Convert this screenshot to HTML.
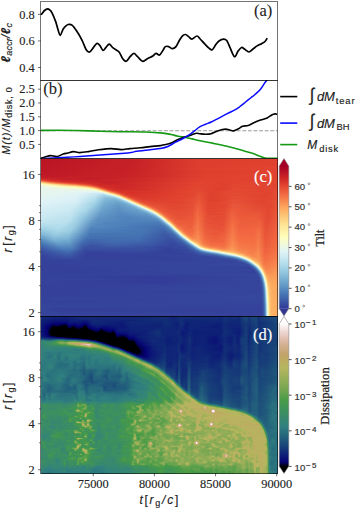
<!DOCTYPE html><html><head><meta charset="utf-8"><style>
*{margin:0;padding:0}
html,body{width:357px;height:510px;overflow:hidden;background:#fff}
#root{position:relative;width:357px;height:510px}
svg{position:absolute;left:0;top:0}
.tl{font-family:"Liberation Serif",serif;font-size:12.4px;fill:#222;stroke:#222;stroke-width:0.12px}
.pl{font-family:"Liberation Serif",serif;font-size:16.5px;fill:#222;stroke:#222;stroke-width:0.1px}
.ml{font-family:"Liberation Sans",sans-serif;font-style:italic;font-size:12.5px;fill:#222;letter-spacing:0.3px;stroke:#222;stroke-width:0.15px}
.sub{font-size:10px}
.lg{font-family:"Liberation Sans",sans-serif;font-style:italic;font-size:12.5px;fill:#222;stroke:#222;stroke-width:0.15px}
.lsub{font-size:10.5px}
.int{font-style:normal;font-size:15px}
.cb{font-family:"Liberation Sans",sans-serif;font-size:9.6px;fill:#333;stroke:#333;stroke-width:0.2px}
.sup{font-size:6.5px}
.deg{font-size:6px}
.cl{font-family:"Liberation Serif",serif;font-size:12px;fill:#222;stroke:#222;stroke-width:0.25px}
.hm{position:absolute;overflow:hidden}
.hm>div{position:absolute;left:0;width:100%}
</style></head><body><div id="root"><div class="hm" style="left:40.7px;top:158.5px;width:237px;height:158px"><div style="top:0px;height:1px;background:linear-gradient(90deg,#bb1526 0.5px,#c62027 91.5px,#dd3d2d 158.5px,#e0422f 236.5px)"></div><div style="top:1px;height:1px;background:linear-gradient(90deg,#bb1526 0.5px,#c62027 91.5px,#dd3d2d 157.5px,#e0422f 236.5px)"></div><div style="top:2px;height:1px;background:linear-gradient(90deg,#bb1526 0.5px,#c62027 91.5px,#dd3d2d 157.5px,#e0422f 236.5px)"></div><div style="top:3px;height:1px;background:linear-gradient(90deg,#bb1526 0.5px,#c62027 90.5px,#dd3d2d 158.5px,#e0422f 236.5px)"></div><div style="top:4px;height:1px;background:linear-gradient(90deg,#bb1526 0.5px,#c82227 95.5px,#dd3d2d 160.5px,#e0422f 236.5px)"></div><div style="top:5px;height:1px;background:linear-gradient(90deg,#bd1726 0.5px,#c62027 90.5px,#dd3d2d 157.5px,#e0422f 236.5px)"></div><div style="top:6px;height:1px;background:linear-gradient(90deg,#bd1726 0.5px,#c62027 89.5px,#dd3d2d 158.5px,#e0422f 236.5px)"></div><div style="top:7px;height:1px;background:linear-gradient(90deg,#bd1726 0.5px,#c62027 89.5px,#de402e 157.5px,#e14430 236.5px)"></div><div style="top:8px;height:1px;background:linear-gradient(90deg,#bd1726 0.5px,#c82227 93.5px,#dd3d2d 160.5px,#e14430 236.5px)"></div><div style="top:9px;height:1px;background:linear-gradient(90deg,#bd1726 0.5px,#c82227 93.5px,#de402e 158.5px,#e14430 236.5px)"></div><div style="top:10px;height:1px;background:linear-gradient(90deg,#bd1726 0.5px,#c82227 92.5px,#dd3d2d 159.5px,#e14430 236.5px)"></div><div style="top:11px;height:1px;background:linear-gradient(90deg,#bd1726 0.5px,#c82227 92.5px,#de402e 159.5px,#e14430 236.5px)"></div><div style="top:12px;height:1px;background:linear-gradient(90deg,#bd1726 0.5px,#ca2427 96.5px,#dd3d2d 160.5px,#de402e 218.5px,#e14430 236.5px)"></div><div style="top:13px;height:1px;background:linear-gradient(90deg,#be1827 0.5px,#c82227 90.5px,#dd3d2d 160.5px,#e0422f 218.5px,#e14430 236.5px)"></div><div style="top:14px;height:1px;background:linear-gradient(90deg,#be1827 0.5px,#c82227 90.5px,#de402e 160.5px,#e14430 236.5px)"></div><div style="top:15px;height:1px;background:linear-gradient(90deg,#be1827 0.5px,#ca2427 94.5px,#de402e 160.5px,#e14430 236.5px)"></div><div style="top:16px;height:1px;background:linear-gradient(90deg,#c01a27 0.5px,#c82227 88.5px,#de402e 163.5px,#e14430 236.5px)"></div><div style="top:17px;height:1px;background:linear-gradient(90deg,#c01a27 0.5px,#ca2427 92.5px,#de402e 163.5px,#e14430 235.5px,#e24731 236.5px)"></div><div style="top:18px;height:1px;background:linear-gradient(90deg,#c41e27 0.5px,#c62027 80.5px,#de402e 161.5px,#e0422f 186.5px,#e14430 234.5px,#e24731 236.5px)"></div><div style="top:19px;height:1px;background:linear-gradient(90deg,#ca2427 0.5px,#c21c27 51.5px,#db382b 137.5px,#de402e 159.5px,#e0422f 185.5px,#e14430 234.5px,#e24731 236.5px)"></div><div style="top:20px;height:1px;background:linear-gradient(90deg,#d83128 0.5px,#c41e27 20.5px,#cc2627 93.5px,#e0422f 158.5px,#e0422f 185.5px,#e0422f 218.5px,#e24731 236.5px)"></div><div style="top:21px;height:1px;background:linear-gradient(90deg,#e65036 0.5px,#d42d27 9.5px,#c41e27 41.5px,#d42d27 111.5px,#e0422f 159.5px,#e0422f 184.5px,#e0422f 219.5px,#e24731 236.5px)"></div><div style="top:22px;height:1px;background:linear-gradient(90deg,#f8864f 0.5px,#e34933 9.5px,#d02927 23.5px,#c62027 70.5px,#e0422f 159.5px,#e0422f 184.5px,#e0422f 219.5px,#e24731 236.5px)"></div><div style="top:23px;height:1px;background:linear-gradient(90deg,#fec87a 0.5px,#f7814c 8.5px,#e65036 17.5px,#d62f27 32.5px,#c62027 64.5px,#e14430 155.5px,#de402e 182.5px,#e24731 210.5px,#e0422f 231.5px,#e24731 236.5px)"></div><div style="top:24px;height:1px;background:linear-gradient(90deg,#fff0a8 0.5px,#feca7c 7.5px,#f99153 15.5px,#ed5f3c 25.5px,#d22b27 47.5px,#c82227 70.5px,#e14430 154.5px,#de402e 182.5px,#e24731 210.5px,#e0422f 230.5px,#e34933 236.5px)"></div><div style="top:25px;height:1px;background:linear-gradient(90deg,#fafdc9 0.5px,#fff1aa 7.5px,#fdbb6d 19.5px,#ea5739 40.5px,#d02927 54.5px,#ca2427 76.5px,#e14430 158.5px,#de402e 182.5px,#e24731 193.5px,#e14430 232.5px,#e34933 236.5px)"></div><div style="top:26px;height:1px;background:linear-gradient(90deg,#eff9dd 0.5px,#fffbb9 12.5px,#fdbb6d 33.5px,#eb5a3a 48.5px,#d02927 58.5px,#d02927 94.5px,#e14430 159.5px,#de402e 182.5px,#e24731 194.5px,#e14430 232.5px,#e34933 236.5px)"></div><div style="top:27px;height:1px;background:linear-gradient(90deg,#eaf7e6 0.5px,#fafdc9 16.5px,#fee597 35.5px,#fdaf62 45.5px,#e95538 54.5px,#d42d27 60.5px,#cc2627 80.5px,#e14430 153.5px,#e0422f 161.5px,#e0422f 183.5px,#e24731 207.5px,#e14430 232.5px,#e34933 236.5px)"></div><div style="top:28px;height:1px;background:linear-gradient(90deg,#e7f6eb 0.5px,#fdfec2 33.5px,#feeba1 43.5px,#fed081 48.5px,#fcaa5f 52.5px,#e75337 58.5px,#d62f27 63.5px,#ce2827 79.5px,#e14430 152.5px,#e14430 159.5px,#de402e 182.5px,#e24731 194.5px,#e14430 232.5px,#e34933 236.5px)"></div><div style="top:29px;height:1px;background:linear-gradient(90deg,#e6f5ed 0.5px,#f3fbd4 38.5px,#fff8b5 47.5px,#fed687 53.5px,#fa9656 57.5px,#e95538 61.5px,#d83128 66.5px,#ce2827 80.5px,#e14430 152.5px,#e24731 158.5px,#dd3d2d 179.5px,#e24731 193.5px,#e0422f 220.5px,#e34933 236.5px)"></div><div style="top:30px;height:1px;background:linear-gradient(90deg,#e6f5ed 0.5px,#e9f6e8 31.5px,#f1fad9 46.5px,#fff8b5 53.5px,#fee294 56.5px,#fa9b58 60.5px,#ea5739 64.5px,#da362a 68.5px,#d02927 81.5px,#e14430 152.5px,#e34933 158.5px,#dd3d2d 176.5px,#e34933 193.5px,#e14430 230.5px,#e44c34 236.5px)"></div><div style="top:31px;height:1px;background:linear-gradient(90deg,#e6f5ed 0.5px,#e9f6e8 48.5px,#f8fccb 55.5px,#fff1aa 58.5px,#fec87a 61.5px,#f88950 64.5px,#e54e35 68.5px,#d83128 74.5px,#d83128 105.5px,#e24731 153.5px,#e24731 159.5px,#de402e 177.5px,#e34933 193.5px,#e14430 231.5px,#e44c34 236.5px)"></div><div style="top:32px;height:1px;background:linear-gradient(90deg,#e6f5ed 0.5px,#e5f5ef 34.5px,#e5f5ef 54.5px,#f6fbd0 59.5px,#fff7b3 61.5px,#fecc7e 64.5px,#f98e52 67.5px,#e75337 71.5px,#d83128 78.5px,#da362a 113.5px,#e24731 152.5px,#e34933 158.5px,#de402e 174.5px,#e34933 188.5px,#e0422f 221.5px,#e34933 234.5px,#e44c34 236.5px)"></div><div style="top:33px;height:1px;background:linear-gradient(90deg,#e6f5ed 0.5px,#e4f4f1 35.5px,#dcf1f7 58.5px,#e7f6eb 61.5px,#fffcba 64.5px,#fed081 67.5px,#fa9656 70.5px,#ec5c3b 74.5px,#db382b 79.5px,#d62f27 90.5px,#e24731 152.5px,#e44c34 158.5px,#de402e 171.5px,#e24731 185.5px,#e24731 216.5px,#e0422f 228.5px,#e44c34 236.5px)"></div><div style="top:34px;height:1px;background:linear-gradient(90deg,#e6f5ed 0.5px,#e2f4f4 35.5px,#cbe9f2 56.5px,#cdeaf3 62.5px,#e1f3f6 64.5px,#feffc0 67.5px,#fdc778 71.5px,#f46d43 76.5px,#e0422f 80.5px,#d83128 87.5px,#de402e 138.5px,#e34933 153.5px,#e44c34 158.5px,#de402e 174.5px,#e44c34 189.5px,#e14430 229.5px,#e44c34 236.5px)"></div><div style="top:35px;height:1px;background:linear-gradient(90deg,#e5f5ef 0.5px,#e1f3f6 35.5px,#c9e8f2 54.5px,#b4deec 62.5px,#cdeaf3 66.5px,#e4f4f1 68.5px,#fffcba 71.5px,#fed485 74.5px,#fa9656 77.5px,#eb5a3a 80.5px,#dc3b2c 84.5px,#d93429 96.5px,#e14430 151.5px,#e65036 157.5px,#de402e 168.5px,#e24731 185.5px,#e44c34 193.5px,#e0422f 222.5px,#e54e35 236.5px)"></div><div style="top:36px;height:1px;background:linear-gradient(90deg,#e5f5ef 0.5px,#def2f7 36.5px,#c3e5f0 54.5px,#a3d3e6 63.5px,#b9e0ed 68.5px,#daf0f6 71.5px,#eff9dd 73.5px,#fff7b3 75.5px,#fdbf71 78.5px,#f57245 81.5px,#e34933 84.5px,#d93429 91.5px,#e24731 151.5px,#e65036 157.5px,#de402e 171.5px,#e24731 184.5px,#e34933 194.5px,#e24731 218.5px,#e0422f 228.5px,#e54e35 236.5px)"></div><div style="top:37px;height:1px;background:linear-gradient(90deg,#e4f4f1 0.5px,#def2f7 35.5px,#c1e4ef 53.5px,#97c9e0 64.5px,#acdae9 71.5px,#cdeaf3 74.5px,#def2f7 75.5px,#fafdc9 77.5px,#fee294 79.5px,#fdaf62 81.5px,#f16640 84.5px,#e0422f 88.5px,#da362a 98.5px,#e24731 151.5px,#e75337 157.5px,#de402e 168.5px,#e24731 184.5px,#e54e35 192.5px,#e0422f 222.5px,#e44c34 234.5px,#e54e35 236.5px)"></div><div style="top:38px;height:1px;background:linear-gradient(90deg,#e4f4f1 0.5px,#dcf1f7 35.5px,#b9e0ed 54.5px,#8ec2dc 63.5px,#92c5de 71.5px,#acdae9 75.5px,#e1f3f6 78.5px,#fffbb9 80.5px,#fdb769 83.5px,#f46d43 86.5px,#e14430 90.5px,#db382b 100.5px,#e24731 151.5px,#e75337 157.5px,#de402e 169.5px,#e24731 184.5px,#e54e35 193.5px,#e0422f 223.5px,#e54e35 236.5px)"></div><div style="top:39px;height:1px;background:linear-gradient(90deg,#e2f4f4 0.5px,#dcf1f7 34.5px,#b6dfec 53.5px,#85bbd9 64.5px,#85bbd9 73.5px,#a1d1e5 77.5px,#daf0f6 80.5px,#fdfec2 82.5px,#feda8a 84.5px,#fca55d 86.5px,#f57245 88.5px,#e24731 92.5px,#dc3b2c 102.5px,#e0422f 138.5px,#e44c34 152.5px,#e75337 158.5px,#de402e 169.5px,#e24731 184.5px,#e54e35 193.5px,#e14430 229.5px,#e54e35 236.5px)"></div><div style="top:40px;height:1px;background:linear-gradient(90deg,#e2f4f4 0.5px,#dcf1f7 34.5px,#aedbea 54.5px,#81b7d7 64.5px,#7ab2d4 74.5px,#90c3dd 78.5px,#bbe1ed 81.5px,#d1ecf4 82.5px,#e6f5ed 83.5px,#f7fcce 84.5px,#fee192 86.5px,#fdad60 88.5px,#f26841 91.5px,#e44c34 94.5px,#dd3d2d 101.5px,#e14430 140.5px,#e44c34 152.5px,#e95538 157.5px,#de402e 169.5px,#e14430 183.5px,#e65036 192.5px,#e14430 229.5px,#e65036 236.5px)"></div><div style="top:41px;height:1px;background:linear-gradient(90deg,#e1f3f6 0.5px,#daf0f6 34.5px,#aedbea 53.5px,#7db4d5 64.5px,#74add1 75.5px,#8cc0db 80.5px,#b4deec 83.5px,#e1f3f6 85.5px,#fff8b5 87.5px,#fdb366 90.5px,#f46d43 93.5px,#e34933 97.5px,#de402e 110.5px,#e14430 139.5px,#e54e35 152.5px,#e95538 158.5px,#de402e 168.5px,#e0422f 182.5px,#e75337 191.5px,#e54e35 199.5px,#e14430 221.5px,#e44c34 233.5px,#e65036 236.5px)"></div><div style="top:42px;height:1px;background:linear-gradient(90deg,#e0f3f8 0.5px,#d8eff6 34.5px,#aad8e9 53.5px,#78b0d3 64.5px,#6ea6ce 76.5px,#87bdd9 82.5px,#aedbea 85.5px,#dcf1f7 87.5px,#fffdbc 89.5px,#fdb96b 92.5px,#f57245 95.5px,#e44c34 99.5px,#e0422f 112.5px,#e14430 138.5px,#e54e35 152.5px,#ea5739 157.5px,#de402e 168.5px,#e34933 184.5px,#e65036 193.5px,#e14430 221.5px,#e44c34 233.5px,#e65036 236.5px)"></div><div style="top:43px;height:1px;background:linear-gradient(90deg,#e0f3f8 0.5px,#d6eef5 34.5px,#a1d1e5 54.5px,#74add1 64.5px,#6ba2cb 77.5px,#7db4d5 83.5px,#99cae1 86.5px,#d6eef5 89.5px,#eaf7e6 90.5px,#fcfec5 91.5px,#feda8a 93.5px,#fca55d 95.5px,#f26841 98.5px,#e44c34 102.5px,#de402e 135.5px,#e54e35 152.5px,#eb5a3a 157.5px,#e0422f 167.5px,#e34933 184.5px,#e75337 192.5px,#e14430 222.5px,#e44c34 232.5px,#e65036 236.5px)"></div><div style="top:44px;height:1px;background:linear-gradient(90deg,#def2f7 0.5px,#d4edf4 34.5px,#a1d1e5 53.5px,#74add1 63.5px,#679ec9 77.5px,#78b0d3 85.5px,#a6d5e7 89.5px,#cfebf3 91.5px,#e6f5ed 92.5px,#f8fccb 93.5px,#fee192 95.5px,#fdaf62 97.5px,#f67f4b 99.5px,#e75337 103.5px,#e24731 113.5px,#e24731 139.5px,#e44c34 151.5px,#eb5a3a 157.5px,#e0422f 168.5px,#e34933 184.5px,#e75337 192.5px,#e24731 220.5px,#e24731 230.5px,#e75337 236.5px)"></div><div style="top:45px;height:1px;background:linear-gradient(90deg,#dcf1f7 0.5px,#d1ecf4 33.5px,#a1d1e5 52.5px,#72abd0 63.5px,#659bc8 75.5px,#6ea6ce 85.5px,#87bdd9 89.5px,#b4deec 92.5px,#e2f4f4 94.5px,#fff7b3 96.5px,#fdb567 99.5px,#f57547 102.5px,#e75337 106.5px,#e24731 119.5px,#e24731 139.5px,#e65036 152.5px,#ec5c3b 157.5px,#e24731 165.5px,#e24731 183.5px,#e95538 192.5px,#e65036 199.5px,#e24731 221.5px,#e24731 229.5px,#e75337 236.5px)"></div><div style="top:46px;height:1px;background:linear-gradient(90deg,#dcf1f7 0.5px,#cfebf3 33.5px,#a1d1e5 51.5px,#72abd0 62.5px,#6297c6 76.5px,#70a9cf 88.5px,#9dcee3 93.5px,#def2f7 96.5px,#fffcba 98.5px,#fca55d 102.5px,#f46d43 105.5px,#e75337 109.5px,#e24731 129.5px,#e24731 138.5px,#e65036 152.5px,#ec5c3b 157.5px,#e0422f 169.5px,#e14430 182.5px,#ea5739 191.5px,#e65036 209.5px,#e24731 221.5px,#e24731 229.5px,#e75337 236.5px)"></div><div style="top:47px;height:1px;background:linear-gradient(90deg,#daf0f6 0.5px,#cdeaf3 33.5px,#9dcee3 51.5px,#6ea6ce 62.5px,#6095c4 78.5px,#70a9cf 90.5px,#8cc0db 94.5px,#bfe3ef 97.5px,#d8eff6 98.5px,#ebf7e4 99.5px,#fcfec5 100.5px,#fede8e 102.5px,#fdaf62 104.5px,#f57245 107.5px,#e95538 111.5px,#e24731 130.5px,#e54e35 151.5px,#ed5f3c 157.5px,#e24731 165.5px,#e14430 182.5px,#ea5739 192.5px,#e65036 210.5px,#e34933 220.5px,#e24731 228.5px,#e75337 236.5px)"></div><div style="top:48px;height:1px;background:linear-gradient(90deg,#d8eff6 0.5px,#cdeaf3 31.5px,#a6d5e7 48.5px,#6da4cc 62.5px,#5e93c3 78.5px,#6ea6ce 92.5px,#8abeda 96.5px,#b9e0ed 99.5px,#cfebf3 100.5px,#e6f5ed 101.5px,#f7fcce 102.5px,#fee496 104.5px,#fb9d59 107.5px,#f36b42 110.5px,#e75337 114.5px,#e24731 137.5px,#e54e35 151.5px,#ee613e 156.5px,#e24731 166.5px,#e24731 182.5px,#ea5739 192.5px,#e75337 199.5px,#e44c34 219.5px,#e24731 228.5px,#e95538 236.5px)"></div><div style="top:49px;height:1px;background:linear-gradient(90deg,#d6eef5 0.5px,#cdeaf3 29.5px,#a8d6e8 46.5px,#6da4cc 61.5px,#5c90c2 77.5px,#6ba2cb 93.5px,#87bdd9 98.5px,#b2ddeb 101.5px,#e1f3f6 103.5px,#fffbb9 105.5px,#fdbb6d 108.5px,#f67a49 111.5px,#ea5739 115.5px,#e34933 129.5px,#e34933 138.5px,#e75337 152.5px,#ee613e 157.5px,#e14430 167.5px,#e34933 183.5px,#eb5a3a 192.5px,#e95538 200.5px,#e44c34 220.5px,#e24731 228.5px,#e95538 236.5px)"></div><div style="top:50px;height:1px;background:linear-gradient(90deg,#d6eef5 0.5px,#cbe9f2 30.5px,#a8d6e8 45.5px,#69a0ca 62.5px,#5c90c2 76.5px,#69a0ca 95.5px,#83b9d8 100.5px,#acdae9 103.5px,#daf0f6 105.5px,#feffc0 107.5px,#fdbf71 110.5px,#f98e52 112.5px,#f46d43 114.5px,#e95538 118.5px,#e24731 136.5px,#e65036 151.5px,#ef633f 156.5px,#e14430 167.5px,#e34933 183.5px,#ec5c3b 191.5px,#e95538 199.5px,#e44c34 220.5px,#e24731 228.5px,#e95538 236.5px)"></div><div style="top:51px;height:1px;background:linear-gradient(90deg,#d4edf4 0.5px,#cbe9f2 28.5px,#a8d6e8 44.5px,#69a0ca 61.5px,#5a8ec1 77.5px,#679ec9 96.5px,#7fb6d6 102.5px,#a6d5e7 105.5px,#d4edf4 107.5px,#eaf7e6 108.5px,#fcfec5 109.5px,#feda8a 111.5px,#fba35c 113.5px,#f57748 115.5px,#ec5c3b 118.5px,#e44c34 127.5px,#e44c34 138.5px,#e65036 151.5px,#f16640 156.5px,#e34933 165.5px,#e24731 182.5px,#ec5c3b 191.5px,#e95538 199.5px,#e65036 219.5px,#e24731 227.5px,#e95538 236.5px)"></div><div style="top:52px;height:1px;background:linear-gradient(90deg,#d1ecf4 0.5px,#c9e8f2 28.5px,#a8d6e8 43.5px,#69a0ca 60.5px,#588cc0 76.5px,#659bc8 98.5px,#7ab2d4 104.5px,#a1d1e5 107.5px,#cfebf3 109.5px,#e9f6e8 110.5px,#fcfec5 111.5px,#fed687 113.5px,#fb9d59 115.5px,#f57245 117.5px,#e95538 121.5px,#e44c34 138.5px,#e75337 151.5px,#f16640 156.5px,#e14430 168.5px,#e34933 182.5px,#ed5f3c 191.5px,#e95538 199.5px,#e65036 219.5px,#e24731 227.5px,#ea5739 236.5px)"></div><div style="top:53px;height:1px;background:linear-gradient(90deg,#d1ecf4 0.5px,#c7e7f1 29.5px,#9fd0e4 44.5px,#659bc8 60.5px,#578abf 80.5px,#679ec9 102.5px,#76afd2 106.5px,#9fd0e4 109.5px,#cfebf3 111.5px,#eaf7e6 112.5px,#fffebe 113.5px,#fdb164 116.5px,#f67c4a 118.5px,#ec5c3b 121.5px,#e54e35 130.5px,#e54e35 139.5px,#e75337 151.5px,#f26841 156.5px,#e34933 166.5px,#e44c34 183.5px,#ed5f3c 191.5px,#ea5739 199.5px,#e75337 219.5px,#e24731 227.5px,#ea5739 236.5px)"></div><div style="top:54px;height:1px;background:linear-gradient(90deg,#cfebf3 0.5px,#c5e6f0 29.5px,#9bcce2 44.5px,#659bc8 59.5px,#5588be 80.5px,#6399c7 104.5px,#7fb6d6 109.5px,#b6dfec 112.5px,#d6eef5 113.5px,#f0f9db 114.5px,#fff7b3 115.5px,#fdc173 117.5px,#f8864f 119.5px,#ee613e 122.5px,#e65036 128.5px,#e75337 151.5px,#f26841 156.5px,#e24731 167.5px,#e34933 182.5px,#ee613e 191.5px,#ea5739 199.5px,#ea5739 215.5px,#e24731 227.5px,#ea5739 236.5px)"></div><div style="top:55px;height:1px;background:linear-gradient(90deg,#cfebf3 0.5px,#c3e5f0 29.5px,#9bcce2 43.5px,#6399c7 59.5px,#5588be 79.5px,#6297c6 106.5px,#7db4d5 111.5px,#bfe3ef 114.5px,#e1f3f6 115.5px,#fafdc9 116.5px,#fed081 118.5px,#fdb164 119.5px,#f67c4a 121.5px,#ec5c3b 124.5px,#e44c34 136.5px,#e95538 151.5px,#f36b42 156.5px,#e24731 167.5px,#e34933 182.5px,#ee613e 191.5px,#ea5739 201.5px,#ea5739 218.5px,#e24731 226.5px,#ea5739 236.5px)"></div><div style="top:56px;height:1px;background:linear-gradient(90deg,#cdeaf3 0.5px,#c1e4ef 29.5px,#9bcce2 42.5px,#6297c6 58.5px,#5385bd 82.5px,#5e93c3 107.5px,#72abd0 112.5px,#92c5de 114.5px,#cdeaf3 116.5px,#ecf8e2 117.5px,#fff8b5 118.5px,#fdbf71 120.5px,#f7844e 122.5px,#ed5f3c 125.5px,#e54e35 136.5px,#e95538 151.5px,#f36b42 156.5px,#e44c34 166.5px,#e44c34 182.5px,#ef633f 191.5px,#ea5739 198.5px,#eb5a3a 215.5px,#e95538 219.5px,#e34933 227.5px,#eb5a3a 236.5px)"></div><div style="top:57px;height:1px;background:linear-gradient(90deg,#cdeaf3 0.5px,#bde2ee 30.5px,#97c9e0 42.5px,#6095c4 58.5px,#5183bb 82.5px,#5a8ec1 109.5px,#74add1 114.5px,#9bcce2 116.5px,#e0f3f8 118.5px,#fafdc9 119.5px,#feeba1 120.5px,#fdad60 122.5px,#f88c51 123.5px,#f26841 125.5px,#e75337 131.5px,#e75337 139.5px,#ea5739 151.5px,#f46d43 156.5px,#e54e35 165.5px,#e34933 181.5px,#ef633f 191.5px,#eb5a3a 199.5px,#eb5a3a 215.5px,#e75337 220.5px,#e34933 227.5px,#eb5a3a 236.5px)"></div><div style="top:58px;height:1px;background:linear-gradient(90deg,#cbe9f2 0.5px,#bde2ee 29.5px,#97c9e0 41.5px,#5e93c3 57.5px,#5183bb 86.5px,#588cc0 110.5px,#6da4cc 115.5px,#8ec2dc 117.5px,#cdeaf3 119.5px,#eff9dd 120.5px,#fff5af 121.5px,#fdb366 123.5px,#f67a49 125.5px,#ec5c3b 128.5px,#e65036 137.5px,#ea5739 151.5px,#f46d43 157.5px,#e54e35 165.5px,#e44c34 182.5px,#f16640 191.5px,#eb5a3a 199.5px,#ec5c3b 215.5px,#ea5739 219.5px,#e34933 226.5px,#eb5a3a 236.5px)"></div><div style="top:59px;height:1px;background:linear-gradient(90deg,#c9e8f2 0.5px,#bbe1ed 29.5px,#92c5de 41.5px,#5c90c2 57.5px,#5183bb 86.5px,#578abf 112.5px,#659bc8 116.5px,#81b7d7 118.5px,#bfe3ef 120.5px,#e6f5ed 121.5px,#fffbb9 122.5px,#fee090 123.5px,#fdb96b 124.5px,#f67f4b 126.5px,#ed5f3c 129.5px,#e75337 137.5px,#ea5739 151.5px,#f47044 156.5px,#e65036 165.5px,#e34933 177.5px,#e65036 183.5px,#f16640 191.5px,#ec5c3b 199.5px,#ec5c3b 215.5px,#e95538 220.5px,#e34933 226.5px,#ec5c3b 236.5px)"></div><div style="top:60px;height:1px;background:linear-gradient(90deg,#c7e7f1 0.5px,#bbe1ed 28.5px,#97c9e0 39.5px,#5c90c2 56.5px,#4f81ba 86.5px,#5588be 114.5px,#69a0ca 118.5px,#90c3dd 120.5px,#e0f3f8 122.5px,#fdfec2 123.5px,#fdbf71 125.5px,#f7844e 127.5px,#f26841 129.5px,#e75337 136.5px,#eb5a3a 151.5px,#f47044 157.5px,#e75337 164.5px,#e34933 174.5px,#e65036 183.5px,#f26841 191.5px,#ec5c3b 198.5px,#ed5f3c 215.5px,#eb5a3a 219.5px,#e34933 226.5px,#ec5c3b 236.5px)"></div><div style="top:61px;height:1px;background:linear-gradient(90deg,#c5e6f0 0.5px,#b9e0ed 28.5px,#90c3dd 40.5px,#5a8ec1 55.5px,#4f81ba 89.5px,#5385bd 116.5px,#6399c7 119.5px,#8abeda 121.5px,#d8eff6 123.5px,#f8fccb 124.5px,#feea9f 125.5px,#fca55d 127.5px,#f57748 129.5px,#eb5a3a 133.5px,#eb5a3a 151.5px,#f57245 156.5px,#e65036 165.5px,#e54e35 182.5px,#f26841 191.5px,#ec5c3b 199.5px,#ec5c3b 214.5px,#ed5f3c 218.5px,#e44c34 225.5px,#ec5c3b 236.5px)"></div><div style="top:62px;height:1px;background:linear-gradient(90deg,#c1e4ef 0.5px,#bbe1ed 25.5px,#9dcee3 36.5px,#5a8ec1 54.5px,#4f81ba 86.5px,#4f81ba 117.5px,#6095c4 120.5px,#83b9d8 122.5px,#cdeaf3 124.5px,#f2fad6 125.5px,#feefa6 126.5px,#fdaf62 128.5px,#f67c4a 130.5px,#ed5f3c 133.5px,#eb5a3a 141.5px,#ea5739 150.5px,#f57245 156.5px,#e75337 165.5px,#e44c34 177.5px,#e75337 183.5px,#f36b42 191.5px,#ec5c3b 199.5px,#ed5f3c 214.5px,#ee613e 218.5px,#e44c34 225.5px,#ec5c3b 236.5px)"></div><div style="top:63px;height:1px;background:linear-gradient(90deg,#bfe3ef 0.5px,#b9e0ed 25.5px,#97c9e0 37.5px,#6095c4 51.5px,#5385bd 63.5px,#4a7ab7 117.5px,#5c90c2 121.5px,#7db4d5 123.5px,#c5e6f0 125.5px,#ebf7e4 126.5px,#fff6b1 127.5px,#fdb769 129.5px,#f67f4b 131.5px,#ed5f3c 134.5px,#ec5c3b 151.5px,#f57547 156.5px,#e75337 165.5px,#e44c34 181.5px,#f36b42 191.5px,#ed5f3c 199.5px,#ed5f3c 214.5px,#ee613e 218.5px,#e44c34 225.5px,#ed5f3c 236.5px)"></div><div style="top:64px;height:1px;background:linear-gradient(90deg,#bbe1ed 0.5px,#b9e0ed 23.5px,#9bcce2 35.5px,#5c90c2 51.5px,#5183bb 65.5px,#4a7ab7 119.5px,#588cc0 122.5px,#76afd2 124.5px,#b9e0ed 126.5px,#e4f4f1 127.5px,#fffdbc 128.5px,#fdbf71 130.5px,#f7814c 132.5px,#f16640 134.5px,#ec5c3b 139.5px,#eb5a3a 150.5px,#f57547 156.5px,#e54e35 167.5px,#e65036 182.5px,#f46d43 191.5px,#ed5f3c 199.5px,#ee613e 214.5px,#ef633f 218.5px,#e44c34 225.5px,#ed5f3c 236.5px)"></div><div style="top:65px;height:1px;background:linear-gradient(90deg,#b6dfec 0.5px,#b4deec 24.5px,#99cae1 35.5px,#6095c4 49.5px,#5385bd 57.5px,#4676b5 119.5px,#578abf 123.5px,#70a9cf 125.5px,#aedbea 127.5px,#daf0f6 128.5px,#fbfdc7 129.5px,#fee79b 130.5px,#fdc374 131.5px,#fba05b 132.5px,#f57245 134.5px,#ed5f3c 137.5px,#ed5f3c 151.5px,#f57748 156.5px,#e95538 164.5px,#e54e35 181.5px,#f47044 191.5px,#ed5f3c 198.5px,#ee613e 214.5px,#ef633f 218.5px,#e54e35 224.5px,#ed5f3c 236.5px)"></div><div style="top:66px;height:1px;background:linear-gradient(90deg,#b2ddeb 0.5px,#b4deec 22.5px,#99cae1 34.5px,#578abf 51.5px,#4d7fb9 84.5px,#4471b2 120.5px,#5385bd 124.5px,#6ba2cb 126.5px,#81b7d7 127.5px,#d1ecf4 129.5px,#f6fbd0 130.5px,#fee99d 131.5px,#fdc374 132.5px,#fba05b 133.5px,#f57245 135.5px,#ef633f 138.5px,#ec5c3b 150.5px,#f57748 156.5px,#e95538 165.5px,#e54e35 181.5px,#f47044 191.5px,#ed5f3c 197.5px,#ed5f3c 213.5px,#f16640 218.5px,#e54e35 224.5px,#ed5f3c 236.5px)"></div><div style="top:67px;height:1px;background:linear-gradient(90deg,#aedbea 0.5px,#b4deec 19.5px,#9dcee3 32.5px,#578abf 50.5px,#4b7db8 84.5px,#4471b2 112.5px,#4471b2 122.5px,#588cc0 126.5px,#7ab2d4 128.5px,#9dcee3 129.5px,#cdeaf3 130.5px,#f5fbd2 131.5px,#feea9f 132.5px,#fdc576 133.5px,#fba05b 134.5px,#f7844e 135.5px,#f36b42 137.5px,#ec5c3b 149.5px,#f67a49 156.5px,#e95538 165.5px,#e65036 181.5px,#f57245 191.5px,#ee613e 198.5px,#ef633f 214.5px,#f16640 218.5px,#e54e35 225.5px,#ee613e 236.5px)"></div><div style="top:68px;height:1px;background:linear-gradient(90deg,#a8d6e8 0.5px,#b2ddeb 18.5px,#9dcee3 31.5px,#5385bd 50.5px,#4574b3 107.5px,#426cb0 122.5px,#5588be 127.5px,#78b0d3 129.5px,#cbe9f2 131.5px,#f5fbd2 132.5px,#feea9f 133.5px,#fdc576 134.5px,#fba35c 135.5px,#f8864f 136.5px,#f47044 138.5px,#ec5c3b 148.5px,#f57547 154.5px,#f57547 158.5px,#eb5a3a 163.5px,#e65036 173.5px,#ea5739 183.5px,#f57245 191.5px,#ee613e 198.5px,#ef633f 214.5px,#f26841 218.5px,#e65036 224.5px,#ee613e 236.5px)"></div><div style="top:69px;height:1px;background:linear-gradient(90deg,#a3d3e6 0.5px,#b0dcea 17.5px,#9bcce2 31.5px,#5385bd 49.5px,#4b7db8 86.5px,#426cb0 113.5px,#426cb0 124.5px,#5385bd 128.5px,#76afd2 130.5px,#cbe9f2 132.5px,#f3fbd4 133.5px,#feeba1 134.5px,#fdc778 135.5px,#fca55d 136.5px,#f67c4a 138.5px,#ef633f 143.5px,#ef633f 151.5px,#f67c4a 156.5px,#ea5739 165.5px,#e65036 180.5px,#f57547 191.5px,#ef633f 198.5px,#ef633f 213.5px,#f46d43 217.5px,#e65036 225.5px,#ee613e 236.5px)"></div><div style="top:70px;height:1px;background:linear-gradient(90deg,#9dcee3 0.5px,#acdae9 16.5px,#9bcce2 30.5px,#4d7fb9 50.5px,#4676b5 103.5px,#4065ac 122.5px,#4a7ab7 128.5px,#6095c4 130.5px,#76afd2 131.5px,#99cae1 132.5px,#c9e8f2 133.5px,#f2fad6 134.5px,#feeda4 135.5px,#feca7c 136.5px,#fcaa5f 137.5px,#f67f4b 139.5px,#ef633f 144.5px,#f16640 151.5px,#f67c4a 156.5px,#eb5a3a 164.5px,#e75337 181.5px,#f57547 191.5px,#ef633f 198.5px,#f16640 214.5px,#f36b42 218.5px,#e65036 224.5px,#ef633f 236.5px)"></div><div style="top:71px;height:1px;background:linear-gradient(90deg,#99cae1 0.5px,#aad8e9 17.5px,#97c9e0 30.5px,#4d7fb9 49.5px,#4676b5 102.5px,#3f62ab 123.5px,#4878b6 129.5px,#5e93c3 131.5px,#72abd0 132.5px,#c5e6f0 134.5px,#eff9dd 135.5px,#fff1aa 136.5px,#fdb164 138.5px,#f7844e 140.5px,#f36b42 143.5px,#ef633f 150.5px,#f67f4b 156.5px,#eb5a3a 165.5px,#e75337 177.5px,#eb5a3a 183.5px,#f57748 191.5px,#ef633f 198.5px,#ef633f 213.5px,#f47044 217.5px,#e75337 224.5px,#ef633f 236.5px)"></div><div style="top:72px;height:1px;background:linear-gradient(90deg,#92c5de 0.5px,#a6d5e7 17.5px,#97c9e0 29.5px,#4d7fb9 48.5px,#4a7ab7 70.5px,#4574b3 103.5px,#3e60aa 124.5px,#4676b5 130.5px,#5c90c2 132.5px,#70a9cf 133.5px,#bfe3ef 135.5px,#ebf7e4 136.5px,#fff5af 137.5px,#fdb567 139.5px,#f8864f 141.5px,#f36b42 144.5px,#f26841 151.5px,#f7814c 156.5px,#ec5c3b 164.5px,#e95538 181.5px,#f57748 191.5px,#f16640 198.5px,#f16640 213.5px,#f46d43 218.5px,#e75337 224.5px,#ef633f 236.5px)"></div><div style="top:73px;height:1px;background:linear-gradient(90deg,#8cc0db 0.5px,#a1d1e5 15.5px,#92c5de 29.5px,#4b7db8 48.5px,#4a7ab7 59.5px,#4574b3 102.5px,#3e5ea8 123.5px,#436fb1 130.5px,#4d7fb9 132.5px,#6da4cc 134.5px,#8cc0db 135.5px,#b9e0ed 136.5px,#e7f6eb 137.5px,#fff8b5 138.5px,#fdb96b 140.5px,#f88950 142.5px,#f46d43 145.5px,#f36b42 151.5px,#f7814c 156.5px,#ec5c3b 165.5px,#e95538 177.5px,#ec5c3b 183.5px,#f67a49 191.5px,#f16640 197.5px,#f16640 213.5px,#f57245 217.5px,#e75337 224.5px,#ef633f 236.5px)"></div><div style="top:74px;height:1px;background:linear-gradient(90deg,#85bbd9 0.5px,#9dcee3 14.5px,#92c5de 27.5px,#659bc8 39.5px,#4676b5 49.5px,#4574b3 100.5px,#3d5ba7 125.5px,#4471b2 132.5px,#578abf 134.5px,#69a0ca 135.5px,#87bdd9 136.5px,#e4f4f1 138.5px,#fffcba 139.5px,#fdbd6f 141.5px,#f88c51 143.5px,#f47044 146.5px,#f46d43 151.5px,#f7844e 156.5px,#ed5f3c 164.5px,#e95538 174.5px,#ee613e 184.5px,#f67a49 191.5px,#f26841 198.5px,#f16640 213.5px,#f57245 217.5px,#e75337 224.5px,#f16640 236.5px)"></div><div style="top:75px;height:1px;background:linear-gradient(90deg,#7fb6d6 0.5px,#99cae1 14.5px,#8ec2dc 27.5px,#6297c6 39.5px,#4574b3 49.5px,#4574b3 98.5px,#3c59a6 125.5px,#4167ad 132.5px,#4878b6 134.5px,#659bc8 136.5px,#83b9d8 137.5px,#e0f3f8 139.5px,#feffc0 140.5px,#fdc374 142.5px,#fca55d 143.5px,#f57748 146.5px,#f47044 151.5px,#f8864f 156.5px,#ee613e 164.5px,#ea5739 172.5px,#ed5f3c 183.5px,#f67c4a 191.5px,#f26841 197.5px,#f26841 213.5px,#f57547 217.5px,#e95538 224.5px,#f16640 236.5px)"></div><div style="top:76px;height:1px;background:linear-gradient(90deg,#76afd2 0.5px,#94c7df 13.5px,#8cc0db 26.5px,#6297c6 38.5px,#4574b3 48.5px,#4574b3 96.5px,#3b56a5 125.5px,#4065ac 133.5px,#5183bb 136.5px,#7fb6d6 138.5px,#daf0f6 140.5px,#fafdc9 141.5px,#feca7c 143.5px,#fdaf62 144.5px,#f8864f 146.5px,#f57245 149.5px,#f67c4a 153.5px,#f8864f 157.5px,#ef633f 163.5px,#eb5a3a 173.5px,#ec5c3b 182.5px,#f67c4a 191.5px,#f26841 198.5px,#f26841 213.5px,#f57547 217.5px,#e95538 224.5px,#f16640 236.5px)"></div><div style="top:77px;height:1px;background:linear-gradient(90deg,#70a9cf 0.5px,#90c3dd 14.5px,#85bbd9 27.5px,#5588be 40.5px,#436fb1 50.5px,#4574b3 84.5px,#426cb0 102.5px,#3b56a5 126.5px,#3f62ab 134.5px,#4f81ba 137.5px,#78b0d3 139.5px,#cfebf3 141.5px,#f2fad6 142.5px,#fff1aa 143.5px,#fdb769 145.5px,#f88c51 147.5px,#f57748 150.5px,#f88950 156.5px,#ef633f 164.5px,#eb5a3a 174.5px,#ee613e 183.5px,#f67f4b 191.5px,#f36b42 197.5px,#f36b42 213.5px,#f57245 218.5px,#e95538 224.5px,#f26841 236.5px)"></div><div style="top:78px;height:1px;background:linear-gradient(90deg,#69a0ca 0.5px,#8abeda 13.5px,#81b7d7 27.5px,#4574b3 45.5px,#436fb1 52.5px,#436fb1 98.5px,#3a54a4 127.5px,#3f62ab 135.5px,#4d7fb9 138.5px,#72abd0 140.5px,#c1e4ef 142.5px,#eaf7e6 143.5px,#fffab7 144.5px,#fdc173 146.5px,#f99355 148.5px,#f67c4a 151.5px,#f88c51 156.5px,#f16640 164.5px,#ec5c3b 172.5px,#ef633f 183.5px,#f67f4b 191.5px,#f36b42 199.5px,#f36b42 213.5px,#f57748 217.5px,#ea5739 224.5px,#f26841 236.5px)"></div><div style="top:79px;height:1px;background:linear-gradient(90deg,#6399c7 0.5px,#83b9d8 12.5px,#7fb6d6 26.5px,#6297c6 35.5px,#436fb1 45.5px,#436fb1 55.5px,#436fb1 96.5px,#3a51a2 129.5px,#4065ac 137.5px,#578abf 140.5px,#8abeda 142.5px,#def2f7 144.5px,#fbfdc7 145.5px,#fecc7e 147.5px,#fdb164 148.5px,#f88c51 150.5px,#f8864f 153.5px,#f88c51 157.5px,#f26841 163.5px,#ec5c3b 173.5px,#ef633f 183.5px,#f7814c 191.5px,#f46d43 197.5px,#f36b42 213.5px,#f57748 217.5px,#ea5739 224.5px,#f26841 236.5px)"></div><div style="top:80px;height:1px;background:linear-gradient(90deg,#5e93c3 0.5px,#7db4d5 13.5px,#78b0d3 26.5px,#436fb1 44.5px,#4167ad 50.5px,#436fb1 76.5px,#426cb0 96.5px,#394fa1 130.5px,#3f62ab 138.5px,#5183bb 141.5px,#7db4d5 143.5px,#cfebf3 145.5px,#f2fad6 146.5px,#fff1aa 147.5px,#fdb96b 149.5px,#fa9656 151.5px,#f98e52 157.5px,#f36b42 163.5px,#ed5f3c 173.5px,#f16640 183.5px,#f7844e 191.5px,#f46d43 198.5px,#f46d43 213.5px,#f67a49 217.5px,#ea5739 224.5px,#f26841 236.5px)"></div><div style="top:81px;height:1px;background:linear-gradient(90deg,#578abf 0.5px,#78b0d3 14.5px,#70a9cf 28.5px,#426cb0 43.5px,#4065ac 50.5px,#426cb0 76.5px,#416aaf 97.5px,#384ca0 130.5px,#3e60aa 139.5px,#4d7fb9 142.5px,#72abd0 144.5px,#bfe3ef 146.5px,#eaf7e6 147.5px,#fffab7 148.5px,#fdc576 150.5px,#fba35c 152.5px,#f88c51 158.5px,#f46d43 163.5px,#ee613e 171.5px,#ef633f 182.5px,#f7844e 191.5px,#f47044 197.5px,#f46d43 213.5px,#f67a49 217.5px,#ea5739 224.5px,#f36b42 236.5px)"></div><div style="top:82px;height:1px;background:linear-gradient(90deg,#5183bb 0.5px,#72abd0 15.5px,#6da4cc 28.5px,#426cb0 42.5px,#3e60aa 49.5px,#416aaf 66.5px,#4167ad 97.5px,#374a9f 130.5px,#3e5ea8 140.5px,#4878b6 143.5px,#69a0ca 145.5px,#87bdd9 146.5px,#e0f3f8 148.5px,#fbfdc7 149.5px,#fed485 151.5px,#fdb164 153.5px,#f47044 163.5px,#ef633f 170.5px,#ef633f 182.5px,#f8864f 191.5px,#f47044 198.5px,#f47044 213.5px,#f67c4a 217.5px,#eb5a3a 224.5px,#f36b42 236.5px)"></div><div style="top:83px;height:1px;background:linear-gradient(90deg,#4b7db8 0.5px,#6ba2cb 14.5px,#69a0ca 27.5px,#4167ad 42.5px,#3e5ea8 50.5px,#4167ad 67.5px,#4065ac 97.5px,#374a9f 131.5px,#3d5ba7 141.5px,#4574b3 144.5px,#6297c6 146.5px,#a1d1e5 148.5px,#cdeaf3 149.5px,#eff9dd 150.5px,#fff7b3 151.5px,#fece7f 153.5px,#fcaa5f 156.5px,#f57547 162.5px,#f16640 170.5px,#f16640 182.5px,#f88950 191.5px,#f57245 198.5px,#f47044 213.5px,#f67c4a 217.5px,#eb5a3a 224.5px,#f36b42 236.5px)"></div><div style="top:84px;height:1px;background:linear-gradient(90deg,#4676b5 0.5px,#679ec9 17.5px,#6399c7 28.5px,#4167ad 41.5px,#3d5ba7 50.5px,#4065ac 70.5px,#3e5ea8 103.5px,#36479e 132.5px,#3c59a6 142.5px,#4b7db8 146.5px,#70a9cf 148.5px,#e1f3f6 151.5px,#fafdc9 152.5px,#fede8e 154.5px,#fdad60 157.5px,#f67a49 162.5px,#f26841 171.5px,#f26841 182.5px,#f88950 191.5px,#f57547 197.5px,#f47044 213.5px,#f67c4a 217.5px,#eb5a3a 224.5px,#f46d43 236.5px)"></div><div style="top:85px;height:1px;background:linear-gradient(90deg,#436fb1 0.5px,#6297c6 17.5px,#5e93c3 29.5px,#4065ac 40.5px,#3b56a5 49.5px,#3f62ab 70.5px,#3d5ba7 103.5px,#36479e 130.5px,#3b56a5 143.5px,#4676b5 147.5px,#659bc8 149.5px,#a3d3e6 151.5px,#cbe9f2 152.5px,#edf8df 153.5px,#fffbb9 154.5px,#fdbf71 157.5px,#f88950 161.5px,#f46d43 168.5px,#f36b42 182.5px,#f88c51 191.5px,#f57547 198.5px,#f57245 213.5px,#f67f4b 217.5px,#ec5c3b 224.5px,#f46d43 236.5px)"></div><div style="top:86px;height:1px;background:linear-gradient(90deg,#416aaf 0.5px,#5c90c2 17.5px,#588cc0 30.5px,#3e60aa 40.5px,#3a54a4 50.5px,#3e60aa 71.5px,#3a54a4 108.5px,#36459c 131.5px,#3a54a4 144.5px,#4471b2 148.5px,#70a9cf 151.5px,#b9e0ed 153.5px,#e2f4f4 154.5px,#fafdc9 155.5px,#fede8e 157.5px,#fba35c 160.5px,#f8864f 163.5px,#f47044 170.5px,#f46d43 182.5px,#f98e52 191.5px,#f57748 198.5px,#f57245 213.5px,#f67f4b 217.5px,#ec5c3b 224.5px,#f46d43 236.5px)"></div><div style="top:87px;height:1px;background:linear-gradient(90deg,#4065ac 0.5px,#588cc0 20.5px,#5588be 30.5px,#3e5ea8 40.5px,#394fa1 49.5px,#3d5ba7 68.5px,#3a51a2 109.5px,#36459c 128.5px,#394fa1 144.5px,#416aaf 149.5px,#5385bd 151.5px,#81b7d7 153.5px,#cfebf3 155.5px,#eff9dd 156.5px,#fffbb9 157.5px,#fdbf71 160.5px,#fa9857 163.5px,#f67a49 169.5px,#f47044 182.5px,#f99153 191.5px,#f67a49 198.5px,#f57547 213.5px,#f7814c 217.5px,#ec5c3b 224.5px,#f47044 236.5px)"></div><div style="top:88px;height:1px;background:linear-gradient(90deg,#3e5ea8 0.5px,#5385bd 20.5px,#5183bb 30.5px,#3a51a2 43.5px,#3a51a2 53.5px,#3b56a5 88.5px,#36459c 119.5px,#36479e 142.5px,#3e5ea8 149.5px,#4d7fb9 152.5px,#72abd0 154.5px,#e0f3f8 157.5px,#f5fbd2 158.5px,#fee699 160.5px,#fdb96b 163.5px,#f98e52 168.5px,#f57547 182.5px,#f99355 191.5px,#f67c4a 198.5px,#f57547 213.5px,#f7814c 217.5px,#ed5f3c 224.5px,#f47044 236.5px)"></div><div style="top:89px;height:1px;background:linear-gradient(90deg,#3c59a6 0.5px,#4d7fb9 20.5px,#4a7ab7 31.5px,#394fa1 43.5px,#394fa1 54.5px,#394fa1 106.5px,#34409a 127.5px,#384ca0 146.5px,#416aaf 152.5px,#5588be 154.5px,#7fb6d6 156.5px,#e1f3f6 159.5px,#fffcba 161.5px,#fece7f 165.5px,#fdad60 169.5px,#f7844e 178.5px,#f67f4b 183.5px,#fa9857 191.5px,#f67f4b 198.5px,#f57748 213.5px,#f7844e 217.5px,#ee613e 223.5px,#f46d43 233.5px,#f57245 236.5px)"></div><div style="top:90px;height:1px;background:linear-gradient(90deg,#3b56a5 0.5px,#4878b6 21.5px,#4878b6 30.5px,#384ca0 42.5px,#384ca0 55.5px,#384ca0 105.5px,#34409a 130.5px,#374a9f 146.5px,#4065ac 153.5px,#588cc0 156.5px,#b4deec 160.5px,#e4f4f1 162.5px,#fffab7 165.5px,#fec87a 171.5px,#fa9656 179.5px,#f88c51 183.5px,#fa9b58 191.5px,#f7814c 198.5px,#f57748 212.5px,#f7844e 217.5px,#ee613e 224.5px,#f57245 236.5px)"></div><div style="top:91px;height:1px;background:linear-gradient(90deg,#3a51a2 0.5px,#4676b5 25.5px,#426cb0 32.5px,#36479e 43.5px,#384ca0 100.5px,#34409a 127.5px,#36479e 147.5px,#3e60aa 154.5px,#4b7db8 157.5px,#87bdd9 161.5px,#cfebf3 165.5px,#def2f7 166.5px,#fffebe 170.5px,#fdc374 178.5px,#fca55d 182.5px,#fba05b 192.5px,#f8864f 197.5px,#f67a49 213.5px,#f8864f 217.5px,#ef633f 223.5px,#f46d43 232.5px,#f57245 236.5px)"></div><div style="top:92px;height:1px;background:linear-gradient(90deg,#394fa1 0.5px,#436fb1 27.5px,#3d5ba7 35.5px,#35429b 46.5px,#374a9f 86.5px,#34409a 135.5px,#384ca0 151.5px,#4065ac 157.5px,#6297c6 162.5px,#b9e0ed 169.5px,#dcf1f7 172.5px,#fdfec2 176.5px,#feca7c 182.5px,#fdb567 188.5px,#fca55d 193.5px,#f88c51 198.5px,#f67a49 212.5px,#f8864f 217.5px,#ee613e 224.5px,#f57547 236.5px)"></div><div style="top:93px;height:1px;background:linear-gradient(90deg,#374a9f 0.5px,#416aaf 27.5px,#35429b 44.5px,#36479e 101.5px,#34409a 129.5px,#36479e 150.5px,#3e60aa 159.5px,#5588be 165.5px,#99cae1 173.5px,#def2f7 178.5px,#fdfec2 181.5px,#fedc8c 186.5px,#fdaf62 194.5px,#f88c51 201.5px,#f67c4a 212.5px,#f88950 217.5px,#f16640 223.5px,#f47044 232.5px,#f57547 236.5px)"></div><div style="top:94px;height:1px;background:linear-gradient(90deg,#36479e 0.5px,#3f62ab 26.5px,#394fa1 36.5px,#34409a 49.5px,#36459c 103.5px,#34409a 135.5px,#374a9f 154.5px,#4471b2 167.5px,#6da4cc 175.5px,#b0dcea 180.5px,#e1f3f6 183.5px,#fffcba 187.5px,#fed485 193.5px,#fca85e 198.5px,#f7814c 207.5px,#f7844e 214.5px,#f88950 217.5px,#ef633f 224.5px,#f57748 236.5px)"></div><div style="top:95px;height:1px;background:linear-gradient(90deg,#36479e 0.5px,#3e5ea8 28.5px,#34409a 44.5px,#35429b 151.5px,#4065ac 171.5px,#5385bd 177.5px,#85bbd9 182.5px,#cdeaf3 187.5px,#e5f5ef 189.5px,#fcfec5 192.5px,#fdc778 198.5px,#fa9b58 203.5px,#f7814c 210.5px,#f88c51 217.5px,#f16640 223.5px,#f67a49 236.5px)"></div><div style="top:96px;height:1px;background:linear-gradient(90deg,#36459c 0.5px,#3c59a6 28.5px,#34409a 44.5px,#36459c 156.5px,#3e5ea8 175.5px,#4d7fb9 181.5px,#83b9d8 187.5px,#d8eff6 193.5px,#e5f5ef 194.5px,#fbfdc7 196.5px,#fec87a 201.5px,#fb9d59 205.5px,#f7844e 211.5px,#f98e52 217.5px,#f26841 223.5px,#f67a49 236.5px)"></div><div style="top:97px;height:1px;background:linear-gradient(90deg,#35429b 0.5px,#3a54a4 28.5px,#34409a 43.5px,#35429b 139.5px,#36479e 169.5px,#3e60aa 181.5px,#588cc0 188.5px,#7db4d5 192.5px,#d6eef5 197.5px,#e7f6eb 198.5px,#fffcba 200.5px,#fdc374 204.5px,#fa9857 208.5px,#f8864f 213.5px,#f99153 217.5px,#f36b42 223.5px,#f57547 232.5px,#f67c4a 236.5px)"></div><div style="top:98px;height:1px;background:linear-gradient(90deg,#35429b 0.5px,#394fa1 28.5px,#34409a 44.5px,#35429b 137.5px,#36479e 176.5px,#426cb0 189.5px,#578abf 193.5px,#8abeda 197.5px,#cfebf3 200.5px,#e6f5ed 201.5px,#fff8b5 203.5px,#fdb96b 207.5px,#f99153 211.5px,#f99153 215.5px,#f88c51 218.5px,#f36b42 223.5px,#f67c4a 236.5px)"></div><div style="top:99px;height:1px;background:linear-gradient(90deg,#35429b 0.5px,#384ca0 27.5px,#34409a 44.5px,#35429b 136.5px,#36479e 181.5px,#3e60aa 192.5px,#4d7fb9 196.5px,#72abd0 199.5px,#d6eef5 203.5px,#fdfec2 205.5px,#feca7c 208.5px,#fb9d59 211.5px,#f99355 214.5px,#f98e52 218.5px,#f46d43 223.5px,#f67f4b 236.5px)"></div><div style="top:100px;height:1px;background:linear-gradient(90deg,#35429b 0.5px,#36459c 31.5px,#35429b 136.5px,#36459c 186.5px,#3c59a6 195.5px,#4a7ab7 199.5px,#74add1 202.5px,#c9e8f2 205.5px,#e7f6eb 206.5px,#fcfec5 207.5px,#fdc576 210.5px,#fca55d 212.5px,#f99153 218.5px,#f46d43 223.5px,#f7814c 236.5px)"></div><div style="top:101px;height:1px;background:linear-gradient(90deg,#35429b 0.5px,#35429b 31.5px,#35429b 136.5px,#36479e 194.5px,#4065ac 200.5px,#588cc0 203.5px,#81b7d7 205.5px,#c7e7f1 207.5px,#eaf7e6 208.5px,#fffdbc 209.5px,#fed081 211.5px,#fdaf62 213.5px,#f7814c 220.5px,#f46d43 224.5px,#f7814c 236.5px)"></div><div style="top:102px;height:1px;background:linear-gradient(90deg,#35429b 0.5px,#36459c 195.5px,#3c59a6 201.5px,#4676b5 204.5px,#679ec9 206.5px,#aad8e9 208.5px,#d4edf4 209.5px,#f3fbd4 210.5px,#fede8e 212.5px,#fdb769 214.5px,#f57245 223.5px,#f7844e 236.5px)"></div><div style="top:103px;height:1px;background:linear-gradient(90deg,#35429b 0.5px,#36459c 198.5px,#3d5ba7 204.5px,#4574b3 206.5px,#6da4cc 208.5px,#bde2ee 210.5px,#e7f6eb 211.5px,#fffdbc 212.5px,#fed081 214.5px,#fcaa5f 217.5px,#f57748 222.5px,#f57748 227.5px,#f8864f 236.5px)"></div><div style="top:104px;height:1px;background:linear-gradient(90deg,#35429b 0.5px,#36479e 202.5px,#3d5ba7 206.5px,#4a7ab7 208.5px,#7fb6d6 210.5px,#daf0f6 212.5px,#f7fcce 213.5px,#feefa6 214.5px,#fdb769 217.5px,#f7814c 221.5px,#f57547 224.5px,#f88950 236.5px)"></div><div style="top:105px;height:1px;background:linear-gradient(90deg,#35429b 0.5px,#36479e 205.5px,#3e5ea8 208.5px,#436fb1 209.5px,#70a9cf 211.5px,#c9e8f2 213.5px,#eff9dd 214.5px,#fff6b1 215.5px,#fdb567 218.5px,#f8864f 221.5px,#f57748 224.5px,#f88950 236.5px)"></div><div style="top:106px;height:1px;background:linear-gradient(90deg,#34409a 0.5px,#36479e 207.5px,#4167ad 210.5px,#4b7db8 211.5px,#659bc8 212.5px,#bde2ee 214.5px,#e7f6eb 215.5px,#fffbb9 216.5px,#fec87a 218.5px,#fa9b58 220.5px,#f67a49 223.5px,#f88c51 236.5px)"></div><div style="top:107px;height:1px;background:linear-gradient(90deg,#34409a 0.5px,#36459c 208.5px,#3f62ab 211.5px,#4676b5 212.5px,#81b7d7 214.5px,#b2ddeb 215.5px,#e5f5ef 216.5px,#fffcba 217.5px,#fdc374 219.5px,#fca85e 220.5px,#f8864f 222.5px,#f67c4a 226.5px,#f98e52 236.5px)"></div><div style="top:108px;height:1px;background:linear-gradient(90deg,#34409a 0.5px,#34409a 26.5px,#36459c 148.5px,#35429b 209.5px,#3e5ea8 212.5px,#4471b2 213.5px,#5a8ec1 214.5px,#7db4d5 215.5px,#b0dcea 216.5px,#e5f5ef 217.5px,#fff8b5 218.5px,#fdbb6d 220.5px,#f98e52 222.5px,#f67f4b 225.5px,#f99153 236.5px)"></div><div style="top:109px;height:1px;background:linear-gradient(90deg,#34409a 0.5px,#34409a 26.5px,#36459c 147.5px,#35429b 210.5px,#3d5ba7 213.5px,#436fb1 214.5px,#588cc0 215.5px,#7db4d5 216.5px,#b2ddeb 217.5px,#e9f6e8 218.5px,#fff2ac 219.5px,#fed081 220.5px,#fdb164 221.5px,#f88950 223.5px,#f7814c 226.5px,#f99153 236.5px)"></div><div style="top:110px;height:1px;background:linear-gradient(90deg,#34409a 0.5px,#34409a 26.5px,#36459c 146.5px,#36459c 212.5px,#3d5ba7 214.5px,#436fb1 215.5px,#5a8ec1 216.5px,#81b7d7 217.5px,#bde2ee 218.5px,#f2fad6 219.5px,#feea9f 220.5px,#fdc576 221.5px,#fca55d 222.5px,#f8864f 224.5px,#f99355 236.5px)"></div><div style="top:111px;height:1px;background:linear-gradient(90deg,#34409a 0.5px,#34409a 26.5px,#36459c 146.5px,#36459c 213.5px,#3d5ba7 215.5px,#4471b2 216.5px,#6095c4 217.5px,#8ec2dc 218.5px,#cdeaf3 219.5px,#feffc0 220.5px,#fedc8c 221.5px,#fdb769 222.5px,#f98e52 224.5px,#f88950 227.5px,#fa9656 236.5px)"></div><div style="top:112px;height:1px;background:linear-gradient(90deg,#34409a 0.5px,#34409a 26.5px,#36459c 147.5px,#35429b 213.5px,#3e5ea8 216.5px,#4878b6 217.5px,#69a0ca 218.5px,#a3d3e6 219.5px,#e5f5ef 220.5px,#fff1aa 221.5px,#feca7c 222.5px,#fcaa5f 223.5px,#fa9656 224.5px,#f88c51 227.5px,#fa9857 236.5px)"></div><div style="top:113px;height:1px;background:linear-gradient(90deg,#34409a 0.5px,#36459c 148.5px,#35429b 214.5px,#3a51a2 216.5px,#4065ac 217.5px,#5385bd 218.5px,#7db4d5 219.5px,#bfe3ef 220.5px,#f7fcce 221.5px,#fee192 222.5px,#fdb96b 223.5px,#fba05b 224.5px,#f98e52 226.5px,#fa9857 236.5px)"></div><div style="top:114px;height:1px;background:linear-gradient(90deg,#34409a 0.5px,#36459c 215.5px,#3c59a6 217.5px,#436fb1 218.5px,#6297c6 219.5px,#99cae1 220.5px,#e1f3f6 221.5px,#fff3ad 222.5px,#feca7c 223.5px,#fdad60 224.5px,#f99355 226.5px,#fa9b58 236.5px)"></div><div style="top:115px;height:1px;background:linear-gradient(90deg,#35429b 0.5px,#35429b 143.5px,#36479e 216.5px,#3e60aa 218.5px,#4f81ba 219.5px,#78b0d3 220.5px,#bfe3ef 221.5px,#fafdc9 222.5px,#fede8e 223.5px,#fdb96b 224.5px,#fba35c 225.5px,#fa9656 228.5px,#fa9b58 236.5px)"></div><div style="top:116px;height:1px;background:linear-gradient(90deg,#35429b 0.5px,#35429b 144.5px,#36459c 216.5px,#3b56a5 218.5px,#4471b2 219.5px,#6399c7 220.5px,#9fd0e4 221.5px,#e7f6eb 222.5px,#feeda4 223.5px,#fdc576 224.5px,#fcaa5f 225.5px,#fa9857 227.5px,#fb9d59 236.5px)"></div><div style="top:117px;height:1px;background:linear-gradient(90deg,#35429b 0.5px,#333d99 118.5px,#34409a 168.5px,#36479e 217.5px,#3f62ab 219.5px,#5385bd 220.5px,#85bbd9 221.5px,#cfebf3 222.5px,#fffbb9 223.5px,#fed485 224.5px,#fdb567 225.5px,#fba35c 226.5px,#fa9b58 232.5px,#fba05b 236.5px)"></div><div style="top:118px;height:1px;background:linear-gradient(90deg,#35429b 0.5px,#333d99 117.5px,#36459c 217.5px,#3d5ba7 219.5px,#4878b6 220.5px,#70a9cf 221.5px,#b4deec 222.5px,#f5fbd2 223.5px,#fee294 224.5px,#fdbf71 225.5px,#fcaa5f 226.5px,#fb9d59 229.5px,#fba05b 236.5px)"></div><div style="top:119px;height:1px;background:linear-gradient(90deg,#35429b 0.5px,#333d99 116.5px,#36459c 217.5px,#3a54a4 219.5px,#426cb0 220.5px,#6095c4 221.5px,#9dcee3 222.5px,#e7f6eb 223.5px,#feeda4 224.5px,#fec87a 225.5px,#fdb164 226.5px,#fba05b 228.5px,#fba05b 236.5px)"></div><div style="top:120px;height:1px;background:linear-gradient(90deg,#35429b 0.5px,#36459c 39.5px,#333d99 116.5px,#36479e 218.5px,#4065ac 220.5px,#5588be 221.5px,#8abeda 222.5px,#d6eef5 223.5px,#fff8b5 224.5px,#fed283 225.5px,#fdb769 226.5px,#fba35c 228.5px,#fba35c 236.5px)"></div><div style="top:121px;height:1px;background:linear-gradient(90deg,#35429b 0.5px,#333d99 116.5px,#34409a 158.5px,#36459c 218.5px,#3e5ea8 220.5px,#4b7db8 221.5px,#78b0d3 222.5px,#c1e4ef 223.5px,#fcfec5 224.5px,#fede8e 225.5px,#fdbd6f 226.5px,#fca55d 228.5px,#fba35c 236.5px)"></div><div style="top:122px;height:1px;background:linear-gradient(90deg,#35429b 0.5px,#333d99 117.5px,#35429b 155.5px,#36459c 218.5px,#3c59a6 220.5px,#4574b3 221.5px,#6ba2cb 222.5px,#aedbea 223.5px,#f1fad9 224.5px,#fee699 225.5px,#fdc374 226.5px,#fca85e 228.5px,#fca55d 236.5px)"></div><div style="top:123px;height:1px;background:linear-gradient(90deg,#35429b 0.5px,#333d99 117.5px,#35429b 155.5px,#36459c 218.5px,#3a54a4 220.5px,#426cb0 221.5px,#6297c6 222.5px,#9fd0e4 223.5px,#e9f6e8 224.5px,#feeda4 225.5px,#feca7c 226.5px,#fdb567 227.5px,#fca55d 230.5px,#fca55d 236.5px)"></div><div style="top:124px;height:1px;background:linear-gradient(90deg,#35429b 0.5px,#333d99 118.5px,#35429b 155.5px,#36459c 218.5px,#3a51a2 220.5px,#4167ad 221.5px,#588cc0 222.5px,#90c3dd 223.5px,#def2f7 224.5px,#fff5af 225.5px,#fed283 226.5px,#fdb96b 227.5px,#fca55d 230.5px,#fca55d 236.5px)"></div><div style="top:125px;height:1px;background:linear-gradient(90deg,#34409a 0.5px,#35429b 135.5px,#36459c 218.5px,#394fa1 220.5px,#3f62ab 221.5px,#5385bd 222.5px,#85bbd9 223.5px,#d1ecf4 224.5px,#fffcba 225.5px,#fed889 226.5px,#fdbd6f 227.5px,#fca85e 230.5px,#fca85e 236.5px)"></div><div style="top:126px;height:1px;background:linear-gradient(90deg,#34409a 0.5px,#35429b 134.5px,#36459c 218.5px,#384ca0 220.5px,#3e5ea8 221.5px,#4d7fb9 222.5px,#7ab2d4 223.5px,#c3e5f0 224.5px,#fcfec5 225.5px,#fee090 226.5px,#fdc173 227.5px,#fdad60 229.5px,#fca85e 235.5px,#fca85e 236.5px)"></div><div style="top:127px;height:1px;background:linear-gradient(90deg,#34409a 0.5px,#35429b 108.5px,#35429b 133.5px,#36459c 219.5px,#3d5ba7 221.5px,#4878b6 222.5px,#72abd0 223.5px,#b9e0ed 224.5px,#f6fbd0 225.5px,#fee496 226.5px,#fdc576 227.5px,#fdad60 229.5px,#fca85e 236.5px)"></div><div style="top:128px;height:1px;background:linear-gradient(90deg,#34409a 0.5px,#35429b 89.5px,#36459c 138.5px,#36459c 219.5px,#3c59a6 221.5px,#4574b3 222.5px,#6ba2cb 223.5px,#aedbea 224.5px,#f0f9db 225.5px,#fee99d 226.5px,#fec87a 227.5px,#fdaf62 229.5px,#fca85e 236.5px)"></div><div style="top:129px;height:1px;background:linear-gradient(90deg,#34409a 0.5px,#35429b 88.5px,#36459c 137.5px,#36459c 219.5px,#3b56a5 221.5px,#4471b2 222.5px,#659bc8 223.5px,#a6d5e7 224.5px,#ecf8e2 225.5px,#feeba1 226.5px,#fecc7e 227.5px,#fdaf62 229.5px,#fca85e 236.5px)"></div><div style="top:130px;height:1px;background:linear-gradient(90deg,#34409a 0.5px,#35429b 88.5px,#36459c 137.5px,#36459c 219.5px,#3b56a5 221.5px,#426cb0 222.5px,#6297c6 223.5px,#9fd0e4 224.5px,#e7f6eb 225.5px,#feefa6 226.5px,#fece7f 227.5px,#fdb164 229.5px,#fcaa5f 233.5px,#fcaa5f 236.5px)"></div><div style="top:131px;height:1px;background:linear-gradient(90deg,#34409a 0.5px,#35429b 88.5px,#36459c 137.5px,#36459c 219.5px,#3a54a4 221.5px,#416aaf 222.5px,#5e93c3 223.5px,#99cae1 224.5px,#e4f4f1 225.5px,#fff1aa 226.5px,#fed283 227.5px,#fdbb6d 228.5px,#fcaa5f 232.5px,#fcaa5f 236.5px)"></div><div style="top:132px;height:1px;background:linear-gradient(90deg,#34409a 0.5px,#35429b 107.5px,#35429b 153.5px,#36459c 219.5px,#3a54a4 221.5px,#4167ad 222.5px,#5a8ec1 223.5px,#94c7df 224.5px,#e0f3f8 225.5px,#fff5af 226.5px,#fed485 227.5px,#fdbd6f 228.5px,#fcaa5f 231.5px,#fcaa5f 236.5px)"></div><div style="top:133px;height:1px;background:linear-gradient(90deg,#34409a 0.5px,#36459c 219.5px,#3a51a2 221.5px,#4167ad 222.5px,#588cc0 223.5px,#90c3dd 224.5px,#dcf1f7 225.5px,#fff6b1 226.5px,#fed687 227.5px,#fdb366 229.5px,#fcaa5f 234.5px,#fcaa5f 236.5px)"></div><div style="top:134px;height:1px;background:linear-gradient(90deg,#34409a 0.5px,#36459c 219.5px,#3a51a2 221.5px,#4065ac 222.5px,#578abf 223.5px,#8cc0db 224.5px,#d8eff6 225.5px,#fff8b5 226.5px,#fed889 227.5px,#fdbf71 228.5px,#fcaa5f 231.5px,#fcaa5f 236.5px)"></div><div style="top:135px;height:1px;background:linear-gradient(90deg,#34409a 0.5px,#36459c 219.5px,#3a51a2 221.5px,#4065ac 222.5px,#5588be 223.5px,#87bdd9 224.5px,#d4edf4 225.5px,#fffbb9 226.5px,#feda8a 227.5px,#fdc173 228.5px,#fcaa5f 231.5px,#fcaa5f 236.5px)"></div><div style="top:136px;height:1px;background:linear-gradient(90deg,#34409a 0.5px,#36479e 220.5px,#394fa1 221.5px,#3f62ab 222.5px,#5385bd 223.5px,#85bbd9 224.5px,#cfebf3 225.5px,#fffcba 226.5px,#fedc8c 227.5px,#fdb567 229.5px,#fdad60 234.5px,#fcaa5f 236.5px)"></div><div style="top:137px;height:1px;background:linear-gradient(90deg,#34409a 0.5px,#36479e 220.5px,#394fa1 221.5px,#3f62ab 222.5px,#5183bb 223.5px,#81b7d7 224.5px,#cdeaf3 225.5px,#fffebe 226.5px,#fede8e 227.5px,#fdc374 228.5px,#fdaf62 230.5px,#fcaa5f 236.5px)"></div><div style="top:138px;height:1px;background:linear-gradient(90deg,#34409a 0.5px,#36459c 15.5px,#36459c 219.5px,#394fa1 221.5px,#3e60aa 222.5px,#4f81ba 223.5px,#7fb6d6 224.5px,#c9e8f2 225.5px,#feffc0 226.5px,#fee090 227.5px,#fdc576 228.5px,#fdad60 231.5px,#fdad60 236.5px)"></div><div style="top:139px;height:1px;background:linear-gradient(90deg,#34409a 0.5px,#36459c 15.5px,#35429b 77.5px,#36479e 220.5px,#3e60aa 222.5px,#4d7fb9 223.5px,#7db4d5 224.5px,#c5e6f0 225.5px,#fcfec5 226.5px,#fee192 227.5px,#fdc576 228.5px,#fdad60 231.5px,#fdad60 236.5px)"></div><div style="top:140px;height:1px;background:linear-gradient(90deg,#34409a 0.5px,#36459c 15.5px,#35429b 76.5px,#35429b 97.5px,#36479e 220.5px,#3e5ea8 222.5px,#4d7fb9 223.5px,#78b0d3 224.5px,#c1e4ef 225.5px,#fafdc9 226.5px,#fee294 227.5px,#fdc778 228.5px,#fdb164 230.5px,#fdad60 236.5px)"></div><div style="top:141px;height:1px;background:linear-gradient(90deg,#35429b 0.5px,#35429b 19.5px,#35429b 76.5px,#36479e 220.5px,#384ca0 221.5px,#3e5ea8 222.5px,#4b7db8 223.5px,#76afd2 224.5px,#bfe3ef 225.5px,#f8fccb 226.5px,#fee496 227.5px,#fec87a 228.5px,#fdb164 230.5px,#fdad60 236.5px)"></div><div style="top:142px;height:1px;background:linear-gradient(90deg,#35429b 0.5px,#35429b 21.5px,#36459c 220.5px,#3d5ba7 222.5px,#4a7ab7 223.5px,#74add1 224.5px,#bbe1ed 225.5px,#f6fbd0 226.5px,#fee699 227.5px,#fec87a 228.5px,#fdb164 230.5px,#fdad60 236.5px)"></div><div style="top:143px;height:1px;background:linear-gradient(90deg,#35429b 0.5px,#36459c 220.5px,#3d5ba7 222.5px,#4878b6 223.5px,#70a9cf 224.5px,#b6dfec 225.5px,#f5fbd2 226.5px,#fee79b 227.5px,#feca7c 228.5px,#fdb164 230.5px,#fdad60 236.5px)"></div><div style="top:144px;height:1px;background:linear-gradient(90deg,#35429b 0.5px,#36459c 220.5px,#3c59a6 222.5px,#4676b5 223.5px,#6ea6ce 224.5px,#b4deec 225.5px,#f2fad6 226.5px,#fee99d 227.5px,#feca7c 228.5px,#fdb164 230.5px,#fdad60 236.5px)"></div><div style="top:145px;height:1px;background:linear-gradient(90deg,#35429b 0.5px,#36459c 220.5px,#3c59a6 222.5px,#4574b3 223.5px,#6da4cc 224.5px,#b0dcea 225.5px,#f1fad9 226.5px,#feea9f 227.5px,#fecc7e 228.5px,#fdb366 230.5px,#fdad60 236.5px)"></div><div style="top:146px;height:1px;background:linear-gradient(90deg,#36459c 0.5px,#35429b 220.5px,#3b56a5 222.5px,#4574b3 223.5px,#6ba2cb 224.5px,#aedbea 225.5px,#f0f9db 226.5px,#feeba1 227.5px,#fecc7e 228.5px,#fdb366 230.5px,#fdad60 236.5px)"></div><div style="top:147px;height:1px;background:linear-gradient(90deg,#36459c 0.5px,#35429b 220.5px,#3b56a5 222.5px,#4471b2 223.5px,#69a0ca 224.5px,#acdae9 225.5px,#edf8df 226.5px,#feeba1 227.5px,#fece7f 228.5px,#fdb366 230.5px,#fdad60 236.5px)"></div><div style="top:148px;height:1px;background:linear-gradient(90deg,#36459c 0.5px,#35429b 17.5px,#35429b 220.5px,#3b56a5 222.5px,#4471b2 223.5px,#679ec9 224.5px,#aad8e9 225.5px,#ecf8e2 226.5px,#feeca2 227.5px,#fece7f 228.5px,#fdb366 230.5px,#fdad60 236.5px)"></div><div style="top:149px;height:1px;background:linear-gradient(90deg,#36459c 0.5px,#34409a 15.5px,#35429b 220.5px,#3a54a4 222.5px,#436fb1 223.5px,#659bc8 224.5px,#a8d6e8 225.5px,#ebf7e4 226.5px,#feeda4 227.5px,#fed081 228.5px,#fdb366 230.5px,#fdad60 236.5px)"></div><div style="top:150px;height:1px;background:linear-gradient(90deg,#36459c 0.5px,#34409a 15.5px,#34409a 169.5px,#35429b 220.5px,#3a54a4 222.5px,#436fb1 223.5px,#659bc8 224.5px,#a6d5e7 225.5px,#ebf7e4 226.5px,#feeda4 227.5px,#fed081 228.5px,#fdb366 230.5px,#fdad60 236.5px)"></div><div style="top:151px;height:1px;background:linear-gradient(90deg,#36459c 0.5px,#34409a 15.5px,#34409a 169.5px,#35429b 220.5px,#3a54a4 222.5px,#436fb1 223.5px,#6399c7 224.5px,#a3d3e6 225.5px,#eaf7e6 226.5px,#feefa6 227.5px,#fed081 228.5px,#fdb366 230.5px,#fdad60 236.5px)"></div><div style="top:152px;height:1px;background:linear-gradient(90deg,#36459c 0.5px,#34409a 15.5px,#35429b 220.5px,#3a54a4 222.5px,#426cb0 223.5px,#6399c7 224.5px,#a3d3e6 225.5px,#e9f6e8 226.5px,#feefa6 227.5px,#fed283 228.5px,#fdb366 230.5px,#fdad60 236.5px)"></div><div style="top:153px;height:1px;background:linear-gradient(90deg,#36459c 0.5px,#35429b 17.5px,#35429b 220.5px,#3a54a4 222.5px,#426cb0 223.5px,#6297c6 224.5px,#a1d1e5 225.5px,#e9f6e8 226.5px,#fff0a8 227.5px,#fed283 228.5px,#fdb567 230.5px,#fdad60 236.5px)"></div><div style="top:154px;height:1px;background:linear-gradient(90deg,#36459c 0.5px,#35429b 220.5px,#3a54a4 222.5px,#426cb0 223.5px,#6297c6 224.5px,#a1d1e5 225.5px,#e7f6eb 226.5px,#fff0a8 227.5px,#fed283 228.5px,#fdb567 230.5px,#fdad60 236.5px)"></div><div style="top:155px;height:1px;background:linear-gradient(90deg,#36459c 0.5px,#35429b 220.5px,#3a54a4 222.5px,#426cb0 223.5px,#6297c6 224.5px,#9fd0e4 225.5px,#e7f6eb 226.5px,#fff1aa 227.5px,#fed283 228.5px,#fdb567 230.5px,#fdad60 236.5px)"></div><div style="top:156px;height:1px;background:linear-gradient(90deg,#36459c 0.5px,#35429b 186.5px,#35429b 220.5px,#3a54a4 222.5px,#426cb0 223.5px,#6095c4 224.5px,#9fd0e4 225.5px,#e6f5ed 226.5px,#fff1aa 227.5px,#fed485 228.5px,#fdb567 230.5px,#fdad60 236.5px)"></div><div style="top:157px;height:1px;background:linear-gradient(90deg,#36459c 0.5px,#35429b 185.5px,#35429b 220.5px,#3a54a4 222.5px,#426cb0 223.5px,#6095c4 224.5px,#9dcee3 225.5px,#e6f5ed 226.5px,#fff1aa 227.5px,#fed485 228.5px,#fdb567 230.5px,#fdad60 236.5px)"></div></div><div class="hm" style="left:40.7px;top:316.0px;width:237px;height:158px"><div style="top:0px;height:1px;background:linear-gradient(90deg,#102777 0.5px,#112977 9.5px,#0e2076 13.5px,#102777 17.5px,#0d1e76 21.5px,#112977 35.5px,#112977 42.5px,#112c77 50.5px,#112977 54.5px,#102777 74.5px,#0f2577 90.5px,#102777 98.5px,#112977 111.5px,#133078 124.5px,#0f2277 131.5px,#133078 140.5px,#122e77 146.5px,#112977 169.5px,#122e77 174.5px,#0f2577 180.5px,#143478 183.5px,#112c77 190.5px,#133278 193.5px,#102777 198.5px,#163b79 200.5px,#1a477a 205.5px,#153778 208.5px,#194579 211.5px,#194579 215.5px,#143478 218.5px,#173f79 221.5px,#184179 225.5px,#1b4b7a 230.5px,#1c4d7a 236.5px)"></div><div style="top:1px;height:1px;background:linear-gradient(90deg,#102777 0.5px,#0f2277 10.5px,#0d1e76 13.5px,#0f2577 17.5px,#0d1e76 22.5px,#102777 37.5px,#112977 50.5px,#102777 75.5px,#0f2577 97.5px,#112c77 110.5px,#122e77 116.5px,#133078 124.5px,#0f2277 131.5px,#133078 140.5px,#112c77 146.5px,#122e77 149.5px,#112977 169.5px,#122e77 174.5px,#0f2577 180.5px,#143478 183.5px,#112c77 190.5px,#122e77 194.5px,#102777 198.5px,#163b79 200.5px,#1a477a 205.5px,#153778 208.5px,#194579 211.5px,#194579 215.5px,#133278 217.5px,#173f79 221.5px,#184179 225.5px,#1b4b7a 230.5px,#1b497a 234.5px,#1c4d7a 236.5px)"></div><div style="top:2px;height:1px;background:linear-gradient(90deg,#102777 0.5px,#0e2076 10.5px,#0d1c76 13.5px,#0f2277 17.5px,#0d1c76 23.5px,#102777 35.5px,#112977 46.5px,#102777 98.5px,#112977 111.5px,#133078 124.5px,#0f2277 131.5px,#122e77 141.5px,#112c77 146.5px,#112c77 170.5px,#112977 181.5px,#143478 183.5px,#112977 190.5px,#133278 193.5px,#102777 198.5px,#163b79 201.5px,#1a477a 205.5px,#153778 208.5px,#194579 210.5px,#194579 215.5px,#133278 217.5px,#173d79 221.5px,#173d79 224.5px,#1b497a 230.5px,#1c4d7a 236.5px)"></div><div style="top:3px;height:1px;background:linear-gradient(90deg,#0f2577 0.5px,#0d1c76 10.5px,#0d1c76 14.5px,#0d1c76 18.5px,#0d1c76 25.5px,#0f2277 38.5px,#102777 46.5px,#0f2577 77.5px,#112977 98.5px,#122e77 120.5px,#112c77 125.5px,#0f2577 134.5px,#133078 140.5px,#0f2577 145.5px,#112c77 149.5px,#112c77 170.5px,#0f2577 180.5px,#133278 183.5px,#112c77 191.5px,#112977 195.5px,#102777 198.5px,#163b79 201.5px,#194579 205.5px,#143478 208.5px,#194379 211.5px,#194579 215.5px,#133278 217.5px,#173d79 221.5px,#184179 226.5px,#194579 231.5px,#1b4b7a 236.5px)"></div><div style="top:4px;height:1px;background:linear-gradient(90deg,#0f2277 0.5px,#0b1575 11.5px,#0b1776 18.5px,#0b1776 25.5px,#0e2076 30.5px,#0d1c76 45.5px,#112977 52.5px,#0e2076 82.5px,#112977 106.5px,#112c77 120.5px,#133078 124.5px,#0f2577 131.5px,#112c77 137.5px,#112977 142.5px,#102777 146.5px,#102777 174.5px,#112977 181.5px,#133278 183.5px,#112977 191.5px,#102777 196.5px,#102777 198.5px,#153978 201.5px,#194379 205.5px,#143478 208.5px,#184179 211.5px,#194579 215.5px,#133278 217.5px,#163b79 221.5px,#163b79 224.5px,#194579 231.5px,#1b4b7a 236.5px)"></div><div style="top:5px;height:1px;background:linear-gradient(90deg,#0e2076 0.5px,#091075 13.5px,#0a1275 18.5px,#091075 25.5px,#0d1e76 29.5px,#0d1c76 34.5px,#0b1575 45.5px,#112977 52.5px,#0d1e76 78.5px,#102777 91.5px,#112c77 121.5px,#112977 126.5px,#0f2577 136.5px,#133078 140.5px,#0e2076 145.5px,#102777 149.5px,#0f2577 174.5px,#0f2577 180.5px,#133078 183.5px,#102777 191.5px,#102777 198.5px,#153978 201.5px,#184179 205.5px,#133278 208.5px,#173f79 211.5px,#194579 215.5px,#133278 217.5px,#153778 222.5px,#194379 231.5px,#1b497a 236.5px)"></div><div style="top:6px;height:1px;background:linear-gradient(90deg,#0d1e76 0.5px,#070975 13.5px,#080b75 18.5px,#070975 25.5px,#0c1976 29.5px,#0a1275 33.5px,#0c1976 37.5px,#070975 44.5px,#102777 51.5px,#0d1e76 77.5px,#0c1976 81.5px,#112977 88.5px,#102777 120.5px,#122e77 124.5px,#102777 132.5px,#0f2277 136.5px,#133078 140.5px,#0d1e76 145.5px,#0f2577 149.5px,#0f2577 173.5px,#0f2277 179.5px,#122e77 183.5px,#0f2577 191.5px,#102777 198.5px,#153778 201.5px,#173f79 205.5px,#133078 207.5px,#173d79 211.5px,#194379 215.5px,#133078 217.5px,#143478 222.5px,#184179 231.5px,#1b497a 236.5px)"></div><div style="top:7px;height:1px;background:linear-gradient(90deg,#0d1c76 0.5px,#060574 14.5px,#05006e 22.5px,#040064 24.5px,#050274 25.5px,#0b1575 28.5px,#080b75 33.5px,#0b1575 37.5px,#050274 44.5px,#0f2577 51.5px,#0d1c76 77.5px,#0b1776 81.5px,#102777 86.5px,#0f2577 106.5px,#102777 121.5px,#122e77 124.5px,#102777 132.5px,#0e2076 136.5px,#133078 140.5px,#0d1c76 145.5px,#102777 152.5px,#0f2277 159.5px,#0f2577 171.5px,#0d1e76 178.5px,#112c77 183.5px,#0f2577 191.5px,#102777 198.5px,#143478 201.5px,#153978 206.5px,#133078 208.5px,#163b79 211.5px,#194379 215.5px,#133078 217.5px,#143478 222.5px,#1a477a 236.5px)"></div><div style="top:8px;height:1px;background:linear-gradient(90deg,#0d1c76 0.5px,#05006e 10.5px,#030059 12.5px,#040064 14.5px,#05006e 16.5px,#040064 18.5px,#03004e 19.5px,#03004e 22.5px,#020043 24.5px,#050274 26.5px,#090e75 28.5px,#060574 33.5px,#090e75 37.5px,#050274 42.5px,#030059 43.5px,#040064 45.5px,#070774 46.5px,#0f2577 52.5px,#0d1c76 69.5px,#0c1976 78.5px,#0d1c76 82.5px,#102777 92.5px,#0f2277 120.5px,#122e77 124.5px,#0e2076 136.5px,#133078 140.5px,#0c1976 145.5px,#0f2577 148.5px,#0f2577 162.5px,#0d1e76 174.5px,#0e2076 179.5px,#112c77 183.5px,#0f2277 191.5px,#0f2577 198.5px,#143478 201.5px,#173d79 205.5px,#122e77 207.5px,#163b79 211.5px,#173f79 214.5px,#194379 215.5px,#122e77 218.5px,#143478 221.5px,#1a477a 236.5px)"></div><div style="top:9px;height:1px;background:linear-gradient(90deg,#0c1976 0.5px,#050274 8.5px,#010039 12.5px,#020043 14.5px,#03004e 16.5px,#020043 18.5px,#01002b 20.5px,#01002b 22.5px,#000000 23.5px,#000000 24.5px,#010039 25.5px,#050274 27.5px,#05006e 30.5px,#030059 31.5px,#040064 33.5px,#050274 34.5px,#060574 38.5px,#05006e 41.5px,#020043 43.5px,#010039 44.5px,#03004e 45.5px,#050274 46.5px,#0e2076 53.5px,#0d1c76 58.5px,#0c1976 63.5px,#0d1c76 77.5px,#0b1776 81.5px,#102777 89.5px,#0f2277 106.5px,#0f2577 121.5px,#112c77 124.5px,#0e2076 136.5px,#122e77 140.5px,#0c1976 145.5px,#0f2577 151.5px,#0f2577 163.5px,#0d1c76 175.5px,#0f2277 180.5px,#112c77 183.5px,#0f2577 187.5px,#0f2577 198.5px,#143478 202.5px,#153778 206.5px,#122e77 208.5px,#153978 211.5px,#184179 215.5px,#122e77 218.5px,#143478 221.5px,#1a477a 236.5px)"></div><div style="top:10px;height:1px;background:linear-gradient(90deg,#0c1976 0.5px,#050274 7.5px,#020043 10.5px,#01002b 11.5px,#000000 12.5px,#000000 13.5px,#01002b 14.5px,#01002b 15.5px,#010039 16.5px,#01002b 17.5px,#000000 18.5px,#000000 25.5px,#010039 26.5px,#05006e 28.5px,#03004e 30.5px,#010039 31.5px,#020043 33.5px,#05006e 35.5px,#05006e 38.5px,#03004e 41.5px,#010039 42.5px,#000000 43.5px,#000000 44.5px,#030059 46.5px,#060574 47.5px,#0d1c76 56.5px,#091075 61.5px,#0d1c76 77.5px,#0b1776 81.5px,#0f2577 91.5px,#0f2277 106.5px,#0f2577 121.5px,#112c77 124.5px,#0e2076 136.5px,#112c77 140.5px,#0c1976 145.5px,#0f2577 148.5px,#0d1e76 174.5px,#0e2076 179.5px,#112c77 183.5px,#0f2577 187.5px,#0f2277 198.5px,#133278 201.5px,#153778 206.5px,#122e77 208.5px,#153978 211.5px,#184179 215.5px,#122e77 218.5px,#143478 221.5px,#1a477a 236.5px)"></div><div style="top:11px;height:1px;background:linear-gradient(90deg,#0b1776 0.5px,#050274 6.5px,#020043 9.5px,#01002b 10.5px,#000000 11.5px,#000000 26.5px,#010039 27.5px,#020043 29.5px,#01002b 30.5px,#000000 31.5px,#000000 33.5px,#010039 34.5px,#030059 36.5px,#03004e 38.5px,#010039 41.5px,#000000 42.5px,#000000 45.5px,#010039 46.5px,#040064 47.5px,#050274 48.5px,#0b1575 56.5px,#070774 61.5px,#091075 71.5px,#0d1c76 77.5px,#0c1976 82.5px,#0f2277 90.5px,#0f2277 102.5px,#0f2577 121.5px,#102777 126.5px,#0f2277 136.5px,#112977 139.5px,#0c1976 145.5px,#0f2577 148.5px,#0d1c76 175.5px,#0f2577 181.5px,#112c77 183.5px,#0f2277 191.5px,#0f2277 198.5px,#133278 202.5px,#173d79 205.5px,#112c77 208.5px,#163b79 210.5px,#153978 213.5px,#184179 215.5px,#122e77 218.5px,#143478 221.5px,#1a477a 236.5px)"></div><div style="top:12px;height:1px;background:linear-gradient(90deg,#0b1776 0.5px,#05006e 6.5px,#020043 8.5px,#010039 9.5px,#000000 10.5px,#000000 27.5px,#01002b 28.5px,#000000 29.5px,#000000 34.5px,#01002b 35.5px,#010039 36.5px,#010039 37.5px,#01002b 38.5px,#01002b 39.5px,#000000 40.5px,#000000 46.5px,#020043 47.5px,#050274 50.5px,#080b75 57.5px,#040064 60.5px,#060574 63.5px,#080b75 70.5px,#091075 73.5px,#0c1976 78.5px,#0f2277 90.5px,#102777 114.5px,#0f2577 121.5px,#102777 126.5px,#0f2277 136.5px,#102777 139.5px,#0c1976 145.5px,#0f2577 148.5px,#0d1e76 179.5px,#112c77 183.5px,#0f2277 191.5px,#0e2076 196.5px,#0e2076 198.5px,#133078 201.5px,#173d79 205.5px,#112c77 208.5px,#153978 211.5px,#194379 215.5px,#122e77 218.5px,#143478 221.5px,#1a477a 236.5px)"></div><div style="top:13px;height:1px;background:linear-gradient(90deg,#0b1776 0.5px,#05006e 6.5px,#010039 8.5px,#01002b 9.5px,#000000 10.5px,#000000 47.5px,#010039 48.5px,#03004e 50.5px,#05006e 52.5px,#060574 57.5px,#040064 58.5px,#020043 59.5px,#010039 60.5px,#05006e 64.5px,#070774 70.5px,#050274 72.5px,#0d1c76 76.5px,#0d1e76 86.5px,#0e2076 102.5px,#112977 118.5px,#0f2577 121.5px,#102777 124.5px,#0f2277 130.5px,#112977 138.5px,#0d1c76 145.5px,#0f2277 149.5px,#0e2076 180.5px,#112c77 183.5px,#0d1e76 198.5px,#133278 202.5px,#173d79 205.5px,#112977 207.5px,#153978 211.5px,#194379 215.5px,#122e77 218.5px,#143478 221.5px,#1a477a 236.5px)"></div><div style="top:14px;height:1px;background:linear-gradient(90deg,#0b1575 0.5px,#060574 5.5px,#010039 8.5px,#000000 9.5px,#000000 49.5px,#01002b 50.5px,#030059 54.5px,#040064 56.5px,#020043 58.5px,#000000 59.5px,#000000 60.5px,#01002b 61.5px,#050274 67.5px,#05006e 70.5px,#030059 71.5px,#030059 72.5px,#050274 73.5px,#0c1976 76.5px,#0c1976 85.5px,#0e2076 89.5px,#0f2277 96.5px,#0f2277 107.5px,#133078 117.5px,#0f2577 121.5px,#102777 129.5px,#0f2277 134.5px,#112977 138.5px,#0d1c76 141.5px,#0e2076 146.5px,#0f2277 149.5px,#0e2076 180.5px,#122e77 183.5px,#0f2577 191.5px,#0d1e76 198.5px,#133278 202.5px,#173d79 205.5px,#112977 207.5px,#153978 211.5px,#194379 215.5px,#133078 217.5px,#133278 222.5px,#1a477a 236.5px)"></div><div style="top:15px;height:1px;background:linear-gradient(90deg,#0b1575 0.5px,#050274 5.5px,#040064 6.5px,#01002b 8.5px,#000000 9.5px,#000000 52.5px,#01002b 53.5px,#010039 54.5px,#020043 56.5px,#010039 57.5px,#000000 58.5px,#000000 62.5px,#01002b 63.5px,#01002b 64.5px,#020043 66.5px,#040064 68.5px,#040064 69.5px,#020043 71.5px,#010039 72.5px,#070774 74.5px,#0b1776 76.5px,#0b1776 85.5px,#0d1e76 90.5px,#0e2076 95.5px,#0e2076 105.5px,#133278 117.5px,#102777 121.5px,#0f2277 130.5px,#102777 136.5px,#112977 138.5px,#0c1976 141.5px,#0e2076 146.5px,#102777 148.5px,#0d1e76 153.5px,#0e2076 159.5px,#0e2076 180.5px,#122e77 183.5px,#0f2577 191.5px,#0d1e76 196.5px,#0d1c76 198.5px,#173d79 204.5px,#153778 206.5px,#102777 208.5px,#153978 211.5px,#194379 215.5px,#133078 218.5px,#133278 222.5px,#1a477a 236.5px)"></div><div style="top:16px;height:1px;background:linear-gradient(90deg,#0b1575 0.5px,#050274 5.5px,#040064 6.5px,#01002b 8.5px,#000000 9.5px,#000000 55.5px,#01002b 56.5px,#000000 57.5px,#000000 65.5px,#01002b 66.5px,#020043 68.5px,#020043 69.5px,#01002b 70.5px,#000000 71.5px,#000000 72.5px,#05006e 74.5px,#0a1275 76.5px,#0a1275 85.5px,#0d1c76 90.5px,#0d1e76 94.5px,#0d1e76 102.5px,#133278 115.5px,#102777 121.5px,#102777 129.5px,#0f2277 134.5px,#122e77 137.5px,#0c1976 141.5px,#0e2076 146.5px,#102777 148.5px,#0d1e76 153.5px,#0e2076 159.5px,#0e2076 180.5px,#122e77 183.5px,#0f2577 191.5px,#0d1c76 196.5px,#0d1c76 198.5px,#173d79 204.5px,#153778 206.5px,#102777 208.5px,#153978 211.5px,#194379 215.5px,#133078 218.5px,#1a477a 236.5px)"></div><div style="top:17px;height:1px;background:linear-gradient(90deg,#0b1776 0.5px,#050274 5.5px,#040064 6.5px,#01002b 8.5px,#000000 9.5px,#000000 73.5px,#030059 74.5px,#070774 75.5px,#080b75 78.5px,#090e75 85.5px,#0d1c76 89.5px,#0c1976 93.5px,#0e2076 101.5px,#0f2277 106.5px,#133278 117.5px,#102777 121.5px,#0f2277 130.5px,#102777 136.5px,#112977 138.5px,#0c1976 141.5px,#0e2076 146.5px,#102777 148.5px,#0d1e76 153.5px,#0e2076 160.5px,#0e2076 180.5px,#122e77 183.5px,#0f2577 191.5px,#0d1c76 196.5px,#0d1c76 198.5px,#173d79 204.5px,#153778 206.5px,#102777 208.5px,#153978 211.5px,#173f79 214.5px,#194579 215.5px,#133078 218.5px,#1a477a 236.5px)"></div><div style="top:18px;height:1px;background:linear-gradient(90deg,#0b1776 0.5px,#060574 5.5px,#010039 8.5px,#000000 9.5px,#000000 73.5px,#05006e 75.5px,#060574 78.5px,#070774 85.5px,#0b1776 89.5px,#0c1976 94.5px,#0d1e76 102.5px,#133278 117.5px,#102777 121.5px,#0f2577 126.5px,#0f2277 130.5px,#112977 138.5px,#0c1976 141.5px,#0e2076 146.5px,#112977 148.5px,#0d1e76 153.5px,#0e2076 160.5px,#0d1e76 179.5px,#112c77 183.5px,#0f2577 191.5px,#0f2277 194.5px,#0d1e76 198.5px,#143478 202.5px,#173f79 205.5px,#102777 208.5px,#153978 211.5px,#194579 215.5px,#133078 218.5px,#1a477a 236.5px)"></div><div style="top:19px;height:1px;background:linear-gradient(90deg,#0d1c76 0.5px,#060574 6.5px,#01002b 10.5px,#000000 11.5px,#000000 74.5px,#03004e 75.5px,#05006e 76.5px,#040064 78.5px,#03004e 79.5px,#030059 83.5px,#070774 86.5px,#0a1275 89.5px,#0a1275 93.5px,#0e2076 100.5px,#0f2277 106.5px,#122e77 118.5px,#102777 121.5px,#0f2277 126.5px,#0f2577 136.5px,#112977 138.5px,#0d1c76 141.5px,#0f2277 146.5px,#112977 148.5px,#0d1e76 153.5px,#0f2277 160.5px,#0c1976 177.5px,#112c77 183.5px,#0f2577 191.5px,#112977 193.5px,#0d1e76 198.5px,#133278 201.5px,#173f79 205.5px,#102777 208.5px,#153978 211.5px,#194579 215.5px,#133278 218.5px,#173d79 228.5px,#194579 236.5px)"></div><div style="top:20px;height:1px;background:linear-gradient(90deg,#0e2076 0.5px,#05006e 9.5px,#03004e 11.5px,#01002b 14.5px,#000000 15.5px,#000000 74.5px,#010039 75.5px,#03004e 76.5px,#020043 78.5px,#010039 80.5px,#010039 83.5px,#030059 85.5px,#050274 86.5px,#090e75 89.5px,#091075 93.5px,#0d1e76 98.5px,#102777 109.5px,#122e77 118.5px,#0f2277 126.5px,#0f2577 136.5px,#112977 138.5px,#0d1c76 142.5px,#0f2277 146.5px,#112c77 148.5px,#0d1e76 153.5px,#0f2277 161.5px,#0b1776 174.5px,#0f2577 181.5px,#112c77 183.5px,#0e2076 190.5px,#112977 193.5px,#0d1c76 197.5px,#143478 201.5px,#173f79 205.5px,#112977 207.5px,#153978 211.5px,#1a477a 215.5px,#133278 218.5px,#194379 236.5px)"></div><div style="top:21px;height:1px;background:linear-gradient(90deg,#112977 0.5px,#05006e 18.5px,#010039 23.5px,#010039 24.5px,#01002b 25.5px,#01002b 26.5px,#000000 27.5px,#000000 75.5px,#01002b 76.5px,#01002b 77.5px,#000000 78.5px,#000000 83.5px,#01002b 84.5px,#010039 85.5px,#050274 87.5px,#080b75 93.5px,#0d1c76 97.5px,#102777 109.5px,#112977 119.5px,#0e2076 126.5px,#0f2277 136.5px,#112977 138.5px,#0d1e76 142.5px,#0f2577 146.5px,#122e77 148.5px,#0d1e76 152.5px,#0f2277 162.5px,#0b1575 174.5px,#0f2577 181.5px,#112977 183.5px,#0e2076 190.5px,#112977 193.5px,#0d1c76 197.5px,#153778 200.5px,#173f79 205.5px,#112977 207.5px,#163b79 211.5px,#194379 214.5px,#1b497a 215.5px,#143478 218.5px,#173f79 227.5px,#194379 236.5px)"></div><div style="top:22px;height:1px;background:linear-gradient(90deg,#163b79 0.5px,#122e77 11.5px,#0f2277 21.5px,#070774 31.5px,#05006e 34.5px,#01002b 40.5px,#000000 41.5px,#000000 85.5px,#010039 86.5px,#05006e 88.5px,#05006e 90.5px,#040064 91.5px,#080b75 94.5px,#0c1976 99.5px,#112977 112.5px,#0f2577 123.5px,#0d1e76 126.5px,#112977 138.5px,#0d1e76 144.5px,#122e77 148.5px,#0d1e76 152.5px,#0e2076 164.5px,#0a1275 173.5px,#0f2577 181.5px,#0f2277 185.5px,#0e2076 190.5px,#112c77 193.5px,#0d1e76 197.5px,#153978 200.5px,#173f79 205.5px,#112977 207.5px,#163b79 211.5px,#194379 214.5px,#1b497a 215.5px,#143478 218.5px,#173f79 227.5px,#184179 236.5px)"></div><div style="top:23px;height:1px;background:linear-gradient(90deg,#215a7b 0.5px,#1b497a 8.5px,#25677d 18.5px,#23607c 21.5px,#1b497a 25.5px,#143478 34.5px,#050274 45.5px,#010039 49.5px,#000000 50.5px,#000000 86.5px,#010039 87.5px,#030059 88.5px,#030059 90.5px,#03004e 91.5px,#05006e 93.5px,#0b1575 98.5px,#112977 111.5px,#0f2577 123.5px,#0d1c76 125.5px,#0f2577 133.5px,#0e2076 136.5px,#112977 138.5px,#0d1e76 144.5px,#133078 148.5px,#0d1e76 152.5px,#0f2277 162.5px,#0a1275 174.5px,#0f2277 181.5px,#112977 183.5px,#0d1c76 189.5px,#112c77 193.5px,#0d1e76 197.5px,#163b79 200.5px,#173f79 205.5px,#112977 207.5px,#163b79 211.5px,#1b497a 215.5px,#143478 218.5px,#194379 233.5px,#184179 236.5px)"></div><div style="top:24px;height:1px;background:linear-gradient(90deg,#2f7e7f 0.5px,#276b7d 9.5px,#308080 13.5px,#3b8d63 18.5px,#3a8c66 21.5px,#32827b 24.5px,#31817d 33.5px,#163b79 45.5px,#05006e 53.5px,#010039 55.5px,#000000 56.5px,#000000 87.5px,#010039 88.5px,#010039 92.5px,#03004e 93.5px,#050274 94.5px,#0a1275 98.5px,#112977 111.5px,#0f2577 123.5px,#0d1c76 125.5px,#0f2577 133.5px,#0e2076 136.5px,#112c77 138.5px,#0e2076 142.5px,#102777 146.5px,#133078 148.5px,#0d1e76 152.5px,#0f2277 162.5px,#0a1275 171.5px,#0d1c76 179.5px,#112977 183.5px,#0d1c76 189.5px,#112c77 193.5px,#0d1e76 197.5px,#163b79 200.5px,#173f79 205.5px,#112977 207.5px,#163b79 211.5px,#194579 214.5px,#1b4b7a 215.5px,#153778 218.5px,#184179 227.5px,#184179 236.5px)"></div><div style="top:25px;height:1px;background:linear-gradient(90deg,#358672 0.5px,#368771 10.5px,#3f925a 14.5px,#4a9b46 16.5px,#6da44f 20.5px,#599f4a 22.5px,#479a47 23.5px,#459a49 25.5px,#62a14c 28.5px,#67a34e 32.5px,#44994b 37.5px,#348576 45.5px,#2b757e 47.5px,#050274 57.5px,#03004e 58.5px,#000000 59.5px,#000000 92.5px,#010039 93.5px,#060574 95.5px,#112977 111.5px,#0f2577 123.5px,#0d1e76 126.5px,#0f2277 134.5px,#0e2076 136.5px,#112c77 138.5px,#0e2076 142.5px,#102777 146.5px,#133078 148.5px,#0d1e76 152.5px,#0f2277 162.5px,#0a1275 174.5px,#0f2277 181.5px,#112977 183.5px,#0d1c76 189.5px,#112c77 193.5px,#0d1e76 197.5px,#163b79 200.5px,#173f79 205.5px,#112977 207.5px,#163b79 211.5px,#194579 214.5px,#1b4b7a 215.5px,#153778 218.5px,#184179 227.5px,#184179 236.5px)"></div><div style="top:26px;height:1px;background:linear-gradient(90deg,#358672 0.5px,#3a8d65 9.5px,#44994b 14.5px,#7ca753 18.5px,#8aab56 21.5px,#72a551 24.5px,#a8b35b 28.5px,#b4b65d 34.5px,#99af58 43.5px,#72a551 46.5px,#4a9b46 48.5px,#32827b 52.5px,#050274 60.5px,#000000 63.5px,#000000 93.5px,#020043 94.5px,#040064 95.5px,#060574 96.5px,#102777 111.5px,#102777 123.5px,#0d1c76 125.5px,#0f2577 133.5px,#0f2277 136.5px,#112c77 138.5px,#0d1e76 141.5px,#102777 146.5px,#133078 148.5px,#0d1e76 152.5px,#0f2277 162.5px,#0a1275 173.5px,#0f2277 181.5px,#112977 183.5px,#0d1c76 189.5px,#112c77 193.5px,#0d1e76 197.5px,#163b79 200.5px,#173f79 205.5px,#112977 208.5px,#163b79 211.5px,#194579 214.5px,#1b4b7a 215.5px,#153778 218.5px,#184179 227.5px,#194379 234.5px,#194379 236.5px)"></div><div style="top:27px;height:1px;background:linear-gradient(90deg,#348576 0.5px,#3a8c66 8.5px,#459a49 15.5px,#7fa853 20.5px,#7aa752 22.5px,#6da44f 24.5px,#b2b65d 28.5px,#c2a46a 36.5px,#cfac87 43.5px,#c0a565 47.5px,#b7b75e 49.5px,#479a47 53.5px,#31827c 56.5px,#091075 62.5px,#060574 63.5px,#030059 64.5px,#000000 66.5px,#000000 93.5px,#03004e 95.5px,#05006e 96.5px,#0f2577 111.5px,#102777 123.5px,#0d1e76 126.5px,#0f2277 134.5px,#0f2277 136.5px,#112c77 138.5px,#0d1e76 141.5px,#0f2577 146.5px,#122e77 148.5px,#0e2076 153.5px,#0f2277 162.5px,#0b1575 174.5px,#0f2277 181.5px,#112c77 183.5px,#0e2076 190.5px,#112c77 193.5px,#0e2076 197.5px,#163b79 200.5px,#173f79 205.5px,#112c77 207.5px,#163b79 211.5px,#1b497a 215.5px,#143478 218.5px,#194579 233.5px,#194379 236.5px)"></div><div style="top:28px;height:1px;background:linear-gradient(90deg,#338378 0.5px,#419552 16.5px,#539d48 19.5px,#5ba04b 21.5px,#4c9c47 23.5px,#5ba04b 25.5px,#86aa55 27.5px,#b9b260 35.5px,#c0a465 38.5px,#e1bfb0 44.5px,#e9cdc5 47.5px,#e6c7bc 48.5px,#caa87b 50.5px,#bdaa63 51.5px,#b8b55f 52.5px,#7aa752 55.5px,#579f4a 56.5px,#429651 57.5px,#348576 59.5px,#23607c 61.5px,#0a1275 65.5px,#060574 66.5px,#010039 68.5px,#000000 69.5px,#000000 94.5px,#010039 95.5px,#030059 96.5px,#050274 99.5px,#0f2577 110.5px,#112977 123.5px,#0d1e76 125.5px,#0f2577 136.5px,#112c77 138.5px,#0d1c76 140.5px,#0f2577 146.5px,#122e77 148.5px,#0e2076 151.5px,#0f2277 161.5px,#0b1776 178.5px,#112c77 183.5px,#0f2277 190.5px,#112c77 193.5px,#0f2577 198.5px,#163b79 200.5px,#153978 206.5px,#112c77 207.5px,#163b79 211.5px,#1b497a 215.5px,#143478 218.5px,#173d79 225.5px,#194579 234.5px,#194579 236.5px)"></div><div style="top:29px;height:1px;background:linear-gradient(90deg,#32827b 0.5px,#388a6b 9.5px,#3b8d63 16.5px,#409456 20.5px,#3e915b 24.5px,#4a9b46 27.5px,#64a24d 31.5px,#72a551 33.5px,#b7b75e 40.5px,#c4a46f 44.5px,#dab7a0 47.5px,#ddb9a5 48.5px,#cdaa82 50.5px,#c2a46a 51.5px,#b0b55d 55.5px,#7da853 58.5px,#44984c 60.5px,#2e7b7f 63.5px,#0a1275 68.5px,#060574 69.5px,#020043 71.5px,#000000 72.5px,#000000 94.5px,#01002b 95.5px,#020043 96.5px,#030059 98.5px,#05006e 99.5px,#0e2076 111.5px,#0f2577 119.5px,#112977 123.5px,#0e2076 126.5px,#0f2577 136.5px,#112c77 138.5px,#0c1976 140.5px,#0f2577 146.5px,#112c77 148.5px,#0e2076 152.5px,#0f2277 160.5px,#0c1976 180.5px,#112c77 183.5px,#0f2277 190.5px,#122e77 193.5px,#0f2277 197.5px,#163b79 201.5px,#153978 206.5px,#112c77 207.5px,#163b79 211.5px,#1b497a 215.5px,#143478 218.5px,#173d79 225.5px,#194579 234.5px,#194579 236.5px)"></div><div style="top:30px;height:1px;background:linear-gradient(90deg,#31817d 0.5px,#37886e 6.5px,#368770 16.5px,#398b68 19.5px,#37886e 24.5px,#429650 34.5px,#539d48 37.5px,#a0b15a 45.5px,#bab160 47.5px,#9db059 59.5px,#7da853 61.5px,#479a47 63.5px,#2d7a7f 66.5px,#0f2277 70.5px,#05006e 73.5px,#010039 75.5px,#000000 76.5px,#000000 95.5px,#01002b 96.5px,#020043 97.5px,#030059 99.5px,#05006e 100.5px,#0d1e76 111.5px,#102777 118.5px,#0f2577 121.5px,#112c77 123.5px,#0f2277 126.5px,#102777 136.5px,#133078 137.5px,#0b1776 140.5px,#112c77 148.5px,#0e2076 151.5px,#0f2577 158.5px,#0c1976 180.5px,#122e77 183.5px,#0f2577 190.5px,#122e77 193.5px,#102777 198.5px,#153978 201.5px,#184179 205.5px,#122e77 207.5px,#173d79 211.5px,#194379 214.5px,#1b497a 215.5px,#143478 218.5px,#173d79 225.5px,#1a477a 236.5px)"></div><div style="top:31px;height:1px;background:linear-gradient(90deg,#31817d 0.5px,#358672 8.5px,#338378 16.5px,#348575 21.5px,#328379 24.5px,#38896c 34.5px,#479a47 44.5px,#69a34e 46.5px,#7fa853 47.5px,#87aa55 48.5px,#7ca753 52.5px,#93ad57 58.5px,#99af58 62.5px,#84a954 64.5px,#479a47 66.5px,#2d7a7f 69.5px,#143478 72.5px,#070774 76.5px,#010039 78.5px,#000000 79.5px,#000000 96.5px,#01002b 97.5px,#020043 98.5px,#050274 103.5px,#0d1e76 111.5px,#102777 118.5px,#0f2577 121.5px,#112c77 123.5px,#0f2577 127.5px,#102777 136.5px,#133078 137.5px,#0b1776 140.5px,#112c77 148.5px,#0f2277 151.5px,#0f2577 158.5px,#0b1776 180.5px,#122e77 183.5px,#0f2577 190.5px,#122e77 193.5px,#102777 198.5px,#153978 201.5px,#184179 205.5px,#122e77 207.5px,#173d79 211.5px,#194379 214.5px,#1b497a 215.5px,#143478 218.5px,#173d79 225.5px,#1a477a 233.5px,#1b497a 236.5px)"></div><div style="top:32px;height:1px;background:linear-gradient(90deg,#31817d 0.5px,#348575 9.5px,#328379 17.5px,#31827c 25.5px,#328379 30.5px,#32827b 35.5px,#3a8d65 44.5px,#459a49 48.5px,#479a47 54.5px,#a3b25a 64.5px,#84a954 67.5px,#6da44f 68.5px,#479a47 69.5px,#338378 71.5px,#143478 76.5px,#060574 79.5px,#030059 80.5px,#000000 82.5px,#000000 96.5px,#01002b 97.5px,#060574 104.5px,#0d1c76 111.5px,#102777 118.5px,#0f2577 121.5px,#122e77 123.5px,#0f2277 126.5px,#102777 136.5px,#133078 137.5px,#0b1776 140.5px,#112c77 148.5px,#0f2277 151.5px,#0f2577 158.5px,#0d1e76 170.5px,#0b1776 180.5px,#122e77 183.5px,#112977 191.5px,#102777 196.5px,#102777 198.5px,#163b79 201.5px,#184179 205.5px,#122e77 207.5px,#173d79 211.5px,#194379 214.5px,#1b497a 215.5px,#143478 218.5px,#173d79 225.5px,#1b497a 234.5px,#1b497a 236.5px)"></div><div style="top:33px;height:1px;background:linear-gradient(90deg,#31817d 0.5px,#328379 10.5px,#30817e 25.5px,#338378 28.5px,#2e7b7f 34.5px,#348576 43.5px,#3d905f 48.5px,#3e915b 55.5px,#4a9b46 59.5px,#91ad57 64.5px,#a0b15a 67.5px,#91ad57 69.5px,#509d48 71.5px,#3e915c 73.5px,#2f7d7f 76.5px,#0d1c76 80.5px,#070975 81.5px,#040064 82.5px,#010039 83.5px,#000000 84.5px,#000000 97.5px,#01002b 98.5px,#030059 101.5px,#040064 103.5px,#050274 104.5px,#0d1c76 111.5px,#102777 118.5px,#0f2577 121.5px,#122e77 123.5px,#0f2277 126.5px,#102777 136.5px,#122e77 138.5px,#0b1776 140.5px,#112c77 148.5px,#0f2277 151.5px,#112977 157.5px,#0d1c76 168.5px,#0c1976 180.5px,#133078 183.5px,#0f2577 190.5px,#112c77 194.5px,#102777 198.5px,#163b79 201.5px,#184179 205.5px,#122e77 207.5px,#173d79 212.5px,#1b497a 215.5px,#143478 218.5px,#173d79 225.5px,#1b497a 234.5px,#1b497a 236.5px)"></div><div style="top:34px;height:1px;background:linear-gradient(90deg,#31827c 0.5px,#31817d 26.5px,#2e7b7f 35.5px,#338477 44.5px,#398b68 51.5px,#388a6a 55.5px,#419552 61.5px,#479a47 62.5px,#96ae58 68.5px,#8fac56 70.5px,#7da853 72.5px,#76a652 75.5px,#579f4a 76.5px,#409456 77.5px,#2b737e 79.5px,#0d1e76 82.5px,#05006e 84.5px,#020043 85.5px,#000000 86.5px,#000000 98.5px,#010039 99.5px,#050274 104.5px,#0c1976 111.5px,#102777 118.5px,#0f2577 121.5px,#122e77 123.5px,#0f2277 126.5px,#102777 136.5px,#133278 137.5px,#0c1976 140.5px,#0f2577 146.5px,#112c77 148.5px,#0f2277 151.5px,#102777 158.5px,#0d1e76 169.5px,#0c1976 180.5px,#133078 183.5px,#0f2577 190.5px,#122e77 193.5px,#102777 198.5px,#163b79 201.5px,#194379 205.5px,#122e77 208.5px,#173f79 210.5px,#194579 214.5px,#194379 216.5px,#143478 218.5px,#194579 229.5px,#1b497a 236.5px)"></div><div style="top:35px;height:1px;background:linear-gradient(90deg,#32827b 0.5px,#2f7e7f 19.5px,#30817e 43.5px,#37896d 51.5px,#37896d 56.5px,#398c67 61.5px,#4c9c47 66.5px,#7da853 69.5px,#8fac56 73.5px,#a5b25b 75.5px,#93ad57 77.5px,#76a652 78.5px,#479a47 79.5px,#2f7d7f 81.5px,#0f2277 84.5px,#060574 86.5px,#010039 88.5px,#000000 89.5px,#000000 98.5px,#01002b 99.5px,#020043 100.5px,#050274 104.5px,#0c1976 111.5px,#0f2577 119.5px,#122e77 123.5px,#0f2577 126.5px,#0f2577 136.5px,#133278 137.5px,#0d1e76 141.5px,#112c77 148.5px,#0f2277 151.5px,#102777 158.5px,#0e2076 170.5px,#0d1c76 180.5px,#122e77 183.5px,#0f2277 190.5px,#112977 194.5px,#102777 198.5px,#153978 201.5px,#194379 205.5px,#133078 207.5px,#173f79 211.5px,#1b497a 215.5px,#153778 218.5px,#163b79 221.5px,#173f79 226.5px,#1b497a 236.5px)"></div><div style="top:36px;height:1px;background:linear-gradient(90deg,#328379 0.5px,#2c777f 6.5px,#2f7e7f 10.5px,#2d787f 18.5px,#308080 25.5px,#2f7d7f 39.5px,#358673 52.5px,#358672 56.5px,#38896c 63.5px,#409357 67.5px,#539d48 69.5px,#7aa752 73.5px,#a3b25a 76.5px,#a8b35b 78.5px,#9db059 79.5px,#84a954 80.5px,#559e49 81.5px,#3c8f60 82.5px,#30817e 83.5px,#112977 86.5px,#070975 88.5px,#040064 89.5px,#01002b 91.5px,#000000 92.5px,#000000 98.5px,#010039 99.5px,#050274 104.5px,#0c1976 111.5px,#0f2577 119.5px,#102777 121.5px,#133078 123.5px,#0f2277 125.5px,#102777 133.5px,#0f2577 136.5px,#133078 138.5px,#0e2076 141.5px,#112c77 148.5px,#0f2277 151.5px,#102777 158.5px,#0d1e76 180.5px,#122e77 183.5px,#0e2076 190.5px,#112977 194.5px,#102777 198.5px,#173f79 203.5px,#194579 205.5px,#133078 207.5px,#173f79 212.5px,#1b497a 215.5px,#153778 218.5px,#163b79 221.5px,#173f79 226.5px,#1b497a 236.5px)"></div><div style="top:37px;height:1px;background:linear-gradient(90deg,#328379 0.5px,#2d787f 7.5px,#2f7d7f 14.5px,#2b757e 18.5px,#2f7e7f 21.5px,#30817e 38.5px,#2f7d7f 43.5px,#338378 49.5px,#348576 56.5px,#37886e 66.5px,#45994a 71.5px,#459a49 72.5px,#9db059 78.5px,#aab35c 80.5px,#a0b15a 81.5px,#87aa55 82.5px,#5ba04b 83.5px,#3f925a 84.5px,#338378 85.5px,#133078 88.5px,#080b75 90.5px,#050274 91.5px,#03004e 92.5px,#01002b 94.5px,#000000 95.5px,#000000 97.5px,#01002b 98.5px,#050274 104.5px,#0c1976 111.5px,#112977 121.5px,#133078 123.5px,#0f2577 126.5px,#102777 133.5px,#0f2277 136.5px,#133278 138.5px,#0f2577 141.5px,#102777 146.5px,#112c77 148.5px,#0e2076 150.5px,#102777 158.5px,#0e2076 167.5px,#0d1e76 179.5px,#122e77 183.5px,#0d1e76 190.5px,#112977 193.5px,#0f2577 198.5px,#153978 201.5px,#1a477a 205.5px,#133078 207.5px,#173f79 212.5px,#1b497a 215.5px,#153778 218.5px,#173d79 221.5px,#153978 224.5px,#1b4b7a 236.5px)"></div><div style="top:38px;height:1px;background:linear-gradient(90deg,#32827b 0.5px,#2d787f 7.5px,#2f7d7f 11.5px,#2f7e7f 14.5px,#2b737e 18.5px,#308080 21.5px,#31817d 33.5px,#31817d 38.5px,#2d7a7f 42.5px,#30817e 46.5px,#328379 62.5px,#358672 67.5px,#409357 71.5px,#479a47 75.5px,#a2b15a 81.5px,#9eb059 83.5px,#8cab56 84.5px,#67a34e 85.5px,#419554 86.5px,#358672 87.5px,#29707e 88.5px,#0e2076 91.5px,#060574 93.5px,#040064 94.5px,#020043 95.5px,#010039 97.5px,#020043 99.5px,#030059 101.5px,#040064 103.5px,#050274 104.5px,#0c1976 111.5px,#0e2076 116.5px,#112977 121.5px,#133278 123.5px,#0f2577 125.5px,#102777 133.5px,#0f2277 136.5px,#143478 138.5px,#102777 141.5px,#112c77 148.5px,#0e2076 150.5px,#112977 158.5px,#0f2577 166.5px,#0d1c76 178.5px,#122e77 183.5px,#0d1c76 189.5px,#102777 194.5px,#0f2577 198.5px,#1a477a 205.5px,#133078 208.5px,#184179 211.5px,#1b4b7a 215.5px,#153978 217.5px,#173d79 221.5px,#153978 224.5px,#1b4b7a 236.5px)"></div><div style="top:39px;height:1px;background:linear-gradient(90deg,#31827c 0.5px,#2b737e 10.5px,#328379 13.5px,#29707e 17.5px,#30817e 21.5px,#30817e 26.5px,#338378 31.5px,#31817d 38.5px,#2d787f 41.5px,#2f7e7f 46.5px,#2d787f 48.5px,#30817e 51.5px,#31827c 61.5px,#338477 67.5px,#3d905d 70.5px,#409456 76.5px,#459a49 78.5px,#9baf59 83.5px,#a2b15a 85.5px,#93ad57 86.5px,#74a551 87.5px,#44994b 88.5px,#2c777f 90.5px,#0f2577 93.5px,#070774 95.5px,#030059 98.5px,#040064 102.5px,#070774 105.5px,#0c1976 111.5px,#0e2076 116.5px,#133278 123.5px,#0f2577 125.5px,#102777 133.5px,#0f2277 136.5px,#133278 137.5px,#112977 146.5px,#112c77 148.5px,#0f2577 151.5px,#102777 166.5px,#0c1976 177.5px,#122e77 183.5px,#0d1c76 190.5px,#102777 194.5px,#0f2577 198.5px,#1b497a 205.5px,#133278 207.5px,#133078 208.5px,#184179 211.5px,#1b4b7a 215.5px,#153978 217.5px,#173f79 221.5px,#163b79 224.5px,#1b4b7a 236.5px)"></div><div style="top:40px;height:1px;background:linear-gradient(90deg,#32827b 0.5px,#2b757e 7.5px,#2b737e 10.5px,#32827b 13.5px,#29707e 18.5px,#31827c 20.5px,#2d787f 25.5px,#328379 29.5px,#30817e 38.5px,#2c777f 41.5px,#2f7d7f 46.5px,#2c777f 48.5px,#31817d 51.5px,#31827c 67.5px,#3c8e61 71.5px,#3d905d 77.5px,#44984c 80.5px,#62a14c 82.5px,#99af58 85.5px,#a7b25b 87.5px,#9baf59 88.5px,#7da853 89.5px,#4a9b46 90.5px,#2f7d7f 92.5px,#112977 95.5px,#090e75 97.5px,#050274 103.5px,#0c1976 111.5px,#112c77 121.5px,#133278 123.5px,#0f2577 125.5px,#102777 129.5px,#102777 133.5px,#0e2076 136.5px,#133278 137.5px,#133078 139.5px,#112977 146.5px,#112c77 148.5px,#0f2577 151.5px,#112c77 165.5px,#0d1c76 173.5px,#0d1e76 178.5px,#122e77 183.5px,#0d1c76 190.5px,#102777 194.5px,#0f2577 198.5px,#1b497a 205.5px,#133278 207.5px,#184179 212.5px,#1b4b7a 215.5px,#153978 217.5px,#173f79 221.5px,#173d79 226.5px,#1b4b7a 236.5px)"></div><div style="top:41px;height:1px;background:linear-gradient(90deg,#328379 0.5px,#2b757e 7.5px,#2b737e 10.5px,#31827c 13.5px,#286d7d 18.5px,#31827c 20.5px,#2b737e 25.5px,#31827c 28.5px,#2f7e7f 38.5px,#2a727e 40.5px,#2d7a7f 46.5px,#2b757e 48.5px,#328379 50.5px,#2f7e7f 67.5px,#3a8c66 71.5px,#3e915c 80.5px,#459a49 83.5px,#98af58 87.5px,#a3b25a 89.5px,#98af58 90.5px,#7da853 91.5px,#509d48 92.5px,#32827b 94.5px,#133078 97.5px,#090e75 101.5px,#070975 104.5px,#0d1c76 111.5px,#0f2277 116.5px,#112c77 121.5px,#143478 123.5px,#0f2577 126.5px,#102777 133.5px,#0f2277 136.5px,#153778 138.5px,#112977 143.5px,#122e77 148.5px,#0f2277 150.5px,#112c77 165.5px,#0d1e76 172.5px,#0d1e76 178.5px,#133078 183.5px,#0d1c76 189.5px,#112977 194.5px,#102777 198.5px,#1b497a 205.5px,#133278 207.5px,#184179 212.5px,#1b4b7a 215.5px,#163b79 218.5px,#173f79 221.5px,#173d79 225.5px,#1b4b7a 236.5px)"></div><div style="top:42px;height:1px;background:linear-gradient(90deg,#328379 0.5px,#2c777f 7.5px,#2e7b7f 11.5px,#31817d 13.5px,#276b7d 18.5px,#31817d 20.5px,#29707e 25.5px,#30817e 28.5px,#2e7b7f 38.5px,#29707e 40.5px,#2d787f 46.5px,#2b757e 48.5px,#32827b 51.5px,#308080 56.5px,#2f7e7f 68.5px,#38896c 71.5px,#3e915c 83.5px,#43974f 85.5px,#579f4a 86.5px,#82a954 88.5px,#99af58 90.5px,#94ae57 92.5px,#86aa55 93.5px,#429651 95.5px,#368771 96.5px,#296f7e 97.5px,#173d79 99.5px,#0b1575 102.5px,#0c1976 109.5px,#122e77 121.5px,#143478 123.5px,#0f2577 126.5px,#102777 133.5px,#0f2277 136.5px,#143478 137.5px,#112977 143.5px,#133078 148.5px,#0f2577 150.5px,#122e77 165.5px,#0f2277 169.5px,#0e2076 178.5px,#133278 183.5px,#0d1e76 189.5px,#112c77 194.5px,#112977 198.5px,#1b4b7a 205.5px,#143478 207.5px,#133278 208.5px,#194379 211.5px,#1c4d7a 215.5px,#163b79 217.5px,#173f79 221.5px,#173d79 225.5px,#1c4d7a 236.5px)"></div><div style="top:43px;height:1px;background:linear-gradient(90deg,#31817d 0.5px,#2d7a7f 7.5px,#2e7b7f 14.5px,#286d7d 18.5px,#308080 20.5px,#2a727e 25.5px,#308080 28.5px,#2f7d7f 35.5px,#2e7b7f 38.5px,#29707e 42.5px,#2d7a7f 46.5px,#2b757e 48.5px,#31827c 51.5px,#2d7a7f 55.5px,#30817e 59.5px,#2f7d7f 68.5px,#368771 71.5px,#3d905d 85.5px,#4c9c47 87.5px,#94ae57 92.5px,#a5b25b 94.5px,#9db059 95.5px,#7da853 96.5px,#45994a 97.5px,#38896c 98.5px,#2b757e 99.5px,#133078 102.5px,#0d1e76 104.5px,#0c1976 108.5px,#0e2076 111.5px,#112977 117.5px,#153778 123.5px,#0f2577 126.5px,#102777 131.5px,#112977 133.5px,#0f2277 136.5px,#143478 137.5px,#153978 138.5px,#112977 141.5px,#122e77 146.5px,#133278 148.5px,#0f2577 150.5px,#122e77 165.5px,#0f2277 169.5px,#0f2277 178.5px,#133278 183.5px,#0e2076 189.5px,#133078 193.5px,#112c77 198.5px,#1b4b7a 205.5px,#143478 207.5px,#194379 211.5px,#1c4d7a 215.5px,#163b79 218.5px,#173f79 221.5px,#163b79 224.5px,#1c4d7a 236.5px)"></div><div style="top:44px;height:1px;background:linear-gradient(90deg,#2f7e7f 0.5px,#2d7a7f 14.5px,#2a727e 18.5px,#2d787f 21.5px,#2c777f 26.5px,#2e7b7f 31.5px,#2d787f 34.5px,#2f7d7f 38.5px,#29707e 43.5px,#2f7e7f 45.5px,#2b757e 48.5px,#30817e 51.5px,#2d787f 55.5px,#30817e 59.5px,#2f7e7f 68.5px,#348576 71.5px,#37896d 79.5px,#3f925a 86.5px,#4a9b46 89.5px,#b4b65d 95.5px,#b7b75e 96.5px,#a2b15a 97.5px,#7aa752 98.5px,#44984c 99.5px,#2f7d7f 101.5px,#1b497a 103.5px,#0f2277 107.5px,#102777 115.5px,#153978 123.5px,#102777 125.5px,#102777 131.5px,#0f2577 136.5px,#153778 137.5px,#133078 139.5px,#112977 145.5px,#143478 148.5px,#112977 151.5px,#122e77 165.5px,#0f2277 169.5px,#0f2577 178.5px,#143478 183.5px,#0f2277 189.5px,#143478 193.5px,#122e77 198.5px,#1b4b7a 204.5px,#194379 206.5px,#143478 208.5px,#194379 211.5px,#1b497a 214.5px,#1d4f7a 215.5px,#163b79 218.5px,#173f79 221.5px,#173d79 224.5px,#1c4d7a 235.5px,#1c4d7a 236.5px)"></div><div style="top:45px;height:1px;background:linear-gradient(90deg,#2e7b7f 0.5px,#2e7b7f 13.5px,#2b737e 18.5px,#2d7a7f 31.5px,#29707e 33.5px,#308080 37.5px,#276b7d 42.5px,#308080 45.5px,#2c777f 48.5px,#308080 51.5px,#2c777f 55.5px,#30817e 59.5px,#2f7d7f 67.5px,#32827b 71.5px,#32827b 74.5px,#388a6a 82.5px,#4a9b46 91.5px,#82a954 94.5px,#abb45c 96.5px,#b0b55d 97.5px,#91ad57 99.5px,#4e9c47 101.5px,#348576 103.5px,#215a7b 105.5px,#143478 107.5px,#0f2577 113.5px,#163b79 123.5px,#0f2577 126.5px,#102777 131.5px,#112977 133.5px,#102777 136.5px,#153778 137.5px,#153978 138.5px,#102777 141.5px,#133078 146.5px,#153978 148.5px,#112977 151.5px,#122e77 165.5px,#0f2577 169.5px,#102777 178.5px,#153778 183.5px,#0f2577 189.5px,#153778 193.5px,#133078 198.5px,#184179 201.5px,#1c4d7a 205.5px,#153778 207.5px,#143478 208.5px,#194379 211.5px,#1d4f7a 215.5px,#163b79 218.5px,#173f79 221.5px,#173d79 224.5px,#1d4f7a 236.5px)"></div><div style="top:46px;height:1px;background:linear-gradient(90deg,#2d7a7f 0.5px,#2f7e7f 11.5px,#29707e 18.5px,#2d7a7f 29.5px,#296f7e 33.5px,#2e7b7f 37.5px,#276b7d 43.5px,#308080 45.5px,#2b757e 48.5px,#308080 51.5px,#2b757e 54.5px,#308080 60.5px,#2e7b7f 64.5px,#31817d 71.5px,#30817e 74.5px,#38896c 83.5px,#409455 86.5px,#419552 91.5px,#4c9c47 93.5px,#91ad57 97.5px,#9eb059 100.5px,#8cab56 102.5px,#43984d 104.5px,#2d7a7f 106.5px,#1b497a 108.5px,#112977 113.5px,#143478 119.5px,#173d79 123.5px,#0f2577 126.5px,#102777 131.5px,#112c77 133.5px,#102777 136.5px,#153978 137.5px,#163b79 138.5px,#102777 140.5px,#133278 146.5px,#163b79 148.5px,#112977 151.5px,#112c77 166.5px,#0f2577 169.5px,#112977 178.5px,#153978 183.5px,#102777 189.5px,#163b79 193.5px,#133278 198.5px,#194379 201.5px,#1c4d7a 205.5px,#153778 207.5px,#194379 211.5px,#1d517b 215.5px,#163b79 218.5px,#173d79 224.5px,#1c4d7a 233.5px,#1d4f7a 236.5px)"></div><div style="top:47px;height:1px;background:linear-gradient(90deg,#2d787f 0.5px,#2d7a7f 4.5px,#31827c 10.5px,#276b7d 18.5px,#286d7d 22.5px,#2b737e 28.5px,#2f7d7f 30.5px,#286d7d 33.5px,#29707e 40.5px,#276a7d 43.5px,#2f7e7f 45.5px,#2b757e 48.5px,#308080 51.5px,#2b757e 54.5px,#2e7b7f 61.5px,#2f7d7f 69.5px,#338378 81.5px,#419552 88.5px,#3f925a 91.5px,#4a9b46 95.5px,#abb45c 102.5px,#abb45c 103.5px,#9db059 104.5px,#7da853 105.5px,#4a9b46 106.5px,#308080 108.5px,#153978 112.5px,#133278 116.5px,#153978 121.5px,#173f79 123.5px,#0f2577 126.5px,#0e2076 130.5px,#122e77 132.5px,#102777 136.5px,#163b79 137.5px,#163b79 138.5px,#102777 140.5px,#133278 146.5px,#173d79 148.5px,#112c77 151.5px,#133078 165.5px,#0f2577 169.5px,#112c77 178.5px,#163b79 183.5px,#112977 189.5px,#173d79 193.5px,#143478 198.5px,#194579 201.5px,#1d4f7a 205.5px,#153978 207.5px,#173f79 209.5px,#1d517b 215.5px,#173d79 218.5px,#194379 226.5px,#1d517b 236.5px)"></div><div style="top:48px;height:1px;background:linear-gradient(90deg,#2d787f 0.5px,#2b737e 3.5px,#328379 7.5px,#29707e 16.5px,#286d7d 19.5px,#276b7d 27.5px,#2f7d7f 30.5px,#286d7d 33.5px,#29707e 40.5px,#26687d 43.5px,#2f7d7f 45.5px,#2d787f 49.5px,#2f7e7f 51.5px,#2b757e 54.5px,#2d7a7f 61.5px,#2d787f 69.5px,#2e7b7f 74.5px,#348576 83.5px,#3e915c 89.5px,#479a47 98.5px,#a7b25b 103.5px,#afb55c 105.5px,#a2b15a 106.5px,#86aa55 107.5px,#579f4a 108.5px,#3e915c 109.5px,#348575 110.5px,#1f557b 112.5px,#163b79 114.5px,#163b79 121.5px,#173f79 123.5px,#0f2577 126.5px,#0f2277 130.5px,#133078 132.5px,#112977 136.5px,#163b79 137.5px,#133078 139.5px,#102777 141.5px,#133278 146.5px,#173f79 147.5px,#112c77 151.5px,#133278 165.5px,#102777 169.5px,#112c77 178.5px,#173d79 183.5px,#112c77 189.5px,#173f79 193.5px,#143478 198.5px,#1a477a 201.5px,#1d4f7a 205.5px,#153978 207.5px,#153778 208.5px,#194579 211.5px,#1c4d7a 214.5px,#1c4d7a 216.5px,#173d79 218.5px,#184179 225.5px,#1d4f7a 233.5px,#1d517b 236.5px)"></div><div style="top:49px;height:1px;background:linear-gradient(90deg,#2c777f 0.5px,#2f7d7f 4.5px,#32827b 10.5px,#276b7d 17.5px,#296f7e 27.5px,#2f7d7f 30.5px,#276b7d 33.5px,#2a727e 39.5px,#25677d 43.5px,#2f7d7f 45.5px,#2d787f 49.5px,#2e7b7f 51.5px,#2b737e 54.5px,#2d787f 61.5px,#2b737e 68.5px,#2d7a7f 71.5px,#2a727e 73.5px,#2e7b7f 76.5px,#328379 83.5px,#398c67 87.5px,#3a8c66 90.5px,#409456 93.5px,#409455 98.5px,#45994a 100.5px,#78a652 102.5px,#b4b65d 106.5px,#a8b35b 108.5px,#8eac56 109.5px,#64a24d 110.5px,#3f925a 111.5px,#328379 112.5px,#1d517b 114.5px,#173f79 116.5px,#173d79 121.5px,#184179 123.5px,#102777 126.5px,#0f2277 130.5px,#133078 132.5px,#112977 136.5px,#163b79 137.5px,#173d79 138.5px,#102777 140.5px,#112c77 145.5px,#173f79 147.5px,#143478 149.5px,#112c77 152.5px,#133278 165.5px,#102777 169.5px,#122e77 178.5px,#173d79 183.5px,#112c77 189.5px,#173f79 193.5px,#143478 198.5px,#1a477a 200.5px,#1d4f7a 205.5px,#153978 207.5px,#194579 211.5px,#1e537b 215.5px,#173d79 218.5px,#173f79 224.5px,#1d4f7a 233.5px,#1d517b 236.5px)"></div><div style="top:50px;height:1px;background:linear-gradient(90deg,#2b757e 0.5px,#32827b 9.5px,#286d7d 17.5px,#286d7d 24.5px,#2e7b7f 30.5px,#276b7d 33.5px,#2c777f 36.5px,#26687d 41.5px,#24647c 43.5px,#2e7b7f 45.5px,#2c777f 49.5px,#2b757e 55.5px,#2b757e 61.5px,#2b757e 71.5px,#286d7d 73.5px,#2f7e7f 75.5px,#2b757e 78.5px,#348575 84.5px,#3b8d63 92.5px,#3f9258 96.5px,#43974f 101.5px,#509d48 102.5px,#91ad57 105.5px,#b8b55f 108.5px,#b8b55f 109.5px,#abb45c 110.5px,#8aab56 111.5px,#579f4a 112.5px,#3b8d63 113.5px,#2f7e7f 114.5px,#1d517b 116.5px,#173d79 120.5px,#1a477a 122.5px,#102777 126.5px,#112c77 131.5px,#133078 133.5px,#112977 135.5px,#112977 136.5px,#173d79 137.5px,#173d79 138.5px,#102777 140.5px,#112c77 145.5px,#184179 147.5px,#184179 148.5px,#122e77 150.5px,#133078 166.5px,#112977 169.5px,#122e77 178.5px,#173f79 183.5px,#122e77 189.5px,#173f79 193.5px,#153778 198.5px,#1a477a 201.5px,#1d4f7a 205.5px,#153978 208.5px,#1a477a 211.5px,#1e537b 215.5px,#173f79 218.5px,#194579 226.5px,#1d4f7a 232.5px,#1d517b 236.5px)"></div><div style="top:51px;height:1px;background:linear-gradient(90deg,#2b757e 0.5px,#31827c 9.5px,#29707e 15.5px,#29707e 24.5px,#2c777f 31.5px,#276b7d 33.5px,#2d787f 36.5px,#25677d 41.5px,#225e7c 42.5px,#2d787f 45.5px,#2b737e 54.5px,#2a727e 61.5px,#2a727e 71.5px,#276b7d 73.5px,#2f7d7f 75.5px,#2a727e 78.5px,#338378 83.5px,#398b68 93.5px,#409456 98.5px,#409357 101.5px,#4c9c47 103.5px,#78a652 105.5px,#8eac56 107.5px,#b2b65d 109.5px,#abb45c 111.5px,#7ca753 113.5px,#44994b 114.5px,#38896c 115.5px,#2c777f 116.5px,#1b497a 119.5px,#194379 121.5px,#1a477a 123.5px,#122e77 125.5px,#102777 130.5px,#143478 132.5px,#112977 136.5px,#173d79 137.5px,#173f79 138.5px,#112977 140.5px,#112c77 145.5px,#194379 147.5px,#122e77 151.5px,#143478 165.5px,#112c77 169.5px,#112c77 178.5px,#173f79 183.5px,#133278 190.5px,#173d79 193.5px,#153778 198.5px,#1a477a 201.5px,#1c4d7a 205.5px,#163b79 207.5px,#1b497a 211.5px,#1e537b 215.5px,#173f79 218.5px,#194379 221.5px,#184179 224.5px,#1d517b 233.5px,#1d517b 236.5px)"></div><div style="top:52px;height:1px;background:linear-gradient(90deg,#2d787f 0.5px,#2f7e7f 10.5px,#29707e 13.5px,#2b737e 24.5px,#2b737e 31.5px,#276a7d 33.5px,#2c777f 36.5px,#25657d 41.5px,#215c7c 42.5px,#2b737e 45.5px,#29707e 54.5px,#296f7e 61.5px,#29707e 69.5px,#276a7d 73.5px,#2d7a7f 75.5px,#296f7e 78.5px,#32827b 83.5px,#358672 86.5px,#37896d 93.5px,#419554 100.5px,#44994b 103.5px,#64a24d 106.5px,#7ca753 108.5px,#9baf59 110.5px,#a2b15a 113.5px,#93ad57 114.5px,#6ba44f 115.5px,#409456 116.5px,#348576 117.5px,#215a7b 119.5px,#1b4b7a 120.5px,#1b497a 123.5px,#133278 125.5px,#133078 131.5px,#133278 133.5px,#102777 136.5px,#173d79 137.5px,#173f79 138.5px,#102777 141.5px,#112977 145.5px,#194379 147.5px,#194379 148.5px,#122e77 150.5px,#133278 158.5px,#153778 165.5px,#122e77 169.5px,#112c77 178.5px,#173f79 183.5px,#143478 190.5px,#173d79 193.5px,#153778 198.5px,#1a477a 201.5px,#1c4d7a 205.5px,#163b79 207.5px,#1b4b7a 211.5px,#1e537b 215.5px,#173f79 218.5px,#194579 221.5px,#194379 224.5px,#1d517b 232.5px,#1d517b 236.5px)"></div><div style="top:53px;height:1px;background:linear-gradient(90deg,#2f7d7f 0.5px,#2d7a7f 10.5px,#2b757e 14.5px,#2b737e 30.5px,#26687d 33.5px,#2a727e 36.5px,#215c7c 43.5px,#296f7e 45.5px,#25657d 49.5px,#2a727e 60.5px,#23627c 66.5px,#296f7e 71.5px,#276a7d 73.5px,#2c777f 75.5px,#276a7d 78.5px,#308080 82.5px,#358673 89.5px,#3a8c66 98.5px,#4c9c47 102.5px,#4c9c47 106.5px,#6ba44f 109.5px,#a3b25a 114.5px,#a0b15a 115.5px,#86aa55 116.5px,#539d48 117.5px,#2e7b7f 119.5px,#23607c 120.5px,#1d4f7a 123.5px,#143478 125.5px,#133278 131.5px,#143478 133.5px,#102777 136.5px,#173d79 137.5px,#173f79 138.5px,#102777 141.5px,#112977 145.5px,#194579 147.5px,#194579 148.5px,#122e77 151.5px,#143478 158.5px,#153778 165.5px,#112c77 178.5px,#173f79 183.5px,#153978 191.5px,#153778 198.5px,#1a477a 201.5px,#194579 206.5px,#163b79 208.5px,#1c4d7a 211.5px,#1b4b7a 216.5px,#184179 218.5px,#1a477a 221.5px,#194579 224.5px,#1e537b 234.5px,#1e537b 236.5px)"></div><div style="top:54px;height:1px;background:linear-gradient(90deg,#2f7e7f 0.5px,#2a727e 13.5px,#2d787f 16.5px,#2b737e 26.5px,#25677d 33.5px,#296f7e 36.5px,#215a7b 43.5px,#276a7d 45.5px,#225e7c 49.5px,#29707e 59.5px,#215a7b 66.5px,#296f7e 70.5px,#276a7d 73.5px,#2b737e 75.5px,#25677d 78.5px,#30817e 81.5px,#328379 87.5px,#37896d 90.5px,#38896c 95.5px,#3b8e62 100.5px,#459a49 102.5px,#559e49 103.5px,#4e9c47 105.5px,#4a9b46 108.5px,#6fa450 112.5px,#9eb059 115.5px,#a2b15a 116.5px,#94ae57 117.5px,#6fa450 118.5px,#409456 119.5px,#338378 120.5px,#23627c 122.5px,#153778 125.5px,#143478 131.5px,#153778 133.5px,#102777 136.5px,#173f79 137.5px,#184179 138.5px,#112977 140.5px,#112977 145.5px,#194579 147.5px,#1a477a 148.5px,#133078 150.5px,#122e77 156.5px,#173d79 161.5px,#112c77 178.5px,#173f79 183.5px,#153778 198.5px,#1a477a 201.5px,#194579 206.5px,#173d79 208.5px,#1c4d7a 211.5px,#1b4b7a 216.5px,#184179 218.5px,#1b497a 221.5px,#194579 224.5px,#1e537b 233.5px,#1e537b 236.5px)"></div><div style="top:55px;height:1px;background:linear-gradient(90deg,#2f7d7f 0.5px,#2a727e 13.5px,#2d7a7f 16.5px,#2b757e 26.5px,#26687d 33.5px,#29707e 36.5px,#215a7b 43.5px,#26687d 45.5px,#215a7b 49.5px,#29707e 58.5px,#215c7c 66.5px,#276a7d 71.5px,#286d7d 74.5px,#25677d 78.5px,#2f7e7f 82.5px,#2e7b7f 86.5px,#38896c 92.5px,#38896c 98.5px,#479a47 104.5px,#5ba04b 106.5px,#479a47 109.5px,#5ba04b 112.5px,#98af58 116.5px,#9baf59 118.5px,#7fa853 119.5px,#45994a 120.5px,#38896c 121.5px,#2e7b7f 122.5px,#1b497a 124.5px,#153978 126.5px,#153778 131.5px,#153978 133.5px,#112977 135.5px,#102777 136.5px,#173f79 137.5px,#184179 138.5px,#112977 140.5px,#102777 145.5px,#1a477a 147.5px,#1b497a 148.5px,#133278 150.5px,#143478 157.5px,#173f79 161.5px,#112c77 178.5px,#184179 183.5px,#163b79 192.5px,#153778 198.5px,#1a477a 201.5px,#194579 206.5px,#173d79 208.5px,#1d4f7a 210.5px,#1d517b 215.5px,#184179 218.5px,#1c4d7a 220.5px,#1a477a 224.5px,#1f557b 233.5px,#1e537b 236.5px)"></div><div style="top:56px;height:1px;background:linear-gradient(90deg,#2e7b7f 0.5px,#2d7a7f 4.5px,#2d787f 8.5px,#2b737e 13.5px,#2e7b7f 20.5px,#296f7e 31.5px,#296f7e 34.5px,#26687d 40.5px,#20597b 42.5px,#24647c 46.5px,#215a7b 50.5px,#2b757e 57.5px,#215c7c 65.5px,#25657d 69.5px,#276a7d 76.5px,#25657d 78.5px,#2d7a7f 81.5px,#2c777f 86.5px,#338477 91.5px,#38896c 94.5px,#37886e 98.5px,#429650 105.5px,#4c9c47 106.5px,#60a14c 107.5px,#64a24d 108.5px,#4c9c47 111.5px,#6fa450 115.5px,#9baf59 118.5px,#9db059 119.5px,#8aab56 120.5px,#5ba04b 121.5px,#3d905f 122.5px,#31817d 123.5px,#215c7c 124.5px,#1a477a 125.5px,#153978 131.5px,#163b79 133.5px,#112977 135.5px,#112977 136.5px,#184179 137.5px,#194379 138.5px,#112c77 140.5px,#112977 145.5px,#1b497a 147.5px,#1b497a 148.5px,#133278 150.5px,#143478 157.5px,#184179 161.5px,#112c77 178.5px,#153778 181.5px,#184179 183.5px,#163b79 192.5px,#153778 198.5px,#1a477a 201.5px,#1a477a 206.5px,#173d79 207.5px,#1d4f7a 211.5px,#1e537b 215.5px,#184179 217.5px,#1b4b7a 221.5px,#1a477a 224.5px,#1f557b 233.5px,#1e537b 236.5px)"></div><div style="top:57px;height:1px;background:linear-gradient(90deg,#2d787f 0.5px,#308080 3.5px,#29707e 6.5px,#2c777f 10.5px,#2d787f 14.5px,#2d7a7f 21.5px,#276b7d 33.5px,#29707e 37.5px,#276b7d 40.5px,#20597b 42.5px,#23627c 46.5px,#1f577b 50.5px,#26687d 53.5px,#2a727e 58.5px,#215c7c 65.5px,#25677d 68.5px,#25677d 76.5px,#23627c 78.5px,#2d7a7f 81.5px,#286d7d 85.5px,#2f7d7f 88.5px,#32827b 92.5px,#398c67 96.5px,#3a8c66 100.5px,#429650 107.5px,#509d48 108.5px,#6ba44f 109.5px,#6fa450 110.5px,#509d48 112.5px,#599f4a 115.5px,#9db059 119.5px,#a5b25b 120.5px,#99af58 121.5px,#74a551 122.5px,#409456 123.5px,#308080 124.5px,#215c7c 125.5px,#1b497a 126.5px,#153778 130.5px,#184179 132.5px,#112977 136.5px,#184179 137.5px,#194579 138.5px,#112c77 140.5px,#112977 145.5px,#1b497a 147.5px,#1b4b7a 148.5px,#133278 150.5px,#133078 156.5px,#184179 161.5px,#122e77 178.5px,#194379 183.5px,#173d79 186.5px,#153778 198.5px,#1a477a 201.5px,#1a477a 206.5px,#173f79 208.5px,#1d517b 211.5px,#1e537b 215.5px,#184179 217.5px,#1b4b7a 221.5px,#1a477a 224.5px,#1f557b 234.5px,#1e537b 236.5px)"></div><div style="top:58px;height:1px;background:linear-gradient(90deg,#2c777f 0.5px,#2f7e7f 3.5px,#296f7e 6.5px,#2b737e 11.5px,#2f7e7f 20.5px,#29707e 29.5px,#29707e 34.5px,#276a7d 40.5px,#215a7b 42.5px,#23627c 46.5px,#1d517b 50.5px,#26687d 53.5px,#286d7d 56.5px,#276a7d 59.5px,#20597b 65.5px,#25677d 68.5px,#24647c 76.5px,#225e7c 78.5px,#2d7a7f 82.5px,#2e7b7f 83.5px,#276b7d 85.5px,#2d7a7f 88.5px,#2e7b7f 91.5px,#388a6b 96.5px,#3d905f 99.5px,#3e915b 107.5px,#44984c 109.5px,#74a551 111.5px,#6ba44f 112.5px,#479a47 114.5px,#459a49 115.5px,#a3b25a 120.5px,#afb55c 121.5px,#a3b25a 122.5px,#7da853 123.5px,#409455 124.5px,#31817d 125.5px,#23607c 126.5px,#173f79 129.5px,#173d79 133.5px,#122e77 135.5px,#112c77 136.5px,#194579 137.5px,#194579 138.5px,#112c77 140.5px,#112c77 145.5px,#1b4b7a 147.5px,#1c4d7a 148.5px,#133278 150.5px,#133278 156.5px,#194379 161.5px,#122e77 178.5px,#194379 183.5px,#173d79 192.5px,#153978 198.5px,#1b497a 201.5px,#1a477a 206.5px,#173f79 208.5px,#1d517b 211.5px,#1f557b 215.5px,#194379 218.5px,#1b4b7a 221.5px,#1a477a 224.5px,#1f557b 234.5px,#1f557b 236.5px)"></div><div style="top:59px;height:1px;background:linear-gradient(90deg,#2b737e 0.5px,#2f7d7f 3.5px,#296f7e 6.5px,#30817e 21.5px,#276a7d 28.5px,#276b7d 32.5px,#2a727e 36.5px,#23607c 43.5px,#23607c 46.5px,#1c4d7a 50.5px,#26687d 53.5px,#276b7d 58.5px,#1f557b 65.5px,#25657d 67.5px,#23607c 76.5px,#225e7c 78.5px,#2c777f 83.5px,#276a7d 85.5px,#2d7a7f 87.5px,#2d787f 91.5px,#338378 95.5px,#348575 97.5px,#3f925a 100.5px,#3c8e61 106.5px,#409455 110.5px,#479a47 111.5px,#69a34e 112.5px,#6da44f 113.5px,#4e9c47 114.5px,#43974f 115.5px,#44994b 116.5px,#8fac56 120.5px,#a7b25b 121.5px,#adb45c 122.5px,#a2b15a 123.5px,#7fa853 124.5px,#429650 125.5px,#338477 126.5px,#1f557b 128.5px,#173d79 130.5px,#194379 132.5px,#133078 135.5px,#122e77 136.5px,#1a477a 137.5px,#1a477a 138.5px,#112c77 140.5px,#112c77 145.5px,#1c4d7a 147.5px,#1c4d7a 148.5px,#143478 150.5px,#143478 156.5px,#194379 161.5px,#133078 178.5px,#194579 183.5px,#163b79 191.5px,#163b79 198.5px,#1b4b7a 201.5px,#1b497a 206.5px,#173f79 207.5px,#1d517b 211.5px,#1d4f7a 216.5px,#194379 218.5px,#1b4b7a 221.5px,#1a477a 224.5px,#1f557b 234.5px,#1f557b 236.5px)"></div><div style="top:60px;height:1px;background:linear-gradient(90deg,#2a727e 0.5px,#2f7d7f 3.5px,#296f7e 6.5px,#31817d 21.5px,#26687d 28.5px,#296f7e 31.5px,#29707e 34.5px,#286d7d 37.5px,#24647c 44.5px,#1e537b 48.5px,#1b497a 50.5px,#25677d 53.5px,#24647c 59.5px,#1d517b 65.5px,#24647c 67.5px,#215c7c 78.5px,#2b757e 83.5px,#25657d 85.5px,#2f7d7f 88.5px,#2c777f 91.5px,#32827b 96.5px,#37886e 99.5px,#3f925a 103.5px,#3a8c66 106.5px,#3f925a 111.5px,#429650 112.5px,#5ea04b 114.5px,#44984c 116.5px,#60a14c 119.5px,#9db059 122.5px,#9eb059 124.5px,#87aa55 125.5px,#4a9b46 126.5px,#38896c 127.5px,#2b737e 128.5px,#194579 130.5px,#173f79 133.5px,#133278 135.5px,#133278 136.5px,#1b497a 137.5px,#1b497a 138.5px,#112c77 140.5px,#122e77 145.5px,#1d4f7a 147.5px,#1d4f7a 148.5px,#143478 150.5px,#153778 156.5px,#194379 161.5px,#133078 178.5px,#194579 183.5px,#163b79 190.5px,#173d79 194.5px,#173d79 198.5px,#1d4f7a 200.5px,#1b497a 206.5px,#184179 208.5px,#1d517b 211.5px,#1d517b 216.5px,#194579 217.5px,#1b497a 221.5px,#1c4d7a 228.5px,#1f557b 236.5px)"></div><div style="top:61px;height:1px;background:linear-gradient(90deg,#2a727e 0.5px,#308080 3.5px,#2a727e 6.5px,#2d787f 13.5px,#308080 21.5px,#26687d 28.5px,#2a727e 31.5px,#296f7e 37.5px,#23627c 44.5px,#1e537b 48.5px,#1b497a 50.5px,#23627c 52.5px,#25677d 58.5px,#1e537b 65.5px,#24647c 67.5px,#23607c 72.5px,#225e7c 78.5px,#2b757e 83.5px,#23627c 85.5px,#2d7a7f 89.5px,#31827c 98.5px,#3e915b 104.5px,#3b8d63 109.5px,#429650 114.5px,#509d48 116.5px,#479a47 118.5px,#72a551 121.5px,#a0b15a 124.5px,#a5b25b 125.5px,#93ad57 126.5px,#60a14c 127.5px,#3b8e62 128.5px,#2d787f 129.5px,#20597b 130.5px,#1b497a 131.5px,#184179 133.5px,#153778 135.5px,#143478 136.5px,#1c4d7a 137.5px,#1b4b7a 138.5px,#112c77 140.5px,#133078 145.5px,#1d517b 147.5px,#1d517b 148.5px,#143478 150.5px,#173f79 158.5px,#184179 162.5px,#133078 178.5px,#1a477a 182.5px,#163b79 190.5px,#173f79 194.5px,#173f79 198.5px,#1d517b 200.5px,#1b4b7a 204.5px,#1b497a 206.5px,#184179 208.5px,#1d517b 210.5px,#1e537b 216.5px,#194579 218.5px,#1b497a 221.5px,#1d4f7a 229.5px,#1f577b 236.5px)"></div><div style="top:62px;height:1px;background:linear-gradient(90deg,#29707e 0.5px,#31827c 3.5px,#29707e 9.5px,#31827c 18.5px,#25657d 27.5px,#2c777f 32.5px,#26687d 41.5px,#1c4d7a 50.5px,#24647c 53.5px,#23627c 56.5px,#23627c 63.5px,#1e537b 65.5px,#23627c 68.5px,#24647c 78.5px,#2c777f 82.5px,#23627c 85.5px,#328379 93.5px,#30817e 98.5px,#388a6b 103.5px,#3a8d65 105.5px,#3f9258 107.5px,#388a6a 109.5px,#3f9258 115.5px,#459a49 116.5px,#559e49 117.5px,#4a9b46 119.5px,#72a551 122.5px,#a5b25b 125.5px,#a8b35b 126.5px,#99af58 127.5px,#6da44f 128.5px,#3e915b 129.5px,#2f7e7f 130.5px,#225e7c 131.5px,#153978 134.5px,#153978 136.5px,#1d4f7a 137.5px,#1d4f7a 138.5px,#112c77 140.5px,#133278 145.5px,#1e537b 147.5px,#1e537b 148.5px,#153778 150.5px,#163b79 156.5px,#194579 161.5px,#153978 169.5px,#122e77 177.5px,#1a477a 183.5px,#173d79 190.5px,#184179 194.5px,#173f79 198.5px,#1e537b 200.5px,#1b4b7a 204.5px,#1b497a 206.5px,#194379 208.5px,#1d4f7a 211.5px,#215a7b 215.5px,#194579 218.5px,#1b4b7a 228.5px,#1f577b 236.5px)"></div><div style="top:63px;height:1px;background:linear-gradient(90deg,#29707e 0.5px,#32827b 3.5px,#2a727e 10.5px,#31827c 18.5px,#24647c 27.5px,#2e7b7f 32.5px,#2b737e 35.5px,#2a727e 38.5px,#26687d 41.5px,#1d4f7a 50.5px,#24647c 53.5px,#23607c 56.5px,#24647c 63.5px,#20597b 66.5px,#23627c 68.5px,#23607c 77.5px,#2d787f 81.5px,#26687d 84.5px,#25677d 86.5px,#31827c 93.5px,#348576 95.5px,#2f7e7f 98.5px,#368770 103.5px,#338378 105.5px,#419552 108.5px,#398b68 110.5px,#3f9258 116.5px,#459a49 117.5px,#599f4a 118.5px,#559e49 121.5px,#a2b15a 126.5px,#99af58 128.5px,#7ca753 129.5px,#429651 130.5px,#328379 131.5px,#173f79 134.5px,#163b79 136.5px,#1e537b 137.5px,#1d517b 138.5px,#112c77 140.5px,#143478 145.5px,#1e537b 147.5px,#1e537b 148.5px,#153778 150.5px,#153978 155.5px,#194579 161.5px,#153978 169.5px,#133278 178.5px,#1b497a 182.5px,#173d79 190.5px,#194579 193.5px,#184179 198.5px,#1f557b 200.5px,#1c4d7a 204.5px,#194379 208.5px,#1d4f7a 211.5px,#215c7c 215.5px,#1a477a 218.5px,#1b497a 226.5px,#1f577b 236.5px)"></div><div style="top:64px;height:1px;background:linear-gradient(90deg,#2b737e 0.5px,#31817d 3.5px,#2b737e 10.5px,#308080 19.5px,#25677d 25.5px,#276a7d 28.5px,#2e7b7f 32.5px,#286d7d 40.5px,#215a7b 43.5px,#1c4d7a 50.5px,#23607c 53.5px,#23607c 57.5px,#215a7b 64.5px,#24647c 78.5px,#2c777f 82.5px,#23627c 85.5px,#32827b 95.5px,#358672 103.5px,#338378 106.5px,#429651 109.5px,#398b68 112.5px,#3f9258 117.5px,#45994a 118.5px,#64a24d 119.5px,#64a24d 120.5px,#559e49 121.5px,#539d48 122.5px,#96ae58 127.5px,#a2b15a 129.5px,#8cab56 130.5px,#4c9c47 131.5px,#368771 132.5px,#26687d 133.5px,#1b497a 134.5px,#173f79 136.5px,#1f557b 137.5px,#1e537b 138.5px,#122e77 140.5px,#153778 145.5px,#1f557b 147.5px,#1f557b 148.5px,#153778 150.5px,#163b79 155.5px,#194579 161.5px,#153978 169.5px,#133078 175.5px,#133278 178.5px,#1b497a 183.5px,#173d79 188.5px,#184179 194.5px,#184179 198.5px,#1f557b 200.5px,#1c4d7a 204.5px,#194379 208.5px,#1d4f7a 211.5px,#215c7c 215.5px,#1a477a 218.5px,#1d4f7a 229.5px,#1f577b 236.5px)"></div><div style="top:65px;height:1px;background:linear-gradient(90deg,#2b757e 0.5px,#2f7d7f 3.5px,#2a727e 7.5px,#2f7d7f 19.5px,#25677d 26.5px,#2d7a7f 32.5px,#23627c 41.5px,#1f557b 43.5px,#215a7b 48.5px,#1c4d7a 50.5px,#20597b 54.5px,#23607c 61.5px,#20597b 66.5px,#20597b 71.5px,#23627c 78.5px,#276b7d 83.5px,#25677d 86.5px,#30817e 97.5px,#358673 100.5px,#338378 106.5px,#3a8d65 109.5px,#409357 111.5px,#3b8d63 114.5px,#3f925a 118.5px,#479a47 119.5px,#72a551 120.5px,#72a551 121.5px,#579f4a 122.5px,#509d48 123.5px,#67a34e 125.5px,#b0b55d 130.5px,#9baf59 131.5px,#559e49 132.5px,#358672 133.5px,#23627c 134.5px,#1b4b7a 135.5px,#194379 136.5px,#20597b 137.5px,#1f557b 138.5px,#133078 140.5px,#153778 145.5px,#1f577b 147.5px,#1f577b 148.5px,#153778 150.5px,#163b79 155.5px,#1a477a 161.5px,#163b79 169.5px,#133078 177.5px,#1b4b7a 182.5px,#173d79 190.5px,#194379 194.5px,#173d79 197.5px,#1f557b 200.5px,#1c4d7a 204.5px,#1b4b7a 206.5px,#194379 208.5px,#1d517b 211.5px,#215c7c 215.5px,#1a477a 218.5px,#1c4d7a 228.5px,#20597b 236.5px)"></div><div style="top:66px;height:1px;background:linear-gradient(90deg,#2c777f 0.5px,#2a727e 4.5px,#2d787f 15.5px,#2c777f 20.5px,#25677d 26.5px,#2c777f 32.5px,#276a7d 39.5px,#1f557b 43.5px,#1f577b 46.5px,#23607c 48.5px,#1c4d7a 50.5px,#20597b 54.5px,#24647c 60.5px,#1f557b 65.5px,#215a7b 68.5px,#1f577b 74.5px,#26687d 81.5px,#23607c 85.5px,#2a727e 90.5px,#2e7b7f 98.5px,#37886e 102.5px,#31817d 105.5px,#3b8d63 111.5px,#3e915c 113.5px,#3c8f60 118.5px,#4e9c47 120.5px,#72a551 121.5px,#76a652 122.5px,#5ba04b 123.5px,#509d48 124.5px,#82a954 128.5px,#b0b55d 130.5px,#b7b65e 131.5px,#9db059 132.5px,#4e9c47 133.5px,#338378 134.5px,#1b4b7a 136.5px,#215c7c 137.5px,#20597b 138.5px,#133278 140.5px,#153778 145.5px,#1f577b 147.5px,#1f577b 148.5px,#153978 150.5px,#173f79 156.5px,#1b497a 161.5px,#163b79 169.5px,#143478 178.5px,#1b4b7a 182.5px,#173d79 190.5px,#194579 193.5px,#184179 198.5px,#1e537b 200.5px,#1c4d7a 204.5px,#1c4d7a 206.5px,#194379 207.5px,#1d517b 211.5px,#215c7c 215.5px,#1a477a 218.5px,#1c4d7a 227.5px,#20597b 236.5px)"></div><div style="top:67px;height:1px;background:linear-gradient(90deg,#2c777f 0.5px,#29707e 4.5px,#2a727e 9.5px,#2c777f 19.5px,#25657d 26.5px,#2b737e 31.5px,#276b7d 40.5px,#1f557b 44.5px,#23627c 48.5px,#1f577b 51.5px,#24647c 60.5px,#1f557b 64.5px,#1f557b 70.5px,#1d517b 73.5px,#25657d 80.5px,#225e7c 85.5px,#2b757e 90.5px,#2f7d7f 99.5px,#37886e 103.5px,#328379 106.5px,#398b68 112.5px,#409456 114.5px,#3a8c66 117.5px,#4a9b46 121.5px,#69a34e 122.5px,#76a652 123.5px,#559e49 125.5px,#74a551 128.5px,#b4b65d 131.5px,#b7b75e 132.5px,#93ad57 133.5px,#43984d 134.5px,#31827c 135.5px,#23607c 136.5px,#225e7c 138.5px,#143478 140.5px,#153778 145.5px,#20597b 147.5px,#20597b 148.5px,#153978 150.5px,#173f79 156.5px,#1d4f7a 160.5px,#163b79 168.5px,#143478 178.5px,#1b4b7a 183.5px,#173d79 189.5px,#173f79 196.5px,#184179 198.5px,#1d517b 201.5px,#1c4d7a 206.5px,#194379 207.5px,#1d517b 211.5px,#215c7c 215.5px,#1a477a 218.5px,#1d4f7a 227.5px,#20597b 235.5px,#20597b 236.5px)"></div><div style="top:68px;height:1px;background:linear-gradient(90deg,#2b757e 0.5px,#296f7e 4.5px,#276a7d 8.5px,#2d787f 18.5px,#23627c 25.5px,#2b757e 30.5px,#276b7d 34.5px,#2b757e 38.5px,#225e7c 43.5px,#1d517b 45.5px,#23607c 48.5px,#23627c 56.5px,#215c7c 61.5px,#1f577b 64.5px,#1f577b 69.5px,#1d4f7a 73.5px,#225e7c 76.5px,#23607c 85.5px,#2e7b7f 93.5px,#2f7d7f 99.5px,#358673 107.5px,#398c67 113.5px,#429651 115.5px,#3a8c66 117.5px,#44994b 122.5px,#6fa450 124.5px,#559e49 126.5px,#67a34e 128.5px,#86aa55 130.5px,#b2b65d 132.5px,#afb55c 133.5px,#87aa55 134.5px,#429651 135.5px,#31827c 136.5px,#25677d 138.5px,#153978 140.5px,#153778 145.5px,#20597b 147.5px,#20597b 148.5px,#153978 150.5px,#173f79 156.5px,#1d4f7a 161.5px,#173d79 169.5px,#143478 178.5px,#173f79 181.5px,#1b4b7a 182.5px,#173f79 191.5px,#173f79 198.5px,#1d4f7a 201.5px,#1c4d7a 206.5px,#194379 207.5px,#1e537b 211.5px,#215c7c 215.5px,#1a477a 218.5px,#1c4d7a 225.5px,#215c7c 233.5px,#20597b 236.5px)"></div><div style="top:69px;height:1px;background:linear-gradient(90deg,#2b737e 0.5px,#286d7d 4.5px,#25677d 8.5px,#296f7e 11.5px,#2c777f 18.5px,#25677d 22.5px,#24647c 26.5px,#2a727e 30.5px,#23627c 33.5px,#2d787f 38.5px,#29707e 41.5px,#1e537b 45.5px,#23627c 48.5px,#25657d 53.5px,#25657d 56.5px,#215c7c 61.5px,#1e537b 63.5px,#215a7b 68.5px,#1c4d7a 73.5px,#215c7c 76.5px,#225e7c 84.5px,#2c777f 91.5px,#308080 94.5px,#2f7e7f 99.5px,#338477 105.5px,#398b68 107.5px,#368770 110.5px,#388a6b 113.5px,#409455 115.5px,#419554 116.5px,#3c8e61 118.5px,#429650 121.5px,#43974f 123.5px,#509d48 124.5px,#69a34e 125.5px,#579f4a 127.5px,#74a551 130.5px,#adb45c 133.5px,#a5b25b 134.5px,#82a954 135.5px,#429650 136.5px,#2e7b7f 138.5px,#173f79 140.5px,#153778 145.5px,#215a7b 147.5px,#215a7b 148.5px,#163b79 150.5px,#173d79 156.5px,#1e537b 160.5px,#173d79 168.5px,#153778 179.5px,#1b4b7a 183.5px,#173d79 191.5px,#173d79 198.5px,#1c4d7a 201.5px,#1c4d7a 206.5px,#194579 208.5px,#1e537b 211.5px,#215c7c 215.5px,#1a477a 218.5px,#1d4f7a 225.5px,#225e7c 233.5px,#215a7b 236.5px)"></div><div style="top:70px;height:1px;background:linear-gradient(90deg,#2b757e 0.5px,#24647c 8.5px,#276b7d 11.5px,#2b737e 17.5px,#23607c 26.5px,#286d7d 30.5px,#225e7c 33.5px,#2d787f 38.5px,#276a7d 42.5px,#1f557b 45.5px,#25677d 48.5px,#26687d 53.5px,#225e7c 61.5px,#1d517b 63.5px,#215a7b 68.5px,#1d4f7a 73.5px,#215c7c 76.5px,#215c7c 84.5px,#30817e 95.5px,#308080 105.5px,#3b8e62 108.5px,#37896d 112.5px,#409455 117.5px,#43974f 124.5px,#4e9c47 125.5px,#69a34e 126.5px,#5ea04b 129.5px,#87aa55 132.5px,#a5b25b 134.5px,#a0b15a 135.5px,#87aa55 136.5px,#559e49 137.5px,#2a727e 139.5px,#1d4f7a 140.5px,#173f79 141.5px,#153778 145.5px,#215a7b 147.5px,#215a7b 148.5px,#163b79 150.5px,#173d79 156.5px,#1f577b 160.5px,#173f79 168.5px,#143478 178.5px,#173f79 181.5px,#1b4b7a 183.5px,#173d79 191.5px,#173d79 198.5px,#1f557b 205.5px,#194579 208.5px,#1f557b 211.5px,#225e7c 215.5px,#1a477a 218.5px,#1e537b 226.5px,#23607c 233.5px,#215a7b 236.5px)"></div><div style="top:71px;height:1px;background:linear-gradient(90deg,#2d787f 0.5px,#23607c 8.5px,#2b757e 16.5px,#23607c 27.5px,#24647c 31.5px,#215c7c 33.5px,#2c777f 37.5px,#29707e 41.5px,#20597b 45.5px,#276a7d 48.5px,#276b7d 53.5px,#276a7d 59.5px,#23627c 61.5px,#1d4f7a 63.5px,#215a7b 68.5px,#1d517b 73.5px,#215c7c 78.5px,#215c7c 84.5px,#2d787f 92.5px,#31827c 106.5px,#3c8f60 109.5px,#38896c 112.5px,#3f9258 115.5px,#3f9258 117.5px,#4c9c47 119.5px,#43974f 123.5px,#44994b 125.5px,#539d48 126.5px,#6da44f 127.5px,#6fa450 128.5px,#5ea04b 129.5px,#5ba04b 130.5px,#a3b25a 135.5px,#a5b25b 136.5px,#94ae57 137.5px,#64a24d 138.5px,#398c67 139.5px,#276b7d 140.5px,#1d4f7a 141.5px,#163b79 143.5px,#153978 145.5px,#215c7c 147.5px,#215c7c 148.5px,#173d79 150.5px,#173d79 156.5px,#20597b 160.5px,#173f79 168.5px,#153778 179.5px,#173d79 181.5px,#1c4d7a 183.5px,#163b79 191.5px,#163b79 198.5px,#1f557b 205.5px,#194579 208.5px,#1f557b 211.5px,#225e7c 215.5px,#194579 218.5px,#1f557b 226.5px,#24647c 233.5px,#215c7c 236.5px)"></div><div style="top:72px;height:1px;background:linear-gradient(90deg,#2e7b7f 0.5px,#25657d 5.5px,#24647c 9.5px,#2b757e 16.5px,#225e7c 28.5px,#24647c 31.5px,#215c7c 33.5px,#2d787f 37.5px,#25677d 43.5px,#215c7c 45.5px,#286d7d 48.5px,#276a7d 54.5px,#286d7d 59.5px,#296f7e 60.5px,#1d4f7a 63.5px,#215c7c 67.5px,#20597b 74.5px,#215c7c 84.5px,#2d7a7f 91.5px,#31817d 104.5px,#358672 108.5px,#3c8f60 110.5px,#398c67 113.5px,#3f925a 116.5px,#3d905d 117.5px,#409455 118.5px,#539d48 119.5px,#599f4a 120.5px,#45994a 121.5px,#459a49 126.5px,#559e49 127.5px,#72a551 128.5px,#72a551 129.5px,#5ea04b 130.5px,#69a34e 132.5px,#a3b25a 136.5px,#aab35c 137.5px,#9baf59 138.5px,#64a24d 139.5px,#388a6a 140.5px,#296f7e 141.5px,#1d517b 142.5px,#173d79 144.5px,#163b79 145.5px,#23607c 147.5px,#225e7c 148.5px,#173d79 150.5px,#173f79 156.5px,#215a7b 160.5px,#184179 167.5px,#153778 180.5px,#1c4d7a 183.5px,#163b79 191.5px,#163b79 198.5px,#1f557b 205.5px,#194579 208.5px,#1f557b 211.5px,#225e7c 215.5px,#1a477a 218.5px,#1d517b 225.5px,#25657d 233.5px,#225e7c 236.5px)"></div><div style="top:73px;height:1px;background:linear-gradient(90deg,#2d787f 0.5px,#23607c 8.5px,#2b737e 16.5px,#23607c 27.5px,#24647c 31.5px,#23627c 34.5px,#2d787f 38.5px,#225e7c 45.5px,#286d7d 48.5px,#26687d 55.5px,#296f7e 60.5px,#1e537b 63.5px,#215a7b 68.5px,#225e7c 84.5px,#2d7a7f 90.5px,#338378 106.5px,#3b8d63 112.5px,#3e915b 118.5px,#419552 119.5px,#539d48 120.5px,#5ba04b 121.5px,#459a49 122.5px,#43984d 125.5px,#459a49 127.5px,#579f4a 128.5px,#76a652 129.5px,#76a652 130.5px,#60a14c 131.5px,#6ba44f 133.5px,#a8b35b 137.5px,#adb45c 138.5px,#9db059 139.5px,#64a24d 140.5px,#3a8c66 141.5px,#2b737e 142.5px,#194579 144.5px,#173f79 145.5px,#24647c 147.5px,#23627c 148.5px,#173f79 150.5px,#173f79 156.5px,#215a7b 160.5px,#184179 168.5px,#153778 180.5px,#1c4d7a 183.5px,#173d79 191.5px,#163b79 198.5px,#1f557b 205.5px,#194579 208.5px,#1f557b 211.5px,#225e7c 215.5px,#1a477a 218.5px,#1d4f7a 224.5px,#25657d 233.5px,#225e7c 236.5px)"></div><div style="top:74px;height:1px;background:linear-gradient(90deg,#2b737e 0.5px,#23607c 8.5px,#276a7d 11.5px,#286d7d 17.5px,#24647c 26.5px,#276a7d 35.5px,#2d7a7f 38.5px,#29707e 43.5px,#225e7c 45.5px,#296f7e 48.5px,#276b7d 54.5px,#25677d 58.5px,#296f7e 60.5px,#20597b 63.5px,#225e7c 77.5px,#25657d 85.5px,#2f7d7f 91.5px,#338378 102.5px,#388a6a 111.5px,#409455 120.5px,#4c9c47 121.5px,#599f4a 122.5px,#45994a 123.5px,#43974f 125.5px,#45994a 128.5px,#599f4a 129.5px,#7ca753 130.5px,#7aa752 131.5px,#64a24d 132.5px,#62a14c 133.5px,#adb45c 138.5px,#adb45c 139.5px,#9eb059 140.5px,#6da44f 141.5px,#3d905d 142.5px,#2e7b7f 143.5px,#215c7c 144.5px,#1b4b7a 145.5px,#1e537b 146.5px,#25677d 147.5px,#25657d 148.5px,#184179 150.5px,#184179 156.5px,#215c7c 160.5px,#184179 168.5px,#153778 180.5px,#1d4f7a 183.5px,#173d79 191.5px,#194379 199.5px,#1f577b 205.5px,#194579 208.5px,#1f557b 211.5px,#225e7c 215.5px,#1a477a 218.5px,#1f577b 226.5px,#25657d 233.5px,#215c7c 236.5px)"></div><div style="top:75px;height:1px;background:linear-gradient(90deg,#2a727e 0.5px,#24647c 8.5px,#286d7d 11.5px,#25677d 22.5px,#23627c 25.5px,#26687d 28.5px,#276a7d 35.5px,#2f7d7f 38.5px,#2b757e 43.5px,#23607c 45.5px,#296f7e 48.5px,#29707e 52.5px,#26687d 58.5px,#2a727e 60.5px,#23607c 64.5px,#25677d 80.5px,#26687d 85.5px,#31827c 94.5px,#328379 102.5px,#388a6a 108.5px,#388a6a 112.5px,#3f9258 118.5px,#409456 121.5px,#4a9b46 122.5px,#559e49 123.5px,#44994b 124.5px,#479a47 129.5px,#7aa752 131.5px,#7aa752 132.5px,#69a34e 133.5px,#a8b35b 139.5px,#a2b15a 141.5px,#7da853 142.5px,#419552 143.5px,#328379 144.5px,#25677d 145.5px,#23607c 146.5px,#286d7d 147.5px,#276a7d 148.5px,#194579 150.5px,#184179 156.5px,#215c7c 160.5px,#184179 168.5px,#153778 180.5px,#1d4f7a 183.5px,#173d79 191.5px,#194579 199.5px,#1f577b 205.5px,#194579 208.5px,#1f557b 211.5px,#225e7c 215.5px,#1b497a 218.5px,#1e537b 225.5px,#25657d 232.5px,#215a7b 236.5px)"></div><div style="top:76px;height:1px;background:linear-gradient(90deg,#2b757e 0.5px,#276a7d 3.5px,#276b7d 6.5px,#286d7d 9.5px,#29707e 15.5px,#25677d 25.5px,#276a7d 35.5px,#308080 38.5px,#2d787f 43.5px,#24647c 45.5px,#296f7e 49.5px,#29707e 54.5px,#2a727e 59.5px,#26687d 66.5px,#276b7d 80.5px,#2e7b7f 92.5px,#328379 97.5px,#31827c 101.5px,#3b8d63 107.5px,#38896c 111.5px,#409357 117.5px,#3e915b 121.5px,#4a9b46 123.5px,#559e49 124.5px,#45994a 125.5px,#429650 128.5px,#5ba04b 131.5px,#76a652 132.5px,#7fa853 133.5px,#81a854 136.5px,#abb45c 141.5px,#abb45c 142.5px,#8fac56 143.5px,#4e9c47 144.5px,#38896c 145.5px,#2f7d7f 146.5px,#29707e 148.5px,#1a477a 150.5px,#194379 156.5px,#225e7c 160.5px,#173f79 168.5px,#153778 180.5px,#1c4d7a 182.5px,#184179 192.5px,#173f79 198.5px,#1c4d7a 201.5px,#1f577b 205.5px,#194579 208.5px,#1f557b 211.5px,#225e7c 215.5px,#1b497a 218.5px,#1e537b 225.5px,#25657d 232.5px,#215c7c 236.5px)"></div><div style="top:77px;height:1px;background:linear-gradient(90deg,#2d787f 0.5px,#25657d 2.5px,#2b737e 5.5px,#26687d 8.5px,#2e7b7f 11.5px,#296f7e 20.5px,#29707e 29.5px,#276a7d 35.5px,#308080 37.5px,#2d787f 43.5px,#25677d 45.5px,#2d7a7f 53.5px,#29707e 56.5px,#2b757e 61.5px,#276b7d 78.5px,#2b757e 85.5px,#29707e 88.5px,#2c777f 93.5px,#358673 97.5px,#31817d 100.5px,#338477 105.5px,#3d905d 107.5px,#388a6b 111.5px,#38896c 114.5px,#43974f 117.5px,#3c8f60 120.5px,#429651 123.5px,#4c9c47 124.5px,#559e49 125.5px,#44984c 126.5px,#419552 128.5px,#4c9c47 131.5px,#559e49 132.5px,#7aa752 133.5px,#8fac56 134.5px,#7da853 137.5px,#a3b25a 141.5px,#b7b75e 143.5px,#a2b15a 144.5px,#6da44f 145.5px,#409357 146.5px,#30817e 148.5px,#1c4d7a 150.5px,#194579 156.5px,#225e7c 160.5px,#173f79 168.5px,#153778 180.5px,#1d517b 183.5px,#173f79 191.5px,#184179 198.5px,#1f557b 204.5px,#1d517b 206.5px,#194579 207.5px,#1e537b 212.5px,#225e7c 215.5px,#1b4b7a 218.5px,#1f557b 225.5px,#25657d 232.5px,#225e7c 236.5px)"></div><div style="top:78px;height:1px;background:linear-gradient(90deg,#2d7a7f 0.5px,#24647c 2.5px,#23627c 3.5px,#2b757e 5.5px,#276a7d 8.5px,#30817e 11.5px,#2b757e 14.5px,#296f7e 24.5px,#2b737e 31.5px,#276b7d 35.5px,#31817d 37.5px,#2d7a7f 43.5px,#276a7d 45.5px,#2f7e7f 53.5px,#2b737e 56.5px,#2b757e 67.5px,#2a727e 78.5px,#2f7d7f 85.5px,#286d7d 87.5px,#2b757e 91.5px,#2d7a7f 94.5px,#368770 98.5px,#338378 101.5px,#328379 105.5px,#3f9258 108.5px,#388a6b 110.5px,#38896c 115.5px,#45994a 117.5px,#45994a 118.5px,#3c8e61 120.5px,#4c9c47 126.5px,#419552 128.5px,#4c9c47 131.5px,#479a47 132.5px,#5ba04b 133.5px,#8aab56 134.5px,#a0b15a 135.5px,#7aa752 137.5px,#8cab56 140.5px,#b7b75e 143.5px,#b0b55d 145.5px,#8cab56 146.5px,#599f4a 147.5px,#3c8e61 148.5px,#2d787f 149.5px,#215a7b 150.5px,#194579 155.5px,#23607c 160.5px,#173f79 168.5px,#153778 180.5px,#1d517b 183.5px,#194379 192.5px,#194379 198.5px,#1d517b 202.5px,#1d517b 206.5px,#194579 207.5px,#1e537b 212.5px,#225e7c 215.5px,#1b4b7a 218.5px,#1f557b 225.5px,#25677d 231.5px,#23627c 236.5px)"></div><div style="top:79px;height:1px;background:linear-gradient(90deg,#2d7a7f 0.5px,#24647c 3.5px,#2d7a7f 5.5px,#296f7e 8.5px,#30817e 11.5px,#296f7e 18.5px,#2b737e 33.5px,#286d7d 35.5px,#31827c 37.5px,#2f7e7f 43.5px,#286d7d 45.5px,#2f7e7f 53.5px,#2c777f 56.5px,#2d787f 66.5px,#2c777f 80.5px,#308080 85.5px,#2b757e 88.5px,#2b757e 93.5px,#348575 98.5px,#338477 105.5px,#3e915c 108.5px,#37896d 115.5px,#479a47 118.5px,#3e915c 120.5px,#44984c 126.5px,#4a9b46 131.5px,#459a49 132.5px,#509d48 133.5px,#94ae57 135.5px,#a0b15a 136.5px,#7ca753 138.5px,#9baf59 142.5px,#b8b55f 144.5px,#b9b260 146.5px,#a7b25b 147.5px,#74a551 148.5px,#3b8e62 149.5px,#2c777f 150.5px,#1f577b 152.5px,#1b497a 156.5px,#23627c 160.5px,#1b4b7a 166.5px,#173f79 168.5px,#153778 180.5px,#1e537b 183.5px,#194379 192.5px,#194379 198.5px,#1d517b 201.5px,#1d517b 206.5px,#194579 207.5px,#1e537b 211.5px,#225e7c 215.5px,#1b4b7a 218.5px,#1f557b 225.5px,#26687d 231.5px,#23607c 236.5px)"></div><div style="top:80px;height:1px;background:linear-gradient(90deg,#2c777f 0.5px,#25677d 2.5px,#2b757e 4.5px,#2f7e7f 5.5px,#2a727e 8.5px,#30817e 11.5px,#2b737e 17.5px,#2b757e 24.5px,#2d7a7f 33.5px,#296f7e 35.5px,#32827b 38.5px,#30817e 43.5px,#29707e 45.5px,#30817e 48.5px,#2f7e7f 53.5px,#2b737e 55.5px,#308080 63.5px,#2b757e 72.5px,#2d7a7f 80.5px,#2f7d7f 86.5px,#2d787f 93.5px,#338477 97.5px,#37896d 106.5px,#3c8f60 108.5px,#3c8e61 112.5px,#37896d 115.5px,#44984c 119.5px,#409456 122.5px,#3f925a 126.5px,#429650 127.5px,#539d48 128.5px,#459a49 132.5px,#62a14c 134.5px,#8fac56 136.5px,#9baf59 137.5px,#84a954 139.5px,#94ae57 142.5px,#b8b55f 145.5px,#bcac62 147.5px,#b7b75e 148.5px,#7aa752 149.5px,#3d905f 150.5px,#308080 151.5px,#215a7b 153.5px,#1b4b7a 155.5px,#24647c 160.5px,#1c4d7a 166.5px,#184179 168.5px,#153778 180.5px,#1e537b 183.5px,#194579 192.5px,#194379 198.5px,#1d517b 201.5px,#20597b 205.5px,#194579 207.5px,#1e537b 211.5px,#225e7c 215.5px,#1c4d7a 218.5px,#1f557b 225.5px,#26687d 232.5px,#23607c 236.5px)"></div><div style="top:81px;height:1px;background:linear-gradient(90deg,#2c777f 0.5px,#276b7d 3.5px,#308080 5.5px,#2b737e 8.5px,#30817e 11.5px,#2b757e 16.5px,#2a727e 23.5px,#2b757e 26.5px,#2f7d7f 33.5px,#29707e 35.5px,#32827b 38.5px,#31827c 43.5px,#2b737e 45.5px,#32827b 48.5px,#2f7e7f 53.5px,#2b757e 55.5px,#308080 61.5px,#2c777f 72.5px,#2d787f 77.5px,#30817e 86.5px,#2f7e7f 93.5px,#338477 98.5px,#338477 101.5px,#388a6b 106.5px,#3d905f 108.5px,#3a8d65 110.5px,#409357 112.5px,#38896c 115.5px,#44994b 121.5px,#3e915c 127.5px,#44984c 128.5px,#67a34e 129.5px,#64a24d 130.5px,#4e9c47 131.5px,#459a49 132.5px,#5ea04b 134.5px,#99af58 138.5px,#87aa55 141.5px,#b7b75e 146.5px,#bcac62 148.5px,#b5b65e 149.5px,#419552 151.5px,#348575 152.5px,#23607c 154.5px,#1d517b 156.5px,#25657d 160.5px,#1c4d7a 166.5px,#184179 168.5px,#153978 180.5px,#173f79 181.5px,#1d517b 182.5px,#194579 192.5px,#194579 198.5px,#1d517b 201.5px,#20597b 205.5px,#1a477a 208.5px,#1e537b 211.5px,#225e7c 215.5px,#1c4d7a 218.5px,#1f557b 225.5px,#276a7d 232.5px,#225e7c 236.5px)"></div><div style="top:82px;height:1px;background:linear-gradient(90deg,#2d787f 0.5px,#286d7d 3.5px,#308080 5.5px,#2b757e 8.5px,#30817e 11.5px,#2d787f 17.5px,#2b757e 23.5px,#2e7b7f 32.5px,#2e7b7f 34.5px,#2a727e 35.5px,#328379 38.5px,#30817e 40.5px,#358673 42.5px,#2b757e 45.5px,#30817e 48.5px,#308080 53.5px,#2c777f 55.5px,#308080 60.5px,#2e7b7f 74.5px,#32827b 93.5px,#358673 98.5px,#358673 102.5px,#3d905d 108.5px,#398c67 110.5px,#419554 113.5px,#398b68 115.5px,#419554 120.5px,#4c9c47 122.5px,#3e915c 127.5px,#3f9258 128.5px,#4e9c47 129.5px,#76a652 130.5px,#69a34e 131.5px,#4c9c47 132.5px,#4e9c47 133.5px,#72a551 135.5px,#74a551 137.5px,#93ad57 139.5px,#98af58 140.5px,#8aab56 142.5px,#b9b360 148.5px,#b5b65e 150.5px,#93ad57 151.5px,#599f4a 152.5px,#3b8d63 153.5px,#2f7e7f 154.5px,#25657d 155.5px,#215a7b 156.5px,#26687d 160.5px,#1d4f7a 166.5px,#194379 168.5px,#163b79 180.5px,#1f557b 183.5px,#194579 192.5px,#194579 198.5px,#1e537b 202.5px,#20597b 205.5px,#1a477a 208.5px,#1f557b 211.5px,#225e7c 215.5px,#1c4d7a 218.5px,#1f577b 225.5px,#276a7d 232.5px,#23627c 236.5px)"></div><div style="top:83px;height:1px;background:linear-gradient(90deg,#2d7a7f 0.5px,#29707e 3.5px,#2f7e7f 5.5px,#2b757e 8.5px,#2f7d7f 11.5px,#2d787f 16.5px,#2d787f 31.5px,#31827c 34.5px,#2e7b7f 36.5px,#368770 42.5px,#2b737e 45.5px,#2d7a7f 49.5px,#31817d 53.5px,#2d7a7f 56.5px,#308080 64.5px,#2d787f 73.5px,#308080 79.5px,#338477 88.5px,#348576 94.5px,#37896d 97.5px,#37896d 103.5px,#3f925a 108.5px,#3b8e62 111.5px,#429651 114.5px,#3b8e62 116.5px,#429651 121.5px,#579f4a 123.5px,#459a49 124.5px,#409357 128.5px,#429650 129.5px,#599f4a 130.5px,#78a652 131.5px,#599f4a 133.5px,#72a551 135.5px,#6fa450 138.5px,#98af58 141.5px,#8eac56 143.5px,#9db059 146.5px,#a8b35b 148.5px,#b9b360 150.5px,#b0b55d 152.5px,#81a854 153.5px,#419552 154.5px,#338378 155.5px,#296f7e 156.5px,#24647c 158.5px,#25677d 161.5px,#1d517b 166.5px,#194379 168.5px,#173d79 180.5px,#1f577b 183.5px,#1a477a 192.5px,#1b4b7a 199.5px,#20597b 205.5px,#1b497a 208.5px,#1f577b 211.5px,#20597b 216.5px,#1c4d7a 218.5px,#1e537b 221.5px,#1f577b 225.5px,#276a7d 231.5px,#25657d 236.5px)"></div><div style="top:84px;height:1px;background:linear-gradient(90deg,#2f7e7f 0.5px,#2c777f 3.5px,#308080 6.5px,#2f7d7f 9.5px,#30817e 17.5px,#2d787f 25.5px,#2d7a7f 31.5px,#358673 34.5px,#31817d 36.5px,#37896d 41.5px,#2c777f 45.5px,#2b757e 50.5px,#338378 52.5px,#2d787f 56.5px,#30817e 64.5px,#2e7b7f 73.5px,#328379 82.5px,#368771 91.5px,#31817d 93.5px,#3b8e62 96.5px,#37896d 102.5px,#409357 107.5px,#3b8e62 111.5px,#429650 115.5px,#3e915c 118.5px,#409456 121.5px,#45994a 122.5px,#5ba04b 123.5px,#64a24d 124.5px,#4c9c47 125.5px,#409455 128.5px,#459a49 130.5px,#78a652 132.5px,#7aa752 133.5px,#6fa450 134.5px,#6fa450 139.5px,#89ab55 141.5px,#9db059 142.5px,#9eb059 148.5px,#b5b65e 150.5px,#bdab62 152.5px,#b9b360 153.5px,#8fac56 154.5px,#479a47 155.5px,#38896c 156.5px,#2f7e7f 157.5px,#29707e 158.5px,#215c7c 165.5px,#194579 168.5px,#1a477a 175.5px,#173f79 180.5px,#20597b 183.5px,#1b497a 192.5px,#194579 198.5px,#1e537b 202.5px,#1e537b 206.5px,#1b497a 208.5px,#20597b 211.5px,#20597b 216.5px,#1c4d7a 218.5px,#1d517b 222.5px,#276a7d 231.5px,#25677d 236.5px)"></div><div style="top:85px;height:1px;background:linear-gradient(90deg,#308080 0.5px,#32827b 17.5px,#2e7b7f 25.5px,#31827c 31.5px,#38896c 39.5px,#2e7b7f 47.5px,#328379 51.5px,#348576 53.5px,#308080 58.5px,#338477 63.5px,#2f7d7f 73.5px,#348576 82.5px,#3a8c66 91.5px,#358672 94.5px,#398b68 99.5px,#388a6b 102.5px,#3f925a 105.5px,#409357 109.5px,#43974f 116.5px,#3f9258 119.5px,#4e9c47 123.5px,#6fa450 124.5px,#7da853 125.5px,#559e49 126.5px,#43974f 127.5px,#4e9c47 131.5px,#5ea04b 132.5px,#81a854 133.5px,#89ab55 134.5px,#6da44f 137.5px,#7ca753 141.5px,#a8b35b 143.5px,#adb45c 144.5px,#99af58 147.5px,#b7b65e 151.5px,#bcad62 153.5px,#b8b45f 154.5px,#98af58 155.5px,#62a14c 156.5px,#3f925a 157.5px,#358672 158.5px,#2f7d7f 160.5px,#24647c 164.5px,#20597b 166.5px,#1a477a 168.5px,#1b4b7a 176.5px,#184179 180.5px,#20597b 182.5px,#194579 198.5px,#1e537b 202.5px,#215a7b 205.5px,#1b4b7a 208.5px,#215a7b 211.5px,#23607c 215.5px,#1c4d7a 218.5px,#215a7b 226.5px,#276b7d 232.5px,#276a7d 236.5px)"></div><div style="top:86px;height:1px;background:linear-gradient(90deg,#31827c 0.5px,#338477 16.5px,#348575 19.5px,#2f7d7f 23.5px,#368771 32.5px,#358673 35.5px,#3c8f60 36.5px,#3e915b 37.5px,#3c8e61 39.5px,#358673 43.5px,#388a6a 44.5px,#30817e 47.5px,#368770 50.5px,#338378 55.5px,#338378 61.5px,#368770 63.5px,#338477 66.5px,#348576 71.5px,#358672 81.5px,#409357 90.5px,#3d905d 94.5px,#388a6a 95.5px,#398c67 102.5px,#429651 104.5px,#3e915c 106.5px,#43974f 108.5px,#419554 110.5px,#479a47 111.5px,#5ea04b 112.5px,#44984c 114.5px,#419552 120.5px,#599f4a 123.5px,#8aab56 125.5px,#81a854 126.5px,#5ba04b 127.5px,#4a9b46 128.5px,#62a14c 132.5px,#89ab55 134.5px,#93ad57 135.5px,#7aa752 137.5px,#7aa752 140.5px,#7fa853 141.5px,#adb45c 143.5px,#bab160 144.5px,#b2b65d 146.5px,#a2b15a 147.5px,#a8b35b 149.5px,#bab160 153.5px,#b7b65e 155.5px,#a5b25b 156.5px,#84a954 157.5px,#509d48 158.5px,#388a6a 160.5px,#2e7b7f 162.5px,#225e7c 166.5px,#1c4d7a 168.5px,#1d4f7a 176.5px,#194579 180.5px,#215c7c 183.5px,#1b4b7a 191.5px,#194579 198.5px,#1e537b 201.5px,#1f557b 206.5px,#1c4d7a 208.5px,#215c7c 211.5px,#23607c 215.5px,#1d4f7a 218.5px,#1f557b 221.5px,#20597b 225.5px,#296f7e 232.5px,#276b7d 236.5px)"></div><div style="top:87px;height:1px;background:linear-gradient(90deg,#348576 0.5px,#388a6b 3.5px,#358672 8.5px,#38896c 16.5px,#37896d 19.5px,#338378 24.5px,#398b68 35.5px,#45994a 36.5px,#4c9c47 37.5px,#3f9258 38.5px,#409456 41.5px,#3e915c 42.5px,#44984c 44.5px,#358673 46.5px,#348575 48.5px,#3a8c66 49.5px,#348575 60.5px,#3b8d63 63.5px,#37886e 66.5px,#388a6b 71.5px,#37886e 76.5px,#429651 90.5px,#409357 94.5px,#3b8e62 96.5px,#44994b 104.5px,#409357 106.5px,#479a47 109.5px,#4a9b46 110.5px,#69a34e 112.5px,#479a47 115.5px,#459a49 117.5px,#4c9c47 119.5px,#5ea04b 122.5px,#87aa55 126.5px,#8cab56 127.5px,#6fa450 129.5px,#81a854 134.5px,#aab35c 136.5px,#82a954 139.5px,#87aa55 141.5px,#afb55c 143.5px,#bcad62 147.5px,#b8b45f 151.5px,#b4b65d 157.5px,#84a954 159.5px,#43984d 161.5px,#30817e 165.5px,#215c7c 168.5px,#1c4d7a 178.5px,#1d4f7a 181.5px,#225e7c 182.5px,#1a477a 198.5px,#1e537b 202.5px,#1f577b 206.5px,#1c4d7a 208.5px,#215c7c 211.5px,#23607c 215.5px,#1d4f7a 218.5px,#1e537b 222.5px,#2a727e 232.5px,#296f7e 236.5px)"></div><div style="top:88px;height:1px;background:linear-gradient(90deg,#37896d 0.5px,#3c8f60 3.5px,#388a6b 8.5px,#3a8c66 16.5px,#3a8c66 19.5px,#37896d 24.5px,#3b8d63 29.5px,#3f925a 35.5px,#6da44f 36.5px,#7aa752 37.5px,#539d48 38.5px,#4c9c47 39.5px,#599f4a 40.5px,#74a551 41.5px,#69a34e 44.5px,#44984c 45.5px,#388a6b 46.5px,#368771 48.5px,#3e915b 49.5px,#38896c 56.5px,#398c67 61.5px,#3f925a 62.5px,#3a8c66 68.5px,#3f9258 70.5px,#388a6a 74.5px,#44994b 89.5px,#409456 97.5px,#459a49 98.5px,#7da853 101.5px,#74a551 102.5px,#559e49 103.5px,#429650 105.5px,#4e9c47 108.5px,#4e9c47 110.5px,#6ba44f 113.5px,#62a14c 115.5px,#509d48 116.5px,#4c9c47 117.5px,#559e49 118.5px,#78a652 119.5px,#7aa752 120.5px,#69a34e 122.5px,#69a34e 125.5px,#96ae58 128.5px,#7fa853 130.5px,#93ad57 134.5px,#b0b55d 136.5px,#bbaf61 138.5px,#8fac56 140.5px,#94ae57 141.5px,#b7b65e 143.5px,#b2b65d 145.5px,#bcad62 148.5px,#b0b55d 159.5px,#6fa450 163.5px,#559e49 164.5px,#3c8f60 166.5px,#32827b 168.5px,#1c4d7a 180.5px,#24647c 183.5px,#1d4f7a 191.5px,#1a477a 198.5px,#1f557b 201.5px,#1f577b 206.5px,#1d4f7a 208.5px,#225e7c 211.5px,#23607c 215.5px,#1d4f7a 218.5px,#215c7c 226.5px,#2a727e 232.5px,#286d7d 236.5px)"></div><div style="top:89px;height:1px;background:linear-gradient(90deg,#398b68 0.5px,#3e915b 3.5px,#3a8c66 8.5px,#3b8e62 12.5px,#3b8d63 16.5px,#3d905f 18.5px,#398b68 22.5px,#3d905d 34.5px,#419554 35.5px,#6ba44f 36.5px,#7aa752 37.5px,#62a14c 38.5px,#599f4a 39.5px,#67a34e 40.5px,#5ba04b 42.5px,#74a551 44.5px,#579f4a 45.5px,#3d905d 46.5px,#388a6a 47.5px,#3f9258 49.5px,#37896d 56.5px,#3c8f60 61.5px,#409455 63.5px,#3b8d63 66.5px,#3c8e61 69.5px,#409357 70.5px,#398c67 75.5px,#44984c 87.5px,#44984c 90.5px,#4e9c47 91.5px,#44994b 94.5px,#5ba04b 97.5px,#72a551 98.5px,#78a652 99.5px,#60a14c 102.5px,#479a47 103.5px,#479a47 106.5px,#5ea04b 109.5px,#559e49 110.5px,#6da44f 112.5px,#559e49 117.5px,#599f4a 118.5px,#7da853 119.5px,#8aab56 120.5px,#74a551 122.5px,#7ca753 125.5px,#6fa450 126.5px,#74a551 127.5px,#96ae58 129.5px,#8cab56 131.5px,#99af58 136.5px,#a3b25a 137.5px,#bbae61 138.5px,#b9b360 140.5px,#abb45c 141.5px,#b7b75e 146.5px,#bcad62 148.5px,#b7b75e 163.5px,#9eb059 165.5px,#479a47 169.5px,#30817e 175.5px,#215a7b 180.5px,#26687d 183.5px,#1d517b 190.5px,#1b497a 198.5px,#1f577b 202.5px,#20597b 206.5px,#1d4f7a 208.5px,#225e7c 211.5px,#23607c 215.5px,#1d4f7a 218.5px,#215c7c 226.5px,#29707e 230.5px,#286d7d 236.5px)"></div><div style="top:90px;height:1px;background:linear-gradient(90deg,#398b68 0.5px,#3f9258 2.5px,#3b8d63 7.5px,#3a8d65 13.5px,#3a8d65 16.5px,#3a8d65 19.5px,#388a6a 22.5px,#3c8f60 24.5px,#398b68 27.5px,#3c8e61 30.5px,#409456 32.5px,#3c8f60 34.5px,#429651 35.5px,#60a14c 36.5px,#6fa450 37.5px,#579f4a 40.5px,#44994b 41.5px,#43984d 42.5px,#7ca753 44.5px,#459a49 47.5px,#3e915c 51.5px,#3f925a 52.5px,#37886e 54.5px,#398b68 60.5px,#409455 62.5px,#3a8d65 67.5px,#3d905f 71.5px,#398b68 74.5px,#44994b 87.5px,#44994b 90.5px,#6da44f 91.5px,#43984d 93.5px,#44994b 94.5px,#78a652 95.5px,#99af58 96.5px,#8fac56 99.5px,#479a47 101.5px,#4c9c47 105.5px,#539d48 107.5px,#6ba44f 108.5px,#74a551 109.5px,#5ba04b 110.5px,#509d48 111.5px,#6ba44f 112.5px,#76a652 113.5px,#579f4a 117.5px,#62a14c 118.5px,#7da853 119.5px,#87aa55 120.5px,#7da853 121.5px,#7da853 124.5px,#84a954 125.5px,#6fa450 126.5px,#6fa450 128.5px,#9baf59 130.5px,#9baf59 133.5px,#8aab56 135.5px,#a0b15a 138.5px,#b8b45f 139.5px,#bcad62 141.5px,#b2b65d 142.5px,#a0b15a 143.5px,#b9b260 147.5px,#b9b360 157.5px,#b4b65d 161.5px,#b7b75e 166.5px,#8fac56 171.5px,#72a551 173.5px,#45994a 175.5px,#308080 180.5px,#2c777f 183.5px,#23627c 186.5px,#1f577b 192.5px,#1c4d7a 198.5px,#20597b 202.5px,#20597b 206.5px,#1d4f7a 208.5px,#225e7c 211.5px,#23607c 215.5px,#1d4f7a 218.5px,#1e537b 222.5px,#25657d 227.5px,#29707e 230.5px,#276b7d 236.5px)"></div><div style="top:91px;height:1px;background:linear-gradient(90deg,#37886e 0.5px,#3c8e61 3.5px,#388a6a 15.5px,#3c8f60 18.5px,#398b68 22.5px,#3a8d65 27.5px,#409455 31.5px,#3e915b 35.5px,#4a9b46 36.5px,#539d48 37.5px,#43984d 38.5px,#539d48 42.5px,#7aa752 44.5px,#5ea04b 45.5px,#3e915b 46.5px,#3c8e61 48.5px,#43984d 52.5px,#368771 54.5px,#3a8c66 61.5px,#3d905f 63.5px,#3a8c66 68.5px,#3e915b 70.5px,#388a6b 73.5px,#459a49 90.5px,#6ba44f 91.5px,#69a34e 92.5px,#4a9b46 94.5px,#599f4a 96.5px,#6ba44f 97.5px,#8cab56 98.5px,#94ae57 99.5px,#45994a 101.5px,#4a9b46 104.5px,#579f4a 107.5px,#67a34e 108.5px,#69a34e 109.5px,#559e49 110.5px,#4e9c47 111.5px,#72a551 113.5px,#74a551 114.5px,#599f4a 117.5px,#76a652 121.5px,#86aa55 122.5px,#7aa752 124.5px,#6da44f 128.5px,#72a551 129.5px,#84a954 130.5px,#a7b25b 131.5px,#b9b35f 132.5px,#b0b55d 133.5px,#99af58 134.5px,#8eac56 136.5px,#98af58 139.5px,#b8b45f 140.5px,#bcad62 142.5px,#9db059 144.5px,#a0b15a 146.5px,#b7b75e 147.5px,#bcad62 148.5px,#b5b65e 150.5px,#bcad62 152.5px,#b9b260 161.5px,#c0a565 162.5px,#debba7 163.5px,#e2c1b3 164.5px,#c0a565 165.5px,#b0b55d 166.5px,#b7b75e 172.5px,#7aa752 178.5px,#509d48 180.5px,#3f9258 182.5px,#31817d 185.5px,#215c7c 191.5px,#1d517b 198.5px,#23607c 205.5px,#1d517b 208.5px,#215c7c 211.5px,#23607c 215.5px,#1d4f7a 218.5px,#1e537b 222.5px,#25657d 227.5px,#29707e 230.5px,#296f7e 236.5px)"></div><div style="top:92px;height:1px;background:linear-gradient(90deg,#368771 0.5px,#3c8f60 3.5px,#37896d 10.5px,#3b8e62 16.5px,#3d905d 19.5px,#3b8e62 27.5px,#429651 28.5px,#44984c 29.5px,#409455 33.5px,#4a9b46 40.5px,#6ba44f 41.5px,#81a854 43.5px,#86aa55 44.5px,#5ba04b 45.5px,#3f925a 46.5px,#3c8f60 48.5px,#409357 50.5px,#479a47 51.5px,#559e49 52.5px,#409456 53.5px,#368770 54.5px,#37886e 56.5px,#3b8d63 58.5px,#398b68 61.5px,#3c8f60 69.5px,#409357 70.5px,#388a6a 73.5px,#43984d 89.5px,#4c9c47 90.5px,#62a14c 91.5px,#6ba44f 93.5px,#44984c 95.5px,#479a47 97.5px,#87aa55 98.5px,#9db059 99.5px,#7aa752 100.5px,#4a9b46 101.5px,#459a49 102.5px,#60a14c 105.5px,#67a34e 108.5px,#539d48 110.5px,#539d48 111.5px,#78a652 114.5px,#60a14c 117.5px,#76a652 121.5px,#8cab56 122.5px,#89ab55 124.5px,#72a551 127.5px,#6fa450 128.5px,#aab35c 131.5px,#b9b360 132.5px,#bbae61 133.5px,#b0b55d 134.5px,#98af58 135.5px,#96ae58 137.5px,#a2b15a 139.5px,#a5b25b 141.5px,#b9b360 142.5px,#bcad62 143.5px,#afb55c 144.5px,#9baf59 145.5px,#99af58 146.5px,#b0b55d 147.5px,#bcad62 148.5px,#b9b35f 149.5px,#a5b25b 150.5px,#bcad62 152.5px,#bbae61 161.5px,#bfa664 162.5px,#d0ad8a 163.5px,#d6b196 164.5px,#c3a46c 165.5px,#b0b55d 167.5px,#b2b65d 174.5px,#afb55c 177.5px,#b5b65e 179.5px,#93ad57 182.5px,#64a24d 184.5px,#479a47 185.5px,#2f7e7f 190.5px,#1f577b 198.5px,#24647c 205.5px,#1d517b 208.5px,#215c7c 211.5px,#23607c 215.5px,#1d4f7a 218.5px,#1f557b 221.5px,#20597b 225.5px,#296f7e 230.5px,#2b737e 236.5px)"></div><div style="top:93px;height:1px;background:linear-gradient(90deg,#368771 0.5px,#3d905f 3.5px,#398c67 7.5px,#3c8f60 17.5px,#3d905d 29.5px,#398c67 31.5px,#409456 33.5px,#43984d 35.5px,#86aa55 36.5px,#84a954 37.5px,#45994a 38.5px,#4e9c47 40.5px,#60a14c 41.5px,#62a14c 44.5px,#479a47 45.5px,#3f9258 48.5px,#43974f 52.5px,#358672 55.5px,#3c8e61 58.5px,#3c8f60 68.5px,#3d905f 71.5px,#3a8d65 75.5px,#3f925a 84.5px,#44994b 89.5px,#479a47 97.5px,#89ab55 98.5px,#98af58 99.5px,#5ea04b 102.5px,#539d48 103.5px,#60a14c 105.5px,#74a551 106.5px,#7ca753 107.5px,#5ba04b 109.5px,#5ba04b 111.5px,#7da853 114.5px,#6fa450 118.5px,#84a954 122.5px,#82a954 123.5px,#8fac56 124.5px,#8fac56 125.5px,#78a652 127.5px,#7aa752 128.5px,#9baf59 130.5px,#8cab56 132.5px,#adb45c 134.5px,#abb45c 135.5px,#9db059 136.5px,#a2b15a 137.5px,#b9b35f 138.5px,#bfa764 139.5px,#abb45c 142.5px,#bcad62 144.5px,#b0b55d 146.5px,#b9b260 148.5px,#b4b65d 149.5px,#a0b15a 150.5px,#bcad62 154.5px,#bdaa63 165.5px,#b9b260 169.5px,#bdaa63 170.5px,#caa87b 171.5px,#ceab85 172.5px,#bfa764 173.5px,#b5b65e 174.5px,#adb45c 177.5px,#bab061 181.5px,#b4b65d 184.5px,#72a551 188.5px,#44984c 190.5px,#30817e 195.5px,#25657d 198.5px,#25657d 205.5px,#1e537b 208.5px,#215c7c 211.5px,#23607c 215.5px,#1d4f7a 218.5px,#1f557b 221.5px,#20597b 225.5px,#296f7e 231.5px,#2c777f 236.5px)"></div><div style="top:94px;height:1px;background:linear-gradient(90deg,#398b68 0.5px,#3d905f 3.5px,#388a6a 11.5px,#409455 24.5px,#388a6a 30.5px,#429650 33.5px,#559e49 34.5px,#96ae58 35.5px,#bcad62 36.5px,#bcad62 37.5px,#94ae57 38.5px,#5ea04b 39.5px,#62a14c 40.5px,#479a47 42.5px,#409357 49.5px,#38896c 56.5px,#409456 60.5px,#3d905d 66.5px,#3c8f60 71.5px,#3c8e61 79.5px,#3e915b 84.5px,#44984c 85.5px,#579f4a 86.5px,#579f4a 88.5px,#479a47 92.5px,#4c9c47 95.5px,#6fa450 97.5px,#8cab56 98.5px,#98af58 99.5px,#8fac56 101.5px,#7aa752 102.5px,#4e9c47 103.5px,#579f4a 105.5px,#7aa752 106.5px,#89ab55 107.5px,#60a14c 110.5px,#60a14c 111.5px,#87aa55 114.5px,#76a652 120.5px,#86aa55 124.5px,#93ad57 126.5px,#8cab56 128.5px,#9eb059 130.5px,#8eac56 131.5px,#91ad57 133.5px,#b4b65d 136.5px,#b8b55f 137.5px,#c7a676 138.5px,#e8cbc2 139.5px,#ddb9a5 140.5px,#bcac62 141.5px,#b2b65d 142.5px,#bab061 147.5px,#a0b15a 150.5px,#b9b35f 155.5px,#bdab62 169.5px,#cba97e 170.5px,#f7ecec 171.5px,#fdfbfb 172.5px,#e4c5b9 173.5px,#bfa664 174.5px,#b8b55f 176.5px,#b5b65e 187.5px,#94ae57 191.5px,#76a652 193.5px,#44994b 195.5px,#30817e 199.5px,#276a7d 204.5px,#23627c 206.5px,#1f557b 208.5px,#215c7c 211.5px,#215a7b 216.5px,#1d4f7a 218.5px,#1f557b 221.5px,#20597b 225.5px,#29707e 231.5px,#2b737e 236.5px)"></div><div style="top:95px;height:1px;background:linear-gradient(90deg,#3b8e62 0.5px,#3c8f60 7.5px,#3b8d63 14.5px,#3f925a 22.5px,#419554 24.5px,#3a8d65 30.5px,#459a49 34.5px,#94ae57 36.5px,#99af58 37.5px,#74a551 38.5px,#67a34e 39.5px,#64a24d 41.5px,#44994b 43.5px,#479a47 49.5px,#358673 55.5px,#3f9258 62.5px,#3b8e62 75.5px,#3e915b 84.5px,#4c9c47 85.5px,#67a34e 86.5px,#6fa450 87.5px,#509d48 90.5px,#4a9b46 94.5px,#62a14c 95.5px,#98af58 96.5px,#96ae58 99.5px,#5ea04b 102.5px,#599f4a 104.5px,#6ba44f 106.5px,#7aa752 107.5px,#74a551 109.5px,#64a24d 111.5px,#78a652 113.5px,#8cab56 114.5px,#8aab56 115.5px,#7ca753 116.5px,#82a954 124.5px,#8fac56 126.5px,#a7b25b 127.5px,#aab35c 130.5px,#93ad57 132.5px,#9baf59 135.5px,#bbae61 137.5px,#cfac87 138.5px,#edd5d1 139.5px,#e4c5b9 140.5px,#bdaa63 141.5px,#a3b25a 142.5px,#a0b15a 144.5px,#bcad62 145.5px,#b0b55d 149.5px,#a3b25a 150.5px,#abb45c 155.5px,#bcad62 160.5px,#bab061 165.5px,#bea963 169.5px,#d1ae8c 170.5px,#fcf8f8 171.5px,#fdfbfb 172.5px,#eacfc8 173.5px,#c3a46c 174.5px,#bab061 176.5px,#b2b65d 186.5px,#b0b55d 189.5px,#b7b75e 193.5px,#7aa752 197.5px,#43984d 199.5px,#328379 202.5px,#25677d 206.5px,#1f577b 208.5px,#225e7c 211.5px,#23627c 215.5px,#1d4f7a 217.5px,#1f557b 221.5px,#20597b 225.5px,#2a727e 231.5px,#296f7e 236.5px)"></div><div style="top:96px;height:1px;background:linear-gradient(90deg,#3e915b 0.5px,#3b8d63 6.5px,#409455 8.5px,#3d905f 13.5px,#409455 16.5px,#3b8d63 17.5px,#419552 24.5px,#3d905f 28.5px,#409456 33.5px,#429650 35.5px,#4a9b46 38.5px,#62a14c 41.5px,#599f4a 42.5px,#44994b 43.5px,#4a9b46 45.5px,#6ba44f 46.5px,#76a652 47.5px,#60a14c 49.5px,#4a9b46 50.5px,#44984c 52.5px,#37896d 54.5px,#37886e 56.5px,#3c8f60 57.5px,#3b8d63 61.5px,#3f9258 63.5px,#3c8e61 78.5px,#429651 81.5px,#3e915c 83.5px,#3f925a 84.5px,#559e49 85.5px,#78a652 87.5px,#5ea04b 88.5px,#5ea04b 89.5px,#8aab56 91.5px,#4a9b46 93.5px,#509d48 94.5px,#76a652 95.5px,#b8b45f 96.5px,#b2b65d 97.5px,#91ad57 98.5px,#87aa55 99.5px,#69a34e 100.5px,#67a34e 106.5px,#89ab55 109.5px,#6ba44f 111.5px,#74a551 113.5px,#8eac56 114.5px,#87aa55 115.5px,#6da44f 116.5px,#6ba44f 117.5px,#93ad57 119.5px,#8aab56 121.5px,#7ca753 123.5px,#84a954 126.5px,#a5b25b 127.5px,#b7b75e 128.5px,#b5b65e 130.5px,#9baf59 132.5px,#98af58 135.5px,#9eb059 136.5px,#b4b65d 137.5px,#c0a565 138.5px,#d0ad8a 139.5px,#caa87b 140.5px,#b8b55f 141.5px,#a3b25a 142.5px,#a5b25b 144.5px,#bcad62 145.5px,#b9b35f 149.5px,#a5b25b 151.5px,#b2b65d 157.5px,#a3b25a 159.5px,#b5b65e 160.5px,#bbaf61 162.5px,#b8b55f 163.5px,#bcad62 167.5px,#bdab62 169.5px,#c3a46c 170.5px,#d9b59d 171.5px,#e1bfb0 172.5px,#bfa664 174.5px,#b4b65d 187.5px,#b2b65d 190.5px,#b4b65d 196.5px,#aab35c 198.5px,#87aa55 200.5px,#44994b 202.5px,#328379 205.5px,#225e7c 208.5px,#23607c 211.5px,#23627c 215.5px,#1d517b 218.5px,#1f557b 221.5px,#20597b 225.5px,#2b737e 231.5px,#276a7d 236.5px)"></div><div style="top:97px;height:1px;background:linear-gradient(90deg,#3a8c66 0.5px,#3d905f 3.5px,#3a8d65 6.5px,#3d905d 16.5px,#3c8e61 19.5px,#3f925a 22.5px,#409357 29.5px,#3d905d 31.5px,#4a9b46 41.5px,#44984c 42.5px,#4e9c47 43.5px,#8fac56 44.5px,#84a954 45.5px,#64a24d 46.5px,#4c9c47 48.5px,#409456 50.5px,#44984c 52.5px,#37896d 54.5px,#368771 56.5px,#3b8e62 57.5px,#3a8d65 61.5px,#3c8f60 68.5px,#3f9258 84.5px,#4e9c47 85.5px,#6fa450 87.5px,#4c9c47 90.5px,#5ba04b 95.5px,#78a652 96.5px,#7aa752 99.5px,#5ea04b 105.5px,#78a652 108.5px,#86aa55 113.5px,#8eac56 114.5px,#6fa450 117.5px,#93ad57 120.5px,#7da853 122.5px,#86aa55 126.5px,#b9b35f 129.5px,#bbae61 130.5px,#adb45c 131.5px,#93ad57 132.5px,#9db059 137.5px,#bab160 139.5px,#bfa664 140.5px,#bdab62 141.5px,#9baf59 142.5px,#98af58 144.5px,#b8b45f 145.5px,#bbae61 146.5px,#b7b75e 150.5px,#a2b15a 154.5px,#9eb059 155.5px,#b8b45f 158.5px,#b8b45f 161.5px,#aab35c 163.5px,#bab061 165.5px,#bfa764 173.5px,#b5b65e 194.5px,#afb55c 200.5px,#96ae58 202.5px,#5ba04b 204.5px,#419552 205.5px,#2f7e7f 207.5px,#296f7e 208.5px,#225e7c 213.5px,#24647c 215.5px,#1d517b 217.5px,#1f577b 221.5px,#1f557b 224.5px,#2b737e 231.5px,#286d7d 236.5px)"></div><div style="top:98px;height:1px;background:linear-gradient(90deg,#3b8d63 0.5px,#3f9258 3.5px,#3a8c66 6.5px,#3e915c 14.5px,#3b8d63 17.5px,#419552 21.5px,#3b8e62 23.5px,#43974f 27.5px,#409357 34.5px,#45994a 41.5px,#43984d 42.5px,#579f4a 43.5px,#bcad62 44.5px,#b2b65d 45.5px,#599f4a 46.5px,#479a47 47.5px,#409455 52.5px,#358673 55.5px,#3b8e62 57.5px,#3c8f60 63.5px,#3d905f 67.5px,#3b8e62 70.5px,#409456 73.5px,#3d905f 76.5px,#3e915b 83.5px,#44994b 85.5px,#5ea04b 87.5px,#4a9b46 89.5px,#599f4a 93.5px,#6ba44f 96.5px,#78a652 101.5px,#64a24d 105.5px,#74a551 107.5px,#72a551 109.5px,#78a652 110.5px,#99af58 112.5px,#84a954 115.5px,#8eac56 117.5px,#7aa752 119.5px,#86aa55 121.5px,#7aa752 123.5px,#8fac56 125.5px,#98af58 128.5px,#bbaf61 130.5px,#b8b55f 131.5px,#a2b15a 132.5px,#98af58 134.5px,#98af58 138.5px,#a0b15a 139.5px,#bcac62 140.5px,#b8b55f 142.5px,#a0b15a 143.5px,#98af58 144.5px,#afb55c 145.5px,#b8b55f 151.5px,#a2b15a 154.5px,#bcad62 156.5px,#bbae61 160.5px,#a7b25b 161.5px,#a3b25a 163.5px,#b9b35f 170.5px,#bcad62 183.5px,#b7b75e 196.5px,#a5b25b 200.5px,#b2b65d 203.5px,#aab35c 204.5px,#93ad57 205.5px,#419554 207.5px,#31827c 209.5px,#25657d 212.5px,#225e7c 216.5px,#1e537b 218.5px,#215a7b 225.5px,#2b737e 231.5px,#29707e 236.5px)"></div><div style="top:99px;height:1px;background:linear-gradient(90deg,#3b8e62 0.5px,#3c8f60 1.5px,#43984d 2.5px,#44984c 3.5px,#3a8d65 5.5px,#3a8c66 16.5px,#3c8e61 19.5px,#409357 21.5px,#3a8d65 23.5px,#419552 29.5px,#3c8f60 31.5px,#4a9b46 38.5px,#67a34e 40.5px,#559e49 41.5px,#429651 42.5px,#74a551 43.5px,#b9b260 44.5px,#9baf59 45.5px,#459a49 46.5px,#409455 51.5px,#368771 55.5px,#3a8d65 58.5px,#3d905f 63.5px,#3d905d 66.5px,#398c67 69.5px,#3e915b 73.5px,#3b8e62 77.5px,#3d905d 83.5px,#459a49 85.5px,#5ba04b 87.5px,#45994a 89.5px,#539d48 92.5px,#5ba04b 93.5px,#76a652 94.5px,#7da853 97.5px,#69a34e 99.5px,#6ba44f 100.5px,#7aa752 101.5px,#7ca753 102.5px,#8fac56 104.5px,#5ea04b 106.5px,#72a551 110.5px,#89ab55 111.5px,#8fac56 112.5px,#74a551 114.5px,#6ba44f 118.5px,#87aa55 120.5px,#7da853 123.5px,#94ae57 128.5px,#b8b55f 130.5px,#b5b65e 133.5px,#98af58 135.5px,#93ad57 138.5px,#b8b45f 140.5px,#b9b260 143.5px,#a5b25b 145.5px,#abb45c 148.5px,#bbae61 150.5px,#b2b65d 155.5px,#bcad62 158.5px,#b9b360 160.5px,#9eb059 161.5px,#a2b15a 164.5px,#b2b65d 170.5px,#bcad62 172.5px,#b7b65e 199.5px,#aab35c 201.5px,#bab061 204.5px,#b4b65d 206.5px,#6ba44f 208.5px,#429651 209.5px,#31817d 211.5px,#26687d 213.5px,#23607c 216.5px,#1f557b 218.5px,#1f557b 222.5px,#276b7d 228.5px,#2c777f 235.5px,#2b737e 236.5px)"></div><div style="top:100px;height:1px;background:linear-gradient(90deg,#3b8e62 0.5px,#43984d 2.5px,#409357 4.5px,#398b68 5.5px,#3a8d65 16.5px,#388a6a 18.5px,#3d905d 21.5px,#3b8d63 24.5px,#429651 29.5px,#3b8e62 30.5px,#3f925a 32.5px,#539d48 33.5px,#78a652 34.5px,#4a9b46 36.5px,#45994a 40.5px,#579f4a 41.5px,#5ba04b 42.5px,#adb45c 44.5px,#82a954 45.5px,#44984c 46.5px,#3f9258 52.5px,#37886e 55.5px,#3e915b 65.5px,#3b8d63 69.5px,#3d905d 73.5px,#3a8c66 75.5px,#3f925a 84.5px,#44994b 85.5px,#599f4a 86.5px,#5ea04b 87.5px,#459a49 89.5px,#479a47 91.5px,#64a24d 93.5px,#69a34e 94.5px,#539d48 95.5px,#6fa450 100.5px,#8cab56 102.5px,#a7b25b 103.5px,#8cab56 105.5px,#64a24d 106.5px,#74a551 110.5px,#8aab56 111.5px,#8fac56 112.5px,#6da44f 114.5px,#60a14c 118.5px,#86aa55 119.5px,#94ae57 120.5px,#7da853 122.5px,#8fac56 124.5px,#8cab56 127.5px,#91ad57 128.5px,#b0b55d 130.5px,#bcad62 133.5px,#b9b360 134.5px,#a3b25a 135.5px,#a3b25a 136.5px,#b7b75e 137.5px,#b9b35f 138.5px,#99af58 140.5px,#9baf59 142.5px,#a7b25b 143.5px,#a3b25a 144.5px,#8aab56 146.5px,#8fac56 148.5px,#9db059 149.5px,#bbaf61 150.5px,#bbaf61 152.5px,#afb55c 153.5px,#bcad62 159.5px,#a2b15a 160.5px,#98af58 162.5px,#b8b45f 169.5px,#bcad62 176.5px,#b9b35f 180.5px,#b9b260 200.5px,#b9b360 207.5px,#b0b55d 208.5px,#94ae57 209.5px,#67a34e 210.5px,#409357 211.5px,#358673 212.5px,#2d787f 213.5px,#1f577b 218.5px,#20597b 221.5px,#215a7b 225.5px,#2b737e 231.5px,#2b737e 236.5px)"></div><div style="top:101px;height:1px;background:linear-gradient(90deg,#3a8d65 0.5px,#419554 3.5px,#388a6a 8.5px,#3a8c66 12.5px,#38896c 18.5px,#3a8c66 21.5px,#3b8e62 27.5px,#44984c 29.5px,#409357 31.5px,#429650 33.5px,#45994a 38.5px,#5ba04b 39.5px,#459a49 40.5px,#3f9258 42.5px,#429650 43.5px,#579f4a 44.5px,#429651 47.5px,#3d905f 53.5px,#38896c 56.5px,#3e915c 68.5px,#3c8e61 72.5px,#398b68 76.5px,#3f925a 84.5px,#45994a 86.5px,#579f4a 88.5px,#44994b 90.5px,#599f4a 93.5px,#539d48 96.5px,#5ea04b 98.5px,#72a551 100.5px,#89ab55 101.5px,#8eac56 104.5px,#67a34e 106.5px,#78a652 107.5px,#84a954 111.5px,#6ba44f 114.5px,#67a34e 118.5px,#72a551 122.5px,#96ae58 125.5px,#82a954 128.5px,#adb45c 130.5px,#99af58 132.5px,#a3b25a 135.5px,#9baf59 136.5px,#abb45c 138.5px,#9eb059 141.5px,#8eac56 142.5px,#94ae57 150.5px,#a0b15a 152.5px,#a2b15a 154.5px,#bbaf61 156.5px,#bcad62 159.5px,#a5b25b 161.5px,#a7b25b 162.5px,#b7b65e 163.5px,#bcad62 175.5px,#b4b65d 183.5px,#bcad62 192.5px,#b9b35f 209.5px,#adb45c 210.5px,#87aa55 211.5px,#479a47 212.5px,#388a6a 213.5px,#30817e 214.5px,#215c7c 217.5px,#20597b 224.5px,#2b737e 231.5px,#2a727e 236.5px)"></div><div style="top:102px;height:1px;background:linear-gradient(90deg,#3a8c66 0.5px,#3e915b 5.5px,#368770 10.5px,#3c8f60 13.5px,#37896d 18.5px,#3b8d63 26.5px,#3a8d65 27.5px,#43984d 28.5px,#4c9c47 32.5px,#3f9258 33.5px,#419552 37.5px,#4a9b46 38.5px,#8aab56 39.5px,#599f4a 40.5px,#43984d 41.5px,#45994a 43.5px,#559e49 45.5px,#429650 48.5px,#398b68 56.5px,#3a8c66 62.5px,#3f9258 66.5px,#43974f 68.5px,#3c8e61 70.5px,#388a6b 76.5px,#419552 78.5px,#3e915b 83.5px,#459a49 87.5px,#599f4a 88.5px,#6ba44f 92.5px,#509d48 94.5px,#559e49 95.5px,#67a34e 96.5px,#5ba04b 98.5px,#8aab56 101.5px,#5ba04b 104.5px,#599f4a 105.5px,#64a24d 106.5px,#94ae57 108.5px,#9db059 109.5px,#6fa450 112.5px,#81a854 115.5px,#99af58 117.5px,#5ea04b 119.5px,#60a14c 122.5px,#8fac56 125.5px,#84a954 128.5px,#abb45c 130.5px,#82a954 132.5px,#8fac56 135.5px,#9baf59 137.5px,#a2b15a 139.5px,#b0b55d 140.5px,#adb45c 141.5px,#91ad57 142.5px,#87aa55 145.5px,#99af58 147.5px,#91ad57 151.5px,#94ae57 154.5px,#b9b260 156.5px,#b5b65e 159.5px,#a0b15a 160.5px,#a0b15a 161.5px,#b0b55d 162.5px,#bcad62 164.5px,#bab160 175.5px,#b8b45f 184.5px,#bcad62 187.5px,#b8b55f 189.5px,#bcad62 197.5px,#b7b75e 211.5px,#94ae57 212.5px,#599f4a 213.5px,#3b8e62 214.5px,#328379 215.5px,#23627c 217.5px,#20597b 224.5px,#2b757e 231.5px,#296f7e 235.5px,#2a727e 236.5px)"></div><div style="top:103px;height:1px;background:linear-gradient(90deg,#3a8c66 0.5px,#388a6a 8.5px,#37896d 11.5px,#398b68 23.5px,#3b8e62 27.5px,#479a47 28.5px,#4e9c47 29.5px,#3f925a 31.5px,#409456 41.5px,#3d905d 43.5px,#419552 45.5px,#72a551 46.5px,#87aa55 47.5px,#4a9b46 50.5px,#3f925a 52.5px,#3b8e62 56.5px,#3c8e61 58.5px,#398b68 61.5px,#419554 68.5px,#3b8d63 72.5px,#388a6b 76.5px,#429651 80.5px,#43984d 86.5px,#45994a 89.5px,#479a47 91.5px,#6fa450 93.5px,#72a551 94.5px,#599f4a 96.5px,#64a24d 97.5px,#7da853 98.5px,#8fac56 100.5px,#76a652 103.5px,#64a24d 105.5px,#67a34e 106.5px,#7fa853 108.5px,#7fa853 109.5px,#5ba04b 112.5px,#62a14c 115.5px,#7da853 117.5px,#78a652 118.5px,#5ea04b 120.5px,#5ba04b 122.5px,#8fac56 128.5px,#b2b65d 130.5px,#87aa55 132.5px,#82a954 134.5px,#93ad57 135.5px,#9db059 139.5px,#b0b55d 140.5px,#b2b65d 141.5px,#8aab56 145.5px,#99af58 151.5px,#98af58 154.5px,#bab061 156.5px,#b0b55d 158.5px,#a2b15a 159.5px,#a7b25b 161.5px,#b9b35f 165.5px,#b9b260 176.5px,#b0b55d 184.5px,#bcad62 188.5px,#b9b35f 194.5px,#b9b260 207.5px,#b4b65d 212.5px,#98af58 213.5px,#62a14c 214.5px,#3e915b 215.5px,#328379 216.5px,#23627c 218.5px,#215a7b 224.5px,#2b737e 231.5px,#2a727e 236.5px)"></div><div style="top:104px;height:1px;background:linear-gradient(90deg,#3b8e62 0.5px,#3d905f 3.5px,#37896d 5.5px,#3c8f60 8.5px,#37896d 10.5px,#38896c 18.5px,#3b8d63 21.5px,#3a8c66 24.5px,#3e915c 27.5px,#4e9c47 28.5px,#579f4a 29.5px,#429651 30.5px,#3c8f60 31.5px,#44994b 33.5px,#539d48 34.5px,#409456 35.5px,#419552 40.5px,#81a854 41.5px,#94ae57 42.5px,#4a9b46 43.5px,#419554 44.5px,#599f4a 45.5px,#b5b65e 46.5px,#a0b15a 48.5px,#6da44f 50.5px,#45994a 51.5px,#3a8c66 55.5px,#409455 57.5px,#3b8e62 62.5px,#409455 66.5px,#398b68 76.5px,#409455 79.5px,#4a9b46 80.5px,#44984c 84.5px,#479a47 87.5px,#429650 90.5px,#45994a 91.5px,#5ba04b 92.5px,#91ad57 93.5px,#99af58 94.5px,#579f4a 96.5px,#6da44f 97.5px,#abb45c 98.5px,#b8b55f 99.5px,#aab35c 100.5px,#8fac56 101.5px,#6da44f 106.5px,#72a551 110.5px,#5ea04b 113.5px,#579f4a 117.5px,#7ca753 119.5px,#7aa752 120.5px,#599f4a 121.5px,#5ba04b 123.5px,#7fa853 127.5px,#8fac56 128.5px,#afb55c 129.5px,#b9b35f 130.5px,#91ad57 131.5px,#82a954 132.5px,#89ab55 134.5px,#b8b45f 135.5px,#a8b35b 136.5px,#87aa55 137.5px,#9db059 139.5px,#b7b75e 140.5px,#8cab56 147.5px,#91ad57 149.5px,#a7b25b 151.5px,#98af58 153.5px,#96ae58 154.5px,#adb45c 155.5px,#bbae61 156.5px,#b8b45f 157.5px,#99af58 159.5px,#bab061 161.5px,#b8b45f 162.5px,#99af58 163.5px,#b4b65d 170.5px,#bcad62 172.5px,#b9b260 179.5px,#a8b35b 184.5px,#bcad62 187.5px,#b8b55f 191.5px,#b9b260 193.5px,#b9b35f 197.5px,#b9b360 205.5px,#afb55c 213.5px,#99af58 214.5px,#6ba44f 215.5px,#3f925a 216.5px,#32827b 217.5px,#25677d 219.5px,#215a7b 224.5px,#2a727e 230.5px,#2a727e 236.5px)"></div><div style="top:105px;height:1px;background:linear-gradient(90deg,#3c8f60 0.5px,#398b68 4.5px,#38896c 6.5px,#3c8e61 8.5px,#358672 10.5px,#37896d 17.5px,#398b68 22.5px,#3f925a 27.5px,#4c9c47 28.5px,#579f4a 29.5px,#419554 30.5px,#419552 32.5px,#44984c 34.5px,#7fa853 36.5px,#7aa752 37.5px,#419552 38.5px,#429650 40.5px,#86aa55 41.5px,#8aab56 42.5px,#5ba04b 43.5px,#429650 44.5px,#62a14c 45.5px,#a5b25b 46.5px,#abb45c 47.5px,#8cab56 48.5px,#5ba04b 49.5px,#459a49 50.5px,#3e915b 51.5px,#388a6a 55.5px,#3e915c 57.5px,#3d905d 63.5px,#409455 66.5px,#3b8d63 71.5px,#3a8d65 77.5px,#45994a 81.5px,#419554 86.5px,#45994a 91.5px,#62a14c 92.5px,#9db059 93.5px,#a5b25b 94.5px,#62a14c 95.5px,#5ba04b 97.5px,#82a954 99.5px,#5ea04b 102.5px,#62a14c 106.5px,#6ba44f 108.5px,#7aa752 109.5px,#62a14c 113.5px,#69a34e 119.5px,#6da44f 120.5px,#559e49 122.5px,#69a34e 126.5px,#a7b25b 130.5px,#7fa853 132.5px,#7da853 134.5px,#91ad57 135.5px,#8cab56 138.5px,#9db059 141.5px,#87aa55 146.5px,#93ad57 152.5px,#9eb059 154.5px,#bbae61 155.5px,#bcad62 157.5px,#99af58 159.5px,#a2b15a 162.5px,#96ae58 163.5px,#b8b55f 170.5px,#bfa764 171.5px,#b4b65d 174.5px,#bcad62 177.5px,#afb55c 185.5px,#aab35c 186.5px,#b9b35f 187.5px,#b7b65e 191.5px,#b8b55f 194.5px,#bcad62 205.5px,#b9b35f 207.5px,#b0b55d 212.5px,#adb45c 214.5px,#a0b15a 215.5px,#78a652 216.5px,#409357 217.5px,#328379 218.5px,#23627c 221.5px,#225e7c 225.5px,#2a727e 230.5px,#2a727e 236.5px)"></div><div style="top:106px;height:1px;background:linear-gradient(90deg,#3c8f60 0.5px,#388a6a 6.5px,#3b8d63 8.5px,#358673 10.5px,#37886e 17.5px,#3d905d 24.5px,#3a8d65 31.5px,#409357 34.5px,#87aa55 35.5px,#b7b75e 36.5px,#b8b55f 38.5px,#96ae58 39.5px,#87aa55 41.5px,#69a34e 43.5px,#74a551 46.5px,#6da44f 47.5px,#459a49 48.5px,#3e915c 49.5px,#3d905d 53.5px,#388a6b 56.5px,#409357 66.5px,#3b8d63 71.5px,#3a8d65 77.5px,#429651 81.5px,#479a47 91.5px,#62a14c 92.5px,#9db059 93.5px,#a3b25a 94.5px,#599f4a 95.5px,#599f4a 99.5px,#69a34e 107.5px,#94ae57 109.5px,#8fac56 110.5px,#6ba44f 111.5px,#62a14c 112.5px,#6ba44f 113.5px,#84a954 114.5px,#74a551 117.5px,#579f4a 119.5px,#6da44f 126.5px,#8aab56 130.5px,#93ad57 132.5px,#81a854 134.5px,#87aa55 140.5px,#99af58 142.5px,#89ab55 145.5px,#93ad57 148.5px,#84a954 152.5px,#99af58 154.5px,#bcad62 155.5px,#bcad62 157.5px,#afb55c 158.5px,#82a954 160.5px,#a3b25a 165.5px,#a7b25b 167.5px,#b7b65e 168.5px,#c0a465 169.5px,#caa87b 170.5px,#bea963 171.5px,#aab35c 173.5px,#b7b75e 175.5px,#bcad62 177.5px,#9eb059 179.5px,#a7b25b 181.5px,#b8b55f 182.5px,#bbae61 187.5px,#bbae61 198.5px,#adb45c 201.5px,#bcad62 203.5px,#b8b45f 212.5px,#b4b65d 214.5px,#b5b65e 216.5px,#86aa55 217.5px,#419552 218.5px,#338477 219.5px,#225e7c 222.5px,#23627c 226.5px,#29707e 231.5px,#2b737e 236.5px)"></div><div style="top:107px;height:1px;background:linear-gradient(90deg,#3b8d63 0.5px,#398b68 6.5px,#3d905f 8.5px,#348575 10.5px,#388a6a 15.5px,#368770 19.5px,#3a8d65 22.5px,#398c67 29.5px,#3c8e61 32.5px,#45994a 35.5px,#579f4a 37.5px,#539d48 39.5px,#9baf59 41.5px,#98af58 42.5px,#4c9c47 44.5px,#64a24d 45.5px,#94ae57 46.5px,#99af58 47.5px,#509d48 48.5px,#3d905f 49.5px,#3e915c 53.5px,#388a6a 56.5px,#3f925a 61.5px,#3a8c66 70.5px,#3a8d65 74.5px,#3c8f60 78.5px,#419552 80.5px,#429651 84.5px,#4a9b46 89.5px,#76a652 91.5px,#8cab56 93.5px,#8aab56 94.5px,#599f4a 95.5px,#559e49 98.5px,#62a14c 101.5px,#62a14c 106.5px,#7fa853 109.5px,#60a14c 112.5px,#78a652 114.5px,#69a34e 118.5px,#599f4a 119.5px,#60a14c 121.5px,#6fa450 122.5px,#7ca753 127.5px,#8eac56 131.5px,#a0b15a 132.5px,#a2b15a 133.5px,#8aab56 134.5px,#8cab56 136.5px,#b5b65e 138.5px,#8aab56 141.5px,#99af58 143.5px,#96ae58 145.5px,#9db059 147.5px,#82a954 152.5px,#8cab56 154.5px,#b9b260 155.5px,#bcad62 157.5px,#9db059 158.5px,#98af58 161.5px,#abb45c 167.5px,#bdaa63 168.5px,#e3c3b6 169.5px,#f4e4e3 170.5px,#d3af8f 171.5px,#b9b360 172.5px,#abb45c 173.5px,#b4b65d 175.5px,#a3b25a 180.5px,#aab35c 183.5px,#b8b55f 185.5px,#bcad62 194.5px,#b7b65e 196.5px,#b2b65d 200.5px,#bcad62 203.5px,#b0b55d 205.5px,#bcad62 207.5px,#b8b45f 214.5px,#bfa664 216.5px,#bbae61 217.5px,#8aab56 218.5px,#419554 219.5px,#338477 220.5px,#23627c 222.5px,#23627c 226.5px,#29707e 232.5px,#2d787f 236.5px)"></div><div style="top:108px;height:1px;background:linear-gradient(90deg,#3b8e62 0.5px,#398c67 6.5px,#3d905f 8.5px,#38896c 11.5px,#3a8c66 16.5px,#368770 19.5px,#3c8e61 21.5px,#388a6a 24.5px,#3d905f 27.5px,#398b68 30.5px,#45994a 34.5px,#409456 35.5px,#459a49 39.5px,#5ba04b 40.5px,#b9b35f 41.5px,#bcad62 42.5px,#82a954 43.5px,#5ea04b 44.5px,#64a24d 45.5px,#bab160 46.5px,#a8b35b 47.5px,#69a34e 48.5px,#3f9258 49.5px,#3d905d 55.5px,#388a6a 57.5px,#419552 60.5px,#3a8c66 66.5px,#3b8d63 71.5px,#3b8d63 74.5px,#3f925a 79.5px,#44984c 88.5px,#559e49 89.5px,#86aa55 90.5px,#99af58 91.5px,#9baf59 92.5px,#7fa853 93.5px,#76a652 94.5px,#599f4a 95.5px,#5ea04b 98.5px,#6da44f 100.5px,#579f4a 103.5px,#7aa752 104.5px,#74a551 105.5px,#82a954 107.5px,#5ba04b 110.5px,#72a551 112.5px,#69a34e 116.5px,#5ba04b 120.5px,#78a652 122.5px,#7aa752 124.5px,#82a954 126.5px,#9db059 129.5px,#99af58 131.5px,#abb45c 132.5px,#afb55c 133.5px,#94ae57 134.5px,#94ae57 135.5px,#a3b25a 136.5px,#c6a574 137.5px,#e8cbc2 138.5px,#d9b59d 139.5px,#bfa764 140.5px,#aab35c 141.5px,#87aa55 142.5px,#98af58 144.5px,#b4b65d 146.5px,#afb55c 148.5px,#82a954 150.5px,#87aa55 154.5px,#a8b35b 155.5px,#b9b360 156.5px,#8aab56 158.5px,#b0b55d 165.5px,#c3a46c 168.5px,#ecd3ce 169.5px,#fcf8f8 170.5px,#d9b59d 171.5px,#bbae61 172.5px,#abb45c 174.5px,#b0b55d 175.5px,#9baf59 177.5px,#9eb059 178.5px,#bcad62 179.5px,#b7b65e 181.5px,#94ae57 183.5px,#9baf59 187.5px,#bcad62 189.5px,#b9b360 199.5px,#b7b65e 200.5px,#bcad62 203.5px,#bcad62 215.5px,#c1a367 217.5px,#b9b260 218.5px,#81a854 219.5px,#3f925a 220.5px,#31817d 221.5px,#276a7d 222.5px,#225e7c 225.5px,#29707e 232.5px,#2a727e 235.5px,#2e7b7f 236.5px)"></div><div style="top:109px;height:1px;background:linear-gradient(90deg,#3b8e62 0.5px,#3b8d63 8.5px,#348576 10.5px,#388a6b 13.5px,#37896d 20.5px,#3a8c66 29.5px,#38896c 30.5px,#3d905f 33.5px,#44984c 39.5px,#509d48 40.5px,#9eb059 41.5px,#aab35c 42.5px,#72a551 44.5px,#81a854 45.5px,#a2b15a 46.5px,#a3b25a 47.5px,#509d48 49.5px,#3e915b 51.5px,#388a6a 58.5px,#3f925a 61.5px,#3a8d65 70.5px,#3d905d 73.5px,#3a8c66 77.5px,#409456 81.5px,#43984d 86.5px,#459a49 88.5px,#72a551 91.5px,#6ba44f 92.5px,#579f4a 93.5px,#5ba04b 94.5px,#8aab56 96.5px,#7fa853 97.5px,#62a14c 98.5px,#67a34e 103.5px,#7ca753 104.5px,#93ad57 107.5px,#64a24d 110.5px,#81a854 115.5px,#96ae58 117.5px,#86aa55 118.5px,#69a34e 119.5px,#62a14c 121.5px,#6da44f 123.5px,#98af58 125.5px,#98af58 130.5px,#91ad57 131.5px,#99af58 134.5px,#bcad62 136.5px,#debba7 137.5px,#fbf5f5 138.5px,#e4c5b9 139.5px,#bea863 140.5px,#a5b25b 141.5px,#89ab55 142.5px,#8eac56 144.5px,#a5b25b 146.5px,#82a954 149.5px,#81a854 153.5px,#87aa55 154.5px,#a8b35b 155.5px,#b9b35f 156.5px,#86aa55 159.5px,#87aa55 161.5px,#a7b25b 165.5px,#bcad62 166.5px,#c2a46a 168.5px,#d5b194 169.5px,#ddb9a5 170.5px,#ccaa80 171.5px,#bdab62 172.5px,#b7b65e 180.5px,#98af58 182.5px,#9baf59 187.5px,#b0b55d 189.5px,#b2b65d 190.5px,#a7b25b 192.5px,#bcad62 196.5px,#bcac62 218.5px,#abb45c 219.5px,#69a34e 220.5px,#3a8d65 221.5px,#2c777f 222.5px,#24647c 223.5px,#25657d 227.5px,#2d787f 236.5px)"></div><div style="top:110px;height:1px;background:linear-gradient(90deg,#3c8e61 0.5px,#398c67 4.5px,#37896d 8.5px,#338378 10.5px,#388a6b 13.5px,#388a6a 23.5px,#3c8e61 29.5px,#388a6a 30.5px,#3e915c 34.5px,#43974f 39.5px,#479a47 40.5px,#7aa752 41.5px,#b7b65e 44.5px,#a2b15a 45.5px,#7ca753 46.5px,#64a24d 47.5px,#8aab56 49.5px,#7ca753 50.5px,#43984d 51.5px,#3d905d 52.5px,#37896d 57.5px,#3f9258 62.5px,#3b8d63 68.5px,#429651 71.5px,#419554 73.5px,#3a8c66 75.5px,#398b68 78.5px,#409456 80.5px,#43984d 87.5px,#539d48 89.5px,#479a47 90.5px,#64a24d 94.5px,#bcad62 96.5px,#bab160 97.5px,#93ad57 98.5px,#64a24d 100.5px,#5ba04b 101.5px,#86aa55 105.5px,#9db059 106.5px,#a3b25a 107.5px,#62a14c 111.5px,#5ea04b 112.5px,#87aa55 115.5px,#b5b65e 117.5px,#a3b25a 118.5px,#7ca753 119.5px,#6ba44f 120.5px,#6fa450 123.5px,#adb45c 124.5px,#bbaf61 126.5px,#b7b65e 129.5px,#8cab56 132.5px,#89ab55 133.5px,#b9b260 135.5px,#bea963 136.5px,#ccaa80 137.5px,#dab7a0 138.5px,#c7a676 139.5px,#b7b65e 140.5px,#99af58 141.5px,#89ab55 142.5px,#91ad57 147.5px,#7da853 151.5px,#86aa55 154.5px,#a8b35b 155.5px,#b8b45f 156.5px,#afb55c 159.5px,#87aa55 160.5px,#8cab56 162.5px,#abb45c 164.5px,#94ae57 166.5px,#99af58 167.5px,#b9b360 168.5px,#c0a465 170.5px,#b8b55f 171.5px,#bcad62 178.5px,#b4b65d 179.5px,#94ae57 182.5px,#98af58 186.5px,#a8b35b 187.5px,#a2b15a 195.5px,#b5b65e 197.5px,#bcad62 199.5px,#bcad62 202.5px,#adb45c 205.5px,#b7b75e 208.5px,#bcad62 210.5px,#b7b75e 219.5px,#96ae58 220.5px,#479a47 221.5px,#348576 222.5px,#286d7d 223.5px,#23607c 225.5px,#2b757e 236.5px)"></div><div style="top:111px;height:1px;background:linear-gradient(90deg,#3a8d65 0.5px,#388a6b 4.5px,#3b8e62 6.5px,#338378 10.5px,#388a6b 19.5px,#3b8d63 31.5px,#3e915c 34.5px,#3e915b 37.5px,#43984d 41.5px,#429650 42.5px,#5ba04b 43.5px,#78a652 44.5px,#67a34e 45.5px,#5ba04b 47.5px,#7ca753 49.5px,#64a24d 50.5px,#3e915b 51.5px,#368771 58.5px,#3e915c 60.5px,#3b8d63 68.5px,#3f925a 73.5px,#388a6b 78.5px,#409357 80.5px,#419552 84.5px,#4c9c47 87.5px,#559e49 88.5px,#44994b 90.5px,#60a14c 93.5px,#69a34e 95.5px,#8eac56 96.5px,#60a14c 102.5px,#6ba44f 105.5px,#87aa55 106.5px,#98af58 108.5px,#93ad57 109.5px,#64a24d 111.5px,#599f4a 112.5px,#96ae58 117.5px,#91ad57 118.5px,#7da853 119.5px,#76a652 122.5px,#7aa752 123.5px,#b0b55d 125.5px,#b9b360 128.5px,#94ae57 131.5px,#91ad57 135.5px,#9baf59 136.5px,#b2b65d 137.5px,#bcac62 139.5px,#b8b55f 140.5px,#93ad57 142.5px,#87aa55 150.5px,#93ad57 154.5px,#b7b75e 155.5px,#bcad62 157.5px,#b8b45f 159.5px,#8eac56 161.5px,#93ad57 167.5px,#a7b25b 169.5px,#96ae58 172.5px,#a0b15a 174.5px,#b9b260 176.5px,#b5b65e 178.5px,#a7b25b 179.5px,#aab35c 184.5px,#9baf59 188.5px,#a0b15a 196.5px,#b0b55d 198.5px,#b5b65e 200.5px,#bbaf61 203.5px,#bab061 216.5px,#a8b35b 220.5px,#7ca753 221.5px,#3d905d 222.5px,#2e7b7f 223.5px,#25677d 224.5px,#25657d 227.5px,#276a7d 232.5px,#2b757e 235.5px,#2a727e 236.5px)"></div><div style="top:112px;height:1px;background:linear-gradient(90deg,#3a8c66 0.5px,#37896d 4.5px,#3c8f60 5.5px,#368771 11.5px,#38896c 14.5px,#3d905f 15.5px,#37896d 21.5px,#3b8e62 31.5px,#3f925a 37.5px,#4a9b46 38.5px,#7da853 39.5px,#539d48 40.5px,#429651 44.5px,#409357 45.5px,#559e49 46.5px,#6ba44f 49.5px,#509d48 50.5px,#3c8f60 51.5px,#368770 58.5px,#3d905f 60.5px,#3b8e62 70.5px,#3e915c 73.5px,#398c67 77.5px,#409357 81.5px,#429651 84.5px,#67a34e 86.5px,#44984c 90.5px,#64a24d 93.5px,#64a24d 94.5px,#7aa752 95.5px,#82a954 96.5px,#76a652 98.5px,#86aa55 101.5px,#6da44f 103.5px,#76a652 106.5px,#82a954 107.5px,#9db059 108.5px,#8aab56 110.5px,#579f4a 112.5px,#78a652 116.5px,#78a652 120.5px,#76a652 123.5px,#9db059 126.5px,#afb55c 127.5px,#b0b55d 128.5px,#9db059 129.5px,#93ad57 131.5px,#a2b15a 132.5px,#a0b15a 133.5px,#86aa55 134.5px,#8aab56 136.5px,#b7b65e 139.5px,#b8b55f 141.5px,#9db059 144.5px,#8eac56 147.5px,#84a954 150.5px,#8cab56 153.5px,#96ae58 154.5px,#b9b360 155.5px,#b9b35f 159.5px,#89ab55 163.5px,#93ad57 167.5px,#87aa55 168.5px,#94ae57 173.5px,#a7b25b 174.5px,#9baf59 176.5px,#8fac56 178.5px,#96ae58 180.5px,#b0b55d 181.5px,#bcad62 183.5px,#bcad62 185.5px,#afb55c 187.5px,#a0b15a 195.5px,#b0b55d 198.5px,#a7b25b 199.5px,#b7b75e 202.5px,#bcad62 205.5px,#bab160 217.5px,#aab35c 220.5px,#99af58 221.5px,#509d48 222.5px,#358673 223.5px,#296f7e 224.5px,#24647c 226.5px,#2b737e 236.5px)"></div><div style="top:113px;height:1px;background:linear-gradient(90deg,#398c67 0.5px,#388a6a 5.5px,#3b8d63 8.5px,#38896c 11.5px,#3c8e61 16.5px,#388a6a 21.5px,#3d905f 25.5px,#3c8f60 27.5px,#3c8e61 31.5px,#409456 35.5px,#409456 38.5px,#4a9b46 40.5px,#409456 46.5px,#4a9b46 48.5px,#60a14c 49.5px,#539d48 50.5px,#429651 51.5px,#388a6b 56.5px,#368770 58.5px,#3c8e61 61.5px,#398b68 69.5px,#3d905d 73.5px,#3a8d65 76.5px,#419554 79.5px,#409456 83.5px,#429650 84.5px,#5ea04b 86.5px,#45994a 89.5px,#4a9b46 91.5px,#69a34e 93.5px,#67a34e 94.5px,#8cab56 97.5px,#a3b25a 98.5px,#a5b25b 99.5px,#78a652 101.5px,#7aa752 102.5px,#6da44f 104.5px,#8cab56 107.5px,#8cab56 109.5px,#78a652 110.5px,#559e49 111.5px,#4c9c47 112.5px,#539d48 113.5px,#6ba44f 114.5px,#7aa752 118.5px,#84a954 120.5px,#74a551 121.5px,#74a551 123.5px,#a5b25b 129.5px,#afb55c 130.5px,#9db059 132.5px,#94ae57 134.5px,#a8b35b 138.5px,#bbae61 140.5px,#bbae61 141.5px,#9baf59 143.5px,#91ad57 146.5px,#a3b25a 148.5px,#82a954 151.5px,#8aab56 153.5px,#b8b45f 155.5px,#bab160 158.5px,#b7b65e 159.5px,#98af58 160.5px,#8aab56 163.5px,#8aab56 170.5px,#a0b15a 172.5px,#98af58 173.5px,#a2b15a 175.5px,#8aab56 177.5px,#94ae57 183.5px,#abb45c 184.5px,#b0b55d 185.5px,#a3b25a 186.5px,#b7b65e 191.5px,#a3b25a 194.5px,#afb55c 201.5px,#a8b35b 202.5px,#b5b65e 203.5px,#bcad62 205.5px,#b8b55f 208.5px,#bcad62 212.5px,#b9b360 218.5px,#aab35c 221.5px,#81a854 222.5px,#3e915c 223.5px,#2e7b7f 224.5px,#26687d 225.5px,#2b757e 236.5px)"></div><div style="top:114px;height:1px;background:linear-gradient(90deg,#3a8d65 0.5px,#37896d 5.5px,#3a8d65 9.5px,#3b8e62 12.5px,#3c8e61 14.5px,#388a6a 19.5px,#3d905d 22.5px,#3d905f 24.5px,#45994a 26.5px,#3f9258 30.5px,#45994a 32.5px,#62a14c 33.5px,#6fa450 34.5px,#45994a 37.5px,#409357 38.5px,#409455 40.5px,#5ea04b 41.5px,#64a24d 42.5px,#409456 43.5px,#3d905d 47.5px,#419554 48.5px,#599f4a 49.5px,#6da44f 52.5px,#559e49 53.5px,#429651 54.5px,#38896c 57.5px,#3c8e61 64.5px,#37896d 68.5px,#3d905f 73.5px,#398c67 75.5px,#44984c 78.5px,#409455 83.5px,#4a9b46 85.5px,#539d48 86.5px,#43974f 89.5px,#509d48 91.5px,#67a34e 92.5px,#6fa450 93.5px,#64a24d 94.5px,#a3b25a 96.5px,#b7b75e 98.5px,#b0b55d 99.5px,#96ae58 100.5px,#5ea04b 101.5px,#67a34e 102.5px,#84a954 103.5px,#8fac56 104.5px,#94ae57 107.5px,#6ba44f 109.5px,#559e49 110.5px,#4e9c47 112.5px,#559e49 113.5px,#69a34e 114.5px,#6da44f 117.5px,#7ca753 118.5px,#98af58 119.5px,#9baf59 120.5px,#78a652 121.5px,#74a551 122.5px,#93ad57 127.5px,#94ae57 128.5px,#b7b65e 129.5px,#bcad62 130.5px,#b7b65e 131.5px,#96ae58 132.5px,#98af58 133.5px,#bbae61 135.5px,#afb55c 138.5px,#bcad62 140.5px,#bcad62 141.5px,#9baf59 142.5px,#96ae58 144.5px,#bab061 147.5px,#b9b35f 149.5px,#93ad57 150.5px,#87aa55 152.5px,#b8b45f 153.5px,#b7b75e 155.5px,#adb45c 157.5px,#a7b25b 159.5px,#8cab56 160.5px,#93ad57 162.5px,#b9b360 164.5px,#99af58 166.5px,#99af58 169.5px,#94ae57 170.5px,#b7b65e 171.5px,#bab160 172.5px,#9eb059 173.5px,#a2b15a 175.5px,#87aa55 177.5px,#87aa55 178.5px,#98af58 179.5px,#8cab56 183.5px,#93ad57 188.5px,#afb55c 190.5px,#b7b75e 195.5px,#9eb059 197.5px,#b8b55f 203.5px,#abb45c 204.5px,#bcad62 207.5px,#b9b360 213.5px,#bab061 218.5px,#b2b65d 221.5px,#9baf59 222.5px,#4a9b46 223.5px,#348576 224.5px,#25677d 226.5px,#2c777f 235.5px,#2c777f 236.5px)"></div><div style="top:115px;height:1px;background:linear-gradient(90deg,#3a8c66 0.5px,#368770 4.5px,#398c67 11.5px,#3f925a 14.5px,#3b8d63 19.5px,#3f925a 21.5px,#398b68 24.5px,#409455 27.5px,#3d905f 30.5px,#419552 32.5px,#72a551 33.5px,#8cab56 34.5px,#6ba44f 37.5px,#479a47 38.5px,#419554 40.5px,#3f925a 47.5px,#4a9b46 49.5px,#409456 53.5px,#368770 56.5px,#368771 58.5px,#3b8e62 61.5px,#3a8d65 66.5px,#398c67 69.5px,#3b8e62 76.5px,#419554 79.5px,#409455 83.5px,#4a9b46 85.5px,#4c9c47 87.5px,#43974f 90.5px,#459a49 91.5px,#60a14c 93.5px,#60a14c 95.5px,#87aa55 96.5px,#99af58 99.5px,#6fa450 100.5px,#599f4a 101.5px,#5ba04b 102.5px,#7ca753 103.5px,#8fac56 104.5px,#67a34e 108.5px,#539d48 110.5px,#4c9c47 112.5px,#539d48 113.5px,#69a34e 114.5px,#6fa450 117.5px,#8aab56 119.5px,#8aab56 120.5px,#74a551 121.5px,#8eac56 125.5px,#96ae58 128.5px,#b8b45f 129.5px,#bcad62 130.5px,#b8b45f 131.5px,#98af58 132.5px,#9db059 135.5px,#8aab56 137.5px,#8eac56 138.5px,#b2b65d 140.5px,#aab35c 141.5px,#91ad57 142.5px,#87aa55 143.5px,#a8b35b 145.5px,#bab160 148.5px,#b2b65d 149.5px,#89ab55 150.5px,#8aab56 152.5px,#a7b25b 153.5px,#aab35c 154.5px,#8eac56 156.5px,#96ae58 159.5px,#89ab55 160.5px,#99af58 168.5px,#94ae57 170.5px,#a0b15a 172.5px,#99af58 173.5px,#a2b15a 175.5px,#8aab56 177.5px,#99af58 184.5px,#8cab56 187.5px,#a2b15a 193.5px,#b4b65d 194.5px,#b7b65e 196.5px,#a5b25b 198.5px,#adb45c 202.5px,#a5b25b 204.5px,#b8b55f 206.5px,#bcad62 208.5px,#b2b65d 210.5px,#bbaf61 218.5px,#b4b65d 221.5px,#a8b35b 222.5px,#72a551 223.5px,#3a8c66 224.5px,#2d787f 225.5px,#276a7d 226.5px,#2b757e 236.5px)"></div><div style="top:116px;height:1px;background:linear-gradient(90deg,#398b68 0.5px,#37886e 3.5px,#398b68 10.5px,#409456 15.5px,#409456 21.5px,#3a8c66 23.5px,#3b8e62 26.5px,#429650 29.5px,#3c8e61 30.5px,#409357 32.5px,#7da853 33.5px,#a3b25a 34.5px,#a0b15a 35.5px,#8fac56 36.5px,#7aa752 39.5px,#4a9b46 40.5px,#419554 41.5px,#43984d 45.5px,#3d905d 47.5px,#409357 50.5px,#348575 56.5px,#398c67 59.5px,#3f925a 65.5px,#3b8e62 71.5px,#419554 83.5px,#4c9c47 86.5px,#509d48 89.5px,#44984c 90.5px,#579f4a 93.5px,#539d48 95.5px,#62a14c 96.5px,#62a14c 99.5px,#509d48 100.5px,#599f4a 102.5px,#86aa55 104.5px,#7aa752 105.5px,#62a14c 106.5px,#4e9c47 112.5px,#559e49 113.5px,#76a652 115.5px,#84a954 120.5px,#7ca753 122.5px,#7fa853 123.5px,#a0b15a 125.5px,#a3b25a 128.5px,#b9b360 129.5px,#b9b35f 131.5px,#9db059 132.5px,#89ab55 134.5px,#8eac56 136.5px,#87aa55 139.5px,#94ae57 144.5px,#94ae57 146.5px,#b8b55f 148.5px,#b5b65e 149.5px,#93ad57 151.5px,#87aa55 159.5px,#8fac56 165.5px,#a2b15a 167.5px,#91ad57 171.5px,#aab35c 175.5px,#93ad57 178.5px,#9baf59 180.5px,#94ae57 183.5px,#94ae57 185.5px,#8fac56 187.5px,#9baf59 193.5px,#b0b55d 194.5px,#b7b65e 196.5px,#b2b65d 198.5px,#b9b35f 200.5px,#9db059 204.5px,#b8b45f 205.5px,#b8b55f 206.5px,#aab35c 207.5px,#bcad62 208.5px,#b2b65d 212.5px,#bcad62 215.5px,#b4b65d 221.5px,#adb45c 222.5px,#87aa55 223.5px,#409455 224.5px,#31817d 225.5px,#286d7d 226.5px,#2a727e 236.5px)"></div><div style="top:117px;height:1px;background:linear-gradient(90deg,#388a6b 0.5px,#368770 8.5px,#419552 16.5px,#398b68 25.5px,#3e915b 29.5px,#3a8d65 30.5px,#3c8f60 32.5px,#43984d 33.5px,#5ea04b 34.5px,#43984d 36.5px,#43974f 37.5px,#6da44f 39.5px,#44984c 40.5px,#45994a 45.5px,#3b8d63 48.5px,#409455 52.5px,#338378 57.5px,#3e915c 65.5px,#3b8e62 68.5px,#3c8f60 75.5px,#429650 86.5px,#459a49 87.5px,#559e49 88.5px,#509d48 90.5px,#6ba44f 93.5px,#4e9c47 95.5px,#539d48 102.5px,#7da853 104.5px,#539d48 106.5px,#509d48 111.5px,#4e9c47 113.5px,#89ab55 117.5px,#9eb059 120.5px,#84a954 121.5px,#78a652 123.5px,#8cab56 126.5px,#8eac56 128.5px,#aab35c 130.5px,#8eac56 132.5px,#8fac56 134.5px,#9baf59 135.5px,#86aa55 139.5px,#91ad57 140.5px,#7ca753 143.5px,#7ca753 146.5px,#7fa853 148.5px,#96ae58 150.5px,#7da853 153.5px,#87aa55 158.5px,#8cab56 163.5px,#a2b15a 168.5px,#8cab56 171.5px,#9db059 175.5px,#adb45c 177.5px,#9db059 178.5px,#8eac56 183.5px,#8cab56 189.5px,#91ad57 190.5px,#b7b75e 192.5px,#b2b65d 193.5px,#a0b15a 194.5px,#9baf59 198.5px,#a3b25a 199.5px,#b9b260 200.5px,#b9b360 201.5px,#99af58 203.5px,#b8b45f 205.5px,#b0b55d 207.5px,#bbaf61 210.5px,#b4b65d 212.5px,#bbaf61 219.5px,#adb45c 222.5px,#99af58 223.5px,#539d48 224.5px,#358672 225.5px,#2a727e 226.5px,#29707e 230.5px,#29707e 236.5px)"></div><div style="top:118px;height:1px;background:linear-gradient(90deg,#38896c 0.5px,#358672 7.5px,#3d905d 11.5px,#429650 16.5px,#3a8c66 26.5px,#3f9258 38.5px,#539d48 39.5px,#409456 40.5px,#43974f 43.5px,#509d48 45.5px,#398b68 48.5px,#3b8e62 50.5px,#44994b 52.5px,#328379 57.5px,#3d905d 65.5px,#3a8d65 71.5px,#3a8c66 74.5px,#3f925a 76.5px,#429651 81.5px,#419552 86.5px,#4a9b46 91.5px,#599f4a 92.5px,#8fac56 93.5px,#8eac56 94.5px,#479a47 95.5px,#4e9c47 99.5px,#509d48 102.5px,#7aa752 104.5px,#509d48 106.5px,#5ea04b 109.5px,#4c9c47 112.5px,#67a34e 115.5px,#8cab56 117.5px,#9db059 120.5px,#74a551 121.5px,#6fa450 124.5px,#8cab56 130.5px,#86aa55 133.5px,#a8b35b 135.5px,#7ca753 137.5px,#87aa55 139.5px,#99af58 140.5px,#91ad57 141.5px,#76a652 142.5px,#78a652 146.5px,#78a652 148.5px,#8aab56 150.5px,#87aa55 153.5px,#93ad57 157.5px,#89ab55 160.5px,#8cab56 163.5px,#b0b55d 168.5px,#adb45c 169.5px,#93ad57 170.5px,#93ad57 174.5px,#96ae58 175.5px,#bcad62 176.5px,#b9b360 178.5px,#9eb059 179.5px,#8fac56 183.5px,#94ae57 188.5px,#96ae58 190.5px,#bbaf61 192.5px,#b7b65e 193.5px,#98af58 194.5px,#93ad57 199.5px,#bab160 200.5px,#b9b35f 202.5px,#aab35c 203.5px,#bcad62 207.5px,#b9b360 213.5px,#b9b260 220.5px,#a7b25b 223.5px,#74a551 224.5px,#3a8d65 225.5px,#2d787f 226.5px,#276b7d 228.5px,#286d7d 236.5px)"></div><div style="top:119px;height:1px;background:linear-gradient(90deg,#37886e 0.5px,#338378 3.5px,#37886e 8.5px,#409357 10.5px,#429651 14.5px,#45994a 16.5px,#3d905d 20.5px,#3b8d63 26.5px,#3d905d 29.5px,#3a8c66 30.5px,#3f9258 35.5px,#409357 42.5px,#459a49 43.5px,#81a854 44.5px,#67a34e 45.5px,#409357 46.5px,#398c67 47.5px,#3a8c66 49.5px,#479a47 52.5px,#358672 55.5px,#358673 59.5px,#3e915c 65.5px,#398c67 69.5px,#3c8e61 75.5px,#44984c 81.5px,#3f925a 84.5px,#459a49 91.5px,#599f4a 92.5px,#8cab56 93.5px,#8fac56 94.5px,#459a49 95.5px,#45994a 98.5px,#559e49 101.5px,#539d48 102.5px,#6fa450 104.5px,#559e49 106.5px,#60a14c 110.5px,#509d48 112.5px,#599f4a 113.5px,#7aa752 114.5px,#82a954 115.5px,#78a652 117.5px,#91ad57 119.5px,#93ad57 120.5px,#78a652 121.5px,#6ba44f 122.5px,#76a652 127.5px,#84a954 130.5px,#6fa450 137.5px,#74a551 138.5px,#abb45c 140.5px,#a5b25b 141.5px,#7fa853 142.5px,#74a551 143.5px,#7fa853 144.5px,#99af58 145.5px,#9baf59 146.5px,#7ca753 147.5px,#84a954 151.5px,#7fa853 153.5px,#99af58 157.5px,#8fac56 163.5px,#9eb059 166.5px,#bcad62 168.5px,#b0b55d 170.5px,#91ad57 171.5px,#93ad57 173.5px,#b2b65d 176.5px,#afb55c 177.5px,#9baf59 178.5px,#93ad57 181.5px,#86aa55 183.5px,#8cab56 185.5px,#99af58 186.5px,#b7b75e 187.5px,#b2b65d 188.5px,#9eb059 189.5px,#a8b35b 191.5px,#b8b55f 192.5px,#b0b55d 193.5px,#99af58 194.5px,#93ad57 199.5px,#afb55c 200.5px,#b5b65e 206.5px,#bcad62 208.5px,#bab061 210.5px,#bbaf61 213.5px,#bab061 220.5px,#adb45c 223.5px,#8cab56 224.5px,#409456 225.5px,#308080 226.5px,#286d7d 227.5px,#296f7e 235.5px,#25677d 236.5px)"></div><div style="top:120px;height:1px;background:linear-gradient(90deg,#368770 0.5px,#328379 3.5px,#37886e 8.5px,#419554 10.5px,#479a47 16.5px,#3e915c 19.5px,#409456 21.5px,#3a8c66 24.5px,#429651 28.5px,#419554 29.5px,#3b8d63 30.5px,#44984c 33.5px,#5ea04b 34.5px,#409456 35.5px,#43984d 40.5px,#419554 42.5px,#6fa450 43.5px,#a5b25b 44.5px,#74a551 45.5px,#3e915b 46.5px,#388a6b 48.5px,#3f9258 50.5px,#4c9c47 51.5px,#579f4a 52.5px,#419554 53.5px,#368770 54.5px,#348576 58.5px,#3d905f 66.5px,#398b68 69.5px,#3c8e61 74.5px,#3d905f 76.5px,#4a9b46 78.5px,#4c9c47 81.5px,#429651 84.5px,#4e9c47 86.5px,#429651 89.5px,#459a49 91.5px,#64a24d 92.5px,#91ad57 93.5px,#94ae57 94.5px,#60a14c 95.5px,#44994b 96.5px,#44994b 97.5px,#72a551 99.5px,#5ea04b 100.5px,#62a14c 103.5px,#6fa450 104.5px,#5ea04b 106.5px,#6da44f 108.5px,#7ca753 110.5px,#6da44f 112.5px,#96ae58 114.5px,#99af58 115.5px,#7aa752 116.5px,#6fa450 118.5px,#86aa55 119.5px,#8eac56 120.5px,#72a551 123.5px,#6da44f 126.5px,#7fa853 130.5px,#69a34e 135.5px,#6da44f 136.5px,#94ae57 137.5px,#aab35c 138.5px,#b7b75e 140.5px,#b2b65d 141.5px,#99af58 142.5px,#8eac56 143.5px,#abb45c 144.5px,#bcad62 145.5px,#b5b65e 147.5px,#96ae58 148.5px,#91ad57 152.5px,#9eb059 153.5px,#9eb059 154.5px,#86aa55 156.5px,#a2b15a 158.5px,#a3b25a 159.5px,#94ae57 160.5px,#9db059 165.5px,#b7b65e 167.5px,#bcad62 170.5px,#a0b15a 171.5px,#96ae58 172.5px,#afb55c 173.5px,#bcad62 174.5px,#b9b35f 175.5px,#96ae58 176.5px,#89ab55 177.5px,#94ae57 180.5px,#86aa55 182.5px,#8aab56 185.5px,#bbaf61 187.5px,#b8b55f 188.5px,#93ad57 189.5px,#b5b65e 193.5px,#adb45c 195.5px,#93ad57 197.5px,#98af58 199.5px,#b7b75e 204.5px,#aab35c 206.5px,#bcad62 207.5px,#b0b55d 210.5px,#bcad62 211.5px,#b8b45f 221.5px,#b0b55d 223.5px,#9db059 224.5px,#479a47 225.5px,#328379 226.5px,#296f7e 227.5px,#276b7d 232.5px,#2b757e 234.5px,#24647c 236.5px)"></div><div style="top:121px;height:1px;background:linear-gradient(90deg,#37896d 0.5px,#328379 3.5px,#368770 6.5px,#398c67 9.5px,#409357 12.5px,#3d905d 19.5px,#419554 21.5px,#3a8d65 26.5px,#3a8d65 31.5px,#419552 35.5px,#479a47 36.5px,#409455 39.5px,#429651 42.5px,#509d48 43.5px,#6ba44f 44.5px,#4e9c47 45.5px,#398c67 47.5px,#388a6a 48.5px,#409455 52.5px,#348575 55.5px,#37886e 60.5px,#409455 65.5px,#388a6a 68.5px,#3c8e61 75.5px,#45994a 81.5px,#409456 86.5px,#4a9b46 91.5px,#adb45c 93.5px,#abb45c 94.5px,#67a34e 95.5px,#45994a 96.5px,#45994a 98.5px,#64a24d 99.5px,#6fa450 101.5px,#599f4a 106.5px,#599f4a 107.5px,#82a954 109.5px,#81a854 113.5px,#91ad57 114.5px,#93ad57 115.5px,#7ca753 116.5px,#74a551 118.5px,#87aa55 120.5px,#81a854 123.5px,#6ba44f 125.5px,#72a551 129.5px,#84a954 130.5px,#7aa752 133.5px,#67a34e 135.5px,#72a551 138.5px,#8aab56 140.5px,#7ca753 142.5px,#7da853 143.5px,#94ae57 144.5px,#bcad62 145.5px,#b2b65d 147.5px,#8fac56 148.5px,#7fa853 151.5px,#82a954 152.5px,#a2b15a 153.5px,#a5b25b 154.5px,#8eac56 155.5px,#84a954 156.5px,#9eb059 158.5px,#93ad57 161.5px,#98af58 162.5px,#afb55c 163.5px,#b8b45f 164.5px,#aab35c 166.5px,#bcad62 168.5px,#bcad62 170.5px,#b7b75e 171.5px,#a8b35b 173.5px,#9baf59 175.5px,#89ab55 177.5px,#9eb059 182.5px,#8aab56 185.5px,#9eb059 193.5px,#b8b45f 194.5px,#bcad62 195.5px,#b4b65d 196.5px,#91ad57 197.5px,#87aa55 199.5px,#a5b25b 204.5px,#abb45c 205.5px,#8eac56 207.5px,#8fac56 209.5px,#9db059 210.5px,#bbae61 211.5px,#b9b360 221.5px,#aab35c 224.5px,#60a14c 225.5px,#358672 226.5px,#29707e 227.5px,#286d7d 231.5px,#296f7e 235.5px,#25677d 236.5px)"></div><div style="top:122px;height:1px;background:linear-gradient(90deg,#388a6a 0.5px,#338378 3.5px,#3b8d63 5.5px,#368771 8.5px,#3c8f60 11.5px,#3d905f 19.5px,#419554 22.5px,#3f9258 24.5px,#3a8c66 25.5px,#3c8f60 28.5px,#3b8d63 31.5px,#3f9258 34.5px,#4c9c47 35.5px,#b4b65d 36.5px,#b8b55f 37.5px,#8aab56 40.5px,#64a24d 41.5px,#43984d 43.5px,#3f9258 46.5px,#3a8d65 47.5px,#3e915b 50.5px,#348576 57.5px,#3e915c 63.5px,#43984d 65.5px,#398c67 67.5px,#3d905d 70.5px,#398c67 74.5px,#3d905d 76.5px,#419554 83.5px,#429650 90.5px,#509d48 91.5px,#87aa55 92.5px,#b0b55d 93.5px,#afb55c 94.5px,#6fa450 95.5px,#45994a 96.5px,#459a49 98.5px,#8cab56 101.5px,#7fa853 102.5px,#60a14c 103.5px,#599f4a 107.5px,#87aa55 109.5px,#89ab55 113.5px,#8fac56 115.5px,#7fa853 116.5px,#76a652 118.5px,#94ae57 122.5px,#8fac56 123.5px,#6da44f 125.5px,#6fa450 128.5px,#9eb059 130.5px,#72a551 134.5px,#6fa450 138.5px,#84a954 140.5px,#76a652 143.5px,#7ca753 144.5px,#bbae61 145.5px,#b5b65e 147.5px,#93ad57 148.5px,#78a652 152.5px,#aab35c 153.5px,#adb45c 154.5px,#93ad57 155.5px,#86aa55 156.5px,#a0b15a 158.5px,#abb45c 161.5px,#bcad62 163.5px,#bcad62 165.5px,#a5b25b 166.5px,#bcad62 168.5px,#b7b65e 171.5px,#9eb059 173.5px,#98af58 176.5px,#8eac56 178.5px,#94ae57 180.5px,#b9b260 181.5px,#bab160 183.5px,#a3b25a 184.5px,#89ab55 186.5px,#84a954 188.5px,#b5b65e 190.5px,#91ad57 192.5px,#93ad57 193.5px,#b9b360 194.5px,#b9b35f 196.5px,#98af58 197.5px,#89ab55 200.5px,#99af58 204.5px,#adb45c 205.5px,#96ae58 207.5px,#8fac56 209.5px,#bcad62 211.5px,#bab160 214.5px,#b9b260 221.5px,#b7b75e 224.5px,#78a652 225.5px,#388a6b 226.5px,#2b737e 227.5px,#276a7d 228.5px,#2c777f 232.5px,#276b7d 236.5px)"></div><div style="top:123px;height:1px;background:linear-gradient(90deg,#3b8d63 0.5px,#348576 3.5px,#398c67 5.5px,#368771 8.5px,#3c8e61 11.5px,#3c8e61 26.5px,#3b8e62 29.5px,#409357 34.5px,#4a9b46 35.5px,#78a652 36.5px,#72a551 37.5px,#539d48 38.5px,#45994a 39.5px,#419554 46.5px,#3d905f 47.5px,#4c9c47 49.5px,#3a8c66 52.5px,#368771 56.5px,#3d905d 65.5px,#398b68 68.5px,#3e915b 70.5px,#3a8c66 74.5px,#409357 82.5px,#429650 90.5px,#5ea04b 91.5px,#9baf59 93.5px,#9db059 94.5px,#69a34e 95.5px,#459a49 96.5px,#4a9b46 98.5px,#64a24d 99.5px,#4c9c47 103.5px,#559e49 106.5px,#599f4a 110.5px,#72a551 111.5px,#8aab56 115.5px,#76a652 120.5px,#8cab56 122.5px,#8eac56 125.5px,#81a854 127.5px,#9db059 130.5px,#7ca753 132.5px,#6fa450 138.5px,#84a954 140.5px,#76a652 143.5px,#7ca753 144.5px,#a0b15a 145.5px,#a8b35b 146.5px,#8aab56 149.5px,#7fa853 152.5px,#9db059 153.5px,#a0b15a 154.5px,#8cab56 155.5px,#91ad57 162.5px,#b4b65d 163.5px,#b8b45f 165.5px,#8fac56 173.5px,#96ae58 179.5px,#a5b25b 183.5px,#b5b65e 185.5px,#8aab56 187.5px,#93ad57 190.5px,#89ab55 191.5px,#9baf59 194.5px,#b4b65d 195.5px,#9db059 196.5px,#94ae57 198.5px,#8eac56 201.5px,#99af58 204.5px,#b2b65d 205.5px,#b0b55d 206.5px,#9db059 207.5px,#91ad57 210.5px,#b7b65e 211.5px,#bcad62 212.5px,#b9b260 214.5px,#bab061 224.5px,#8cab56 225.5px,#3b8e62 226.5px,#2c777f 227.5px,#276b7d 228.5px,#2f7e7f 231.5px,#286d7d 235.5px,#296f7e 236.5px)"></div><div style="top:124px;height:1px;background:linear-gradient(90deg,#3b8e62 0.5px,#388a6b 4.5px,#37886e 8.5px,#3d905d 10.5px,#3a8d65 15.5px,#3a8d65 24.5px,#44994b 26.5px,#3c8e61 29.5px,#3b8e62 30.5px,#43974f 32.5px,#60a14c 34.5px,#4c9c47 35.5px,#3f9258 39.5px,#45994a 44.5px,#3c8e61 47.5px,#419552 48.5px,#6ba44f 49.5px,#599f4a 50.5px,#3f925a 51.5px,#368770 55.5px,#3e915c 57.5px,#3a8c66 62.5px,#3b8e62 69.5px,#409357 70.5px,#3b8d63 74.5px,#419554 81.5px,#3e915b 84.5px,#479a47 86.5px,#419552 87.5px,#419554 90.5px,#64a24d 91.5px,#67a34e 93.5px,#62a14c 97.5px,#76a652 99.5px,#62a14c 100.5px,#4c9c47 103.5px,#67a34e 107.5px,#6ba44f 111.5px,#7fa853 112.5px,#6fa450 113.5px,#6da44f 114.5px,#89ab55 117.5px,#78a652 118.5px,#7aa752 121.5px,#a8b35b 124.5px,#abb45c 126.5px,#98af58 131.5px,#7fa853 133.5px,#87aa55 138.5px,#a3b25a 140.5px,#a2b15a 141.5px,#86aa55 144.5px,#7fa853 146.5px,#91ad57 148.5px,#89ab55 150.5px,#87aa55 152.5px,#a7b25b 154.5px,#87aa55 162.5px,#87aa55 164.5px,#96ae58 165.5px,#b2b65d 166.5px,#b2b65d 167.5px,#98af58 168.5px,#87aa55 173.5px,#9baf59 177.5px,#8eac56 183.5px,#bab061 184.5px,#bbae61 187.5px,#b5b65e 188.5px,#8eac56 189.5px,#8cab56 193.5px,#8eac56 196.5px,#8aab56 198.5px,#99af58 200.5px,#91ad57 201.5px,#a7b25b 204.5px,#b9b35f 205.5px,#bbae61 206.5px,#a0b15a 207.5px,#8fac56 210.5px,#a8b35b 211.5px,#bcad62 212.5px,#b8b55f 214.5px,#bcad62 218.5px,#bcad62 224.5px,#99af58 225.5px,#3f925a 226.5px,#2d7a7f 227.5px,#286d7d 228.5px,#2f7e7f 231.5px,#296f7e 235.5px,#296f7e 236.5px)"></div><div style="top:125px;height:1px;background:linear-gradient(90deg,#3c8e61 0.5px,#388a6b 8.5px,#3c8e61 11.5px,#388a6a 21.5px,#409456 26.5px,#3d905f 28.5px,#3f925a 32.5px,#5ea04b 33.5px,#7da853 34.5px,#6ba44f 35.5px,#459a49 36.5px,#43974f 40.5px,#43974f 45.5px,#3e915c 49.5px,#419552 52.5px,#388a6a 54.5px,#388a6b 56.5px,#3d905d 57.5px,#398b68 63.5px,#3c8e61 69.5px,#409357 70.5px,#3b8d63 73.5px,#3e915c 83.5px,#409456 90.5px,#479a47 91.5px,#7ca753 93.5px,#7fa853 97.5px,#78a652 99.5px,#60a14c 100.5px,#4c9c47 103.5px,#509d48 104.5px,#479a47 105.5px,#7fa853 108.5px,#7aa752 110.5px,#64a24d 113.5px,#7aa752 115.5px,#7aa752 120.5px,#81a854 121.5px,#98af58 122.5px,#94ae57 123.5px,#84a954 124.5px,#81a854 125.5px,#9db059 127.5px,#72a551 136.5px,#8eac56 140.5px,#78a652 143.5px,#82a954 146.5px,#a2b15a 148.5px,#9db059 149.5px,#89ab55 150.5px,#89ab55 152.5px,#bcac62 154.5px,#ceab85 155.5px,#c7a676 156.5px,#b8b45f 157.5px,#a0b15a 158.5px,#89ab55 163.5px,#a2b15a 167.5px,#8cab56 168.5px,#89ab55 174.5px,#a7b25b 178.5px,#b5b65e 179.5px,#abb45c 180.5px,#8aab56 181.5px,#89ab55 183.5px,#adb45c 184.5px,#b8b55f 185.5px,#96ae58 187.5px,#96ae58 190.5px,#8aab56 194.5px,#86aa55 198.5px,#a2b15a 200.5px,#a7b25b 201.5px,#bcad62 202.5px,#b2b65d 205.5px,#b8b45f 207.5px,#b7b75e 208.5px,#93ad57 210.5px,#bcad62 212.5px,#b9b260 224.5px,#9eb059 225.5px,#419552 226.5px,#308080 227.5px,#29707e 228.5px,#2f7d7f 231.5px,#296f7e 235.5px,#29707e 236.5px)"></div><div style="top:126px;height:1px;background:linear-gradient(90deg,#429651 0.5px,#3a8d65 6.5px,#3b8d63 11.5px,#3b8e62 16.5px,#37886e 20.5px,#3d905d 29.5px,#3f9258 32.5px,#69a34e 33.5px,#93ad57 34.5px,#81a854 35.5px,#5ea04b 36.5px,#4a9b46 37.5px,#419554 38.5px,#44984c 42.5px,#4c9c47 44.5px,#44994b 46.5px,#559e49 47.5px,#3b8e62 48.5px,#3c8e61 50.5px,#43974f 51.5px,#5ea04b 52.5px,#419554 53.5px,#3a8c66 54.5px,#398b68 56.5px,#3d905f 57.5px,#398b68 64.5px,#3d905d 71.5px,#3c8f60 77.5px,#409357 87.5px,#459a49 88.5px,#419552 91.5px,#579f4a 92.5px,#8eac56 93.5px,#a8b35b 94.5px,#a7b25b 96.5px,#78a652 99.5px,#579f4a 100.5px,#4e9c47 103.5px,#559e49 104.5px,#45994a 105.5px,#579f4a 106.5px,#abb45c 108.5px,#c7a676 109.5px,#b9b360 110.5px,#7aa752 111.5px,#579f4a 112.5px,#5ba04b 113.5px,#7fa853 114.5px,#84a954 115.5px,#72a551 116.5px,#7da853 120.5px,#9baf59 122.5px,#7ca753 124.5px,#7ca753 126.5px,#8cab56 127.5px,#8fac56 128.5px,#81a854 129.5px,#72a551 134.5px,#8cab56 141.5px,#7da853 144.5px,#8cab56 146.5px,#b2b65d 148.5px,#9db059 152.5px,#b0b55d 153.5px,#d1ae8c 154.5px,#fdfbfb 155.5px,#ecd3ce 156.5px,#c5a571 157.5px,#a7b25b 158.5px,#98af58 159.5px,#91ad57 162.5px,#a2b15a 163.5px,#9db059 165.5px,#84a954 174.5px,#96ae58 177.5px,#b2b65d 178.5px,#bab061 180.5px,#89ab55 181.5px,#84a954 183.5px,#98af58 185.5px,#8aab56 186.5px,#a3b25a 192.5px,#8cab56 194.5px,#8aab56 199.5px,#adb45c 200.5px,#bcad62 202.5px,#bcad62 204.5px,#9db059 205.5px,#b5b65e 206.5px,#bcad62 208.5px,#b9b360 209.5px,#93ad57 210.5px,#a0b15a 211.5px,#bcad62 212.5px,#bcad62 214.5px,#b4b65d 216.5px,#bbaf61 221.5px,#b0b55d 224.5px,#99af58 225.5px,#43984d 226.5px,#31827c 227.5px,#2a727e 228.5px,#2d787f 232.5px,#296f7e 235.5px,#29707e 236.5px)"></div><div style="top:127px;height:1px;background:linear-gradient(90deg,#409456 0.5px,#3b8d63 7.5px,#3f9258 10.5px,#388a6a 14.5px,#37896d 19.5px,#388a6b 22.5px,#3f925a 32.5px,#429651 33.5px,#64a24d 35.5px,#67a34e 37.5px,#539d48 38.5px,#4c9c47 39.5px,#409456 40.5px,#44984c 43.5px,#44994b 45.5px,#5ba04b 46.5px,#559e49 47.5px,#3c8f60 48.5px,#3b8d63 50.5px,#43974f 52.5px,#398c67 54.5px,#3c8e61 58.5px,#398c67 64.5px,#3b8e62 71.5px,#3c8e61 74.5px,#3b8e62 79.5px,#409455 87.5px,#4c9c47 91.5px,#7fa853 93.5px,#a8b35b 96.5px,#9baf59 97.5px,#7fa853 98.5px,#62a14c 100.5px,#60a14c 104.5px,#509d48 105.5px,#62a14c 106.5px,#94ae57 107.5px,#c0a465 108.5px,#d5b194 109.5px,#bcac62 110.5px,#60a14c 112.5px,#5ea04b 113.5px,#7aa752 115.5px,#72a551 116.5px,#86aa55 120.5px,#7ca753 128.5px,#84a954 130.5px,#74a551 134.5px,#8fac56 141.5px,#84a954 145.5px,#82a954 146.5px,#b9b35f 148.5px,#adb45c 149.5px,#8aab56 150.5px,#82a954 151.5px,#8eac56 152.5px,#b2b65d 153.5px,#d7b298 154.5px,#fbf5f5 155.5px,#e6c7bc 156.5px,#bab061 157.5px,#99af58 158.5px,#8aab56 159.5px,#86aa55 169.5px,#8eac56 170.5px,#a3b25a 171.5px,#a5b25b 172.5px,#8cab56 173.5px,#82a954 175.5px,#89ab55 178.5px,#98af58 179.5px,#86aa55 183.5px,#9baf59 190.5px,#8fac56 192.5px,#91ad57 194.5px,#7ca753 197.5px,#82a954 199.5px,#a0b15a 200.5px,#bbaf61 202.5px,#b7b75e 204.5px,#98af58 205.5px,#afb55c 206.5px,#adb45c 207.5px,#96ae58 209.5px,#a8b35b 211.5px,#bcad62 212.5px,#b8b45f 217.5px,#bbaf61 221.5px,#adb45c 223.5px,#91ad57 225.5px,#45994a 226.5px,#338378 227.5px,#2b737e 228.5px,#2c777f 232.5px,#29707e 236.5px)"></div><div style="top:128px;height:1px;background:linear-gradient(90deg,#3e915c 0.5px,#3f925a 3.5px,#398b68 6.5px,#419552 10.5px,#37896d 13.5px,#398b68 17.5px,#3c8e61 18.5px,#38896c 21.5px,#3d905d 26.5px,#429651 35.5px,#5ea04b 36.5px,#6ba44f 37.5px,#adb45c 39.5px,#559e49 40.5px,#409357 41.5px,#429651 43.5px,#99af58 44.5px,#8fac56 45.5px,#559e49 47.5px,#3d905d 48.5px,#3b8d63 51.5px,#3b8e62 53.5px,#3b8d63 56.5px,#3a8c66 59.5px,#3e915c 65.5px,#3a8d65 68.5px,#3b8d63 71.5px,#3b8e62 74.5px,#3b8e62 76.5px,#38896c 78.5px,#409456 83.5px,#429650 88.5px,#44984c 89.5px,#539d48 90.5px,#6fa450 91.5px,#78a652 92.5px,#78a652 94.5px,#b9b35f 96.5px,#aab35c 97.5px,#78a652 98.5px,#67a34e 99.5px,#96ae58 101.5px,#8fac56 102.5px,#579f4a 105.5px,#64a24d 106.5px,#94ae57 107.5px,#bfa664 108.5px,#cfac87 109.5px,#bab160 110.5px,#84a954 111.5px,#5ea04b 113.5px,#8aab56 120.5px,#7ca753 126.5px,#86aa55 130.5px,#78a652 136.5px,#84a954 138.5px,#a2b15a 140.5px,#94ae57 143.5px,#89ab55 144.5px,#8cab56 146.5px,#bcad62 148.5px,#aab35c 149.5px,#7aa752 150.5px,#8aab56 152.5px,#a3b25a 153.5px,#bcac62 154.5px,#c1a367 155.5px,#bbae61 156.5px,#93ad57 158.5px,#84a954 160.5px,#78a652 167.5px,#81a854 169.5px,#8eac56 170.5px,#b4b65d 171.5px,#b8b45f 172.5px,#9baf59 173.5px,#87aa55 175.5px,#8cab56 186.5px,#94ae57 188.5px,#a7b25b 189.5px,#a8b35b 190.5px,#84a954 192.5px,#87aa55 193.5px,#a0b15a 194.5px,#a8b35b 195.5px,#87aa55 197.5px,#89ab55 199.5px,#9db059 201.5px,#99af58 205.5px,#b0b55d 207.5px,#9eb059 208.5px,#a0b15a 210.5px,#b5b65e 211.5px,#bcad62 213.5px,#b8b55f 214.5px,#bcad62 218.5px,#b9b260 222.5px,#b0b55d 223.5px,#8eac56 225.5px,#4c9c47 226.5px,#348576 227.5px,#2b757e 228.5px,#29707e 236.5px)"></div><div style="top:129px;height:1px;background:linear-gradient(90deg,#3b8e62 0.5px,#409357 3.5px,#388a6a 6.5px,#3b8d63 10.5px,#368771 13.5px,#38896c 17.5px,#3c8f60 18.5px,#368771 20.5px,#409357 26.5px,#3d905f 29.5px,#3f925a 34.5px,#4a9b46 35.5px,#9baf59 36.5px,#a5b25b 37.5px,#89ab55 39.5px,#409455 40.5px,#429650 44.5px,#579f4a 46.5px,#4a9b46 47.5px,#3a8c66 49.5px,#3b8e62 54.5px,#3f9258 57.5px,#388a6b 60.5px,#3f925a 63.5px,#388a6b 67.5px,#3a8d65 71.5px,#3d905f 75.5px,#37886e 78.5px,#409455 83.5px,#409455 88.5px,#43974f 89.5px,#599f4a 90.5px,#7fa853 91.5px,#86aa55 92.5px,#69a34e 94.5px,#78a652 101.5px,#6da44f 102.5px,#4e9c47 103.5px,#4c9c47 105.5px,#aab35c 108.5px,#adb45c 109.5px,#94ae57 110.5px,#559e49 112.5px,#599f4a 113.5px,#76a652 114.5px,#84a954 116.5px,#91ad57 125.5px,#84a954 127.5px,#8eac56 130.5px,#7fa853 134.5px,#9baf59 139.5px,#a7b25b 140.5px,#a2b15a 141.5px,#82a954 142.5px,#8cab56 146.5px,#a5b25b 148.5px,#7fa853 150.5px,#a5b25b 155.5px,#82a954 160.5px,#8cab56 161.5px,#7aa752 165.5px,#94ae57 170.5px,#b2b65d 171.5px,#b7b65e 172.5px,#8cab56 175.5px,#91ad57 183.5px,#96ae58 188.5px,#b2b65d 189.5px,#b9b35f 190.5px,#87aa55 192.5px,#8cab56 195.5px,#7fa853 197.5px,#8cab56 200.5px,#b7b75e 202.5px,#bcad62 203.5px,#abb45c 205.5px,#b7b65e 207.5px,#a3b25a 208.5px,#a0b15a 210.5px,#bcad62 212.5px,#bcad62 216.5px,#b4b65d 217.5px,#bcad62 219.5px,#b2b65d 223.5px,#94ae57 225.5px,#559e49 226.5px,#358672 227.5px,#2c777f 228.5px,#29707e 236.5px)"></div><div style="top:130px;height:1px;background:linear-gradient(90deg,#3a8c66 0.5px,#409456 3.5px,#38896c 7.5px,#3b8e62 10.5px,#37886e 13.5px,#38896c 17.5px,#3b8e62 18.5px,#388a6b 21.5px,#429650 26.5px,#3e915c 29.5px,#409455 31.5px,#3e915b 34.5px,#6da44f 35.5px,#b4b65d 36.5px,#b8b45f 37.5px,#96ae58 38.5px,#60a14c 39.5px,#409455 40.5px,#43984d 46.5px,#459a49 47.5px,#3b8e62 50.5px,#398b68 56.5px,#3f9258 57.5px,#38896c 60.5px,#419552 62.5px,#429651 63.5px,#368770 66.5px,#3e915c 71.5px,#3f9258 75.5px,#37886e 77.5px,#3a8d65 79.5px,#429650 82.5px,#4e9c47 86.5px,#419554 88.5px,#429650 89.5px,#509d48 90.5px,#7ca753 91.5px,#7da853 92.5px,#5ea04b 94.5px,#539d48 97.5px,#81a854 99.5px,#539d48 102.5px,#4c9c47 105.5px,#8aab56 106.5px,#a5b25b 108.5px,#a3b25a 109.5px,#8eac56 110.5px,#62a14c 111.5px,#539d48 112.5px,#559e49 113.5px,#82a954 114.5px,#8aab56 116.5px,#8aab56 120.5px,#aab35c 123.5px,#aab35c 125.5px,#82a954 127.5px,#84a954 128.5px,#a3b25a 130.5px,#a2b15a 134.5px,#9db059 138.5px,#afb55c 140.5px,#a3b25a 141.5px,#7aa752 142.5px,#89ab55 144.5px,#7da853 149.5px,#7fa853 151.5px,#8eac56 153.5px,#8eac56 158.5px,#87aa55 159.5px,#afb55c 161.5px,#89ab55 164.5px,#74a551 165.5px,#7fa853 170.5px,#94ae57 171.5px,#b7b75e 174.5px,#a2b15a 177.5px,#8eac56 178.5px,#8fac56 182.5px,#91ad57 186.5px,#99af58 188.5px,#bab160 189.5px,#bbae61 190.5px,#afb55c 191.5px,#8aab56 192.5px,#8cab56 195.5px,#7fa853 197.5px,#8eac56 200.5px,#bcad62 202.5px,#bbae61 204.5px,#abb45c 205.5px,#b9b260 207.5px,#a0b15a 209.5px,#a7b25b 211.5px,#bcad62 212.5px,#bcad62 216.5px,#b7b65e 217.5px,#bcad62 220.5px,#b5b65e 223.5px,#a0b15a 225.5px,#5ea04b 226.5px,#368771 227.5px,#2c777f 228.5px,#2a727e 235.5px,#2b737e 236.5px)"></div><div style="top:131px;height:1px;background:linear-gradient(90deg,#388a6b 0.5px,#409357 3.5px,#388a6b 7.5px,#3a8d65 11.5px,#398b68 16.5px,#3e915c 18.5px,#368771 20.5px,#398c67 24.5px,#43984d 26.5px,#3d905d 28.5px,#419552 30.5px,#4a9b46 31.5px,#45994a 33.5px,#4e9c47 34.5px,#afb55c 36.5px,#b0b55d 37.5px,#4e9c47 38.5px,#419552 39.5px,#409456 46.5px,#3f9258 47.5px,#459a49 48.5px,#64a24d 49.5px,#579f4a 50.5px,#419552 51.5px,#37896d 55.5px,#3b8e62 57.5px,#37886e 60.5px,#3f9258 63.5px,#368770 67.5px,#3c8f60 71.5px,#3f925a 75.5px,#37886e 77.5px,#3a8c66 79.5px,#429651 83.5px,#409357 86.5px,#45994a 90.5px,#67a34e 91.5px,#69a34e 92.5px,#579f4a 93.5px,#579f4a 97.5px,#78a652 98.5px,#87aa55 99.5px,#539d48 101.5px,#60a14c 106.5px,#98af58 109.5px,#96ae58 110.5px,#6fa450 112.5px,#8fac56 115.5px,#7da853 120.5px,#99af58 123.5px,#b5b65e 124.5px,#b8b55f 125.5px,#a8b35b 126.5px,#89ab55 127.5px,#74a551 135.5px,#82a954 136.5px,#9db059 137.5px,#a7b25b 139.5px,#9eb059 141.5px,#7da853 142.5px,#87aa55 146.5px,#76a652 150.5px,#8cab56 153.5px,#89ab55 159.5px,#98af58 161.5px,#6da44f 166.5px,#98af58 169.5px,#89ab55 172.5px,#9baf59 175.5px,#8eac56 180.5px,#a2b15a 182.5px,#8aab56 184.5px,#8cab56 186.5px,#afb55c 189.5px,#b0b55d 190.5px,#8aab56 192.5px,#96ae58 199.5px,#94ae57 200.5px,#adb45c 201.5px,#bbae61 202.5px,#b9b360 204.5px,#adb45c 205.5px,#bcad62 207.5px,#a8b35b 209.5px,#a7b25b 211.5px,#bcad62 212.5px,#b8b55f 217.5px,#bcad62 220.5px,#b7b75e 224.5px,#aab35c 225.5px,#64a24d 226.5px,#368770 227.5px,#2d787f 228.5px,#276b7d 232.5px,#2d787f 236.5px)"></div><div style="top:132px;height:1px;background:linear-gradient(90deg,#368770 0.5px,#3e915b 3.5px,#398c67 7.5px,#3c8e61 11.5px,#3d905d 16.5px,#409357 18.5px,#348576 20.5px,#398b68 24.5px,#44984c 26.5px,#419554 29.5px,#4c9c47 30.5px,#62a14c 31.5px,#69a34e 32.5px,#8fac56 34.5px,#96ae58 36.5px,#84a954 37.5px,#419554 38.5px,#429650 40.5px,#8aab56 41.5px,#a2b15a 42.5px,#69a34e 43.5px,#4a9b46 44.5px,#419554 47.5px,#60a14c 48.5px,#93ad57 49.5px,#81a854 51.5px,#539d48 53.5px,#409456 55.5px,#368770 59.5px,#3d905d 63.5px,#37896d 68.5px,#3c8e61 71.5px,#3b8e62 74.5px,#3e915c 75.5px,#368770 77.5px,#3a8c66 79.5px,#419552 83.5px,#3e915b 85.5px,#429651 88.5px,#429650 90.5px,#579f4a 91.5px,#5ea04b 97.5px,#84a954 98.5px,#8cab56 99.5px,#69a34e 100.5px,#559e49 101.5px,#579f4a 102.5px,#81a854 103.5px,#93ad57 104.5px,#5ba04b 106.5px,#62a14c 107.5px,#78a652 108.5px,#9baf59 109.5px,#94ae57 114.5px,#96ae58 116.5px,#72a551 119.5px,#72a551 122.5px,#89ab55 123.5px,#b0b55d 124.5px,#b9b35f 126.5px,#99af58 127.5px,#7da853 129.5px,#6fa450 136.5px,#99af58 137.5px,#adb45c 138.5px,#8fac56 143.5px,#78a652 150.5px,#93ad57 153.5px,#8eac56 155.5px,#a0b15a 156.5px,#86aa55 160.5px,#7da853 165.5px,#94ae57 167.5px,#b5b65e 168.5px,#b9b35f 169.5px,#abb45c 170.5px,#81a854 171.5px,#7da853 176.5px,#82a954 177.5px,#abb45c 179.5px,#bab061 182.5px,#b5b65e 183.5px,#98af58 184.5px,#84a954 186.5px,#98af58 188.5px,#87aa55 191.5px,#8cab56 193.5px,#b0b55d 195.5px,#b9b360 198.5px,#a2b15a 200.5px,#b5b65e 201.5px,#bcad62 203.5px,#b4b65d 205.5px,#bcad62 208.5px,#abb45c 210.5px,#aab35c 211.5px,#bcad62 212.5px,#bcad62 214.5px,#b7b75e 216.5px,#b2b65d 217.5px,#bcad62 219.5px,#b8b55f 224.5px,#afb55c 225.5px,#6ba44f 226.5px,#37896d 227.5px,#2d7a7f 228.5px,#26687d 231.5px,#2d7a7f 236.5px)"></div><div style="top:133px;height:1px;background:linear-gradient(90deg,#37886e 0.5px,#3c8e61 3.5px,#3a8c66 8.5px,#3b8e62 13.5px,#3e915c 18.5px,#358672 20.5px,#388a6a 24.5px,#43984d 26.5px,#3f925a 29.5px,#43984d 32.5px,#6da44f 33.5px,#8aab56 34.5px,#7ca753 35.5px,#45994a 37.5px,#419552 38.5px,#43974f 40.5px,#96ae58 41.5px,#b7b75e 42.5px,#7aa752 45.5px,#509d48 46.5px,#4a9b46 47.5px,#62a14c 49.5px,#45994a 51.5px,#37896d 56.5px,#388a6a 61.5px,#3d905d 63.5px,#37896d 68.5px,#3b8e62 71.5px,#3b8d63 74.5px,#3b8d63 76.5px,#38896c 78.5px,#419554 81.5px,#409456 86.5px,#44994b 90.5px,#6ba44f 92.5px,#64a24d 94.5px,#91ad57 96.5px,#62a14c 101.5px,#60a14c 102.5px,#78a652 103.5px,#7fa853 104.5px,#599f4a 106.5px,#5ea04b 107.5px,#89ab55 109.5px,#8aab56 111.5px,#6da44f 114.5px,#7aa752 115.5px,#aab35c 117.5px,#94ae57 118.5px,#6da44f 119.5px,#72a551 121.5px,#89ab55 123.5px,#afb55c 125.5px,#8eac56 128.5px,#7ca753 134.5px,#72a551 135.5px,#76a652 136.5px,#adb45c 137.5px,#b8b45f 138.5px,#b0b55d 139.5px,#98af58 140.5px,#96ae58 143.5px,#7da853 145.5px,#86aa55 148.5px,#7ca753 150.5px,#99af58 153.5px,#a0b15a 156.5px,#82a954 159.5px,#78a652 165.5px,#a0b15a 169.5px,#82a954 171.5px,#89ab55 173.5px,#7aa752 176.5px,#84a954 178.5px,#a2b15a 179.5px,#a2b15a 182.5px,#b7b75e 184.5px,#b2b65d 185.5px,#99af58 186.5px,#8fac56 187.5px,#98af58 189.5px,#8aab56 191.5px,#a0b15a 194.5px,#afb55c 195.5px,#8eac56 200.5px,#a2b15a 202.5px,#a2b15a 205.5px,#b5b65e 206.5px,#bcad62 208.5px,#afb55c 210.5px,#abb45c 211.5px,#bbaf61 212.5px,#bcad62 214.5px,#b0b55d 217.5px,#bcad62 219.5px,#b5b65e 224.5px,#abb45c 225.5px,#6fa450 226.5px,#388a6b 227.5px,#2d7a7f 228.5px,#276b7d 232.5px,#2d787f 236.5px)"></div><div style="top:134px;height:1px;background:linear-gradient(90deg,#37886e 0.5px,#3d905f 6.5px,#3b8d63 9.5px,#3c8f60 14.5px,#388a6b 19.5px,#398b68 24.5px,#429650 26.5px,#3b8d63 30.5px,#3d905d 32.5px,#5ea04b 33.5px,#86aa55 34.5px,#5ba04b 35.5px,#429650 36.5px,#43984d 40.5px,#a2b15a 41.5px,#bcad62 42.5px,#bcad62 44.5px,#afb55c 45.5px,#6fa450 46.5px,#509d48 47.5px,#3c8e61 53.5px,#358673 56.5px,#3b8d63 61.5px,#3f925a 63.5px,#37886e 67.5px,#3c8f60 71.5px,#3d905f 78.5px,#43974f 81.5px,#3f9258 86.5px,#4c9c47 90.5px,#86aa55 93.5px,#8cab56 94.5px,#afb55c 95.5px,#b9b260 96.5px,#b4b65d 97.5px,#6ba44f 98.5px,#6fa450 101.5px,#6da44f 105.5px,#78a652 107.5px,#6ba44f 111.5px,#64a24d 113.5px,#74a551 115.5px,#a2b15a 116.5px,#a2b15a 118.5px,#69a34e 119.5px,#74a551 121.5px,#89ab55 122.5px,#8fac56 127.5px,#8fac56 131.5px,#adb45c 132.5px,#afb55c 133.5px,#84a954 134.5px,#7fa853 136.5px,#b9b260 137.5px,#b9b35f 139.5px,#91ad57 140.5px,#93ad57 142.5px,#99af58 143.5px,#7da853 145.5px,#8aab56 148.5px,#84a954 150.5px,#9baf59 152.5px,#b9b360 153.5px,#b9b35f 154.5px,#82a954 159.5px,#78a652 168.5px,#8fac56 173.5px,#7fa853 176.5px,#84a954 178.5px,#94ae57 179.5px,#8fac56 182.5px,#9eb059 183.5px,#bcad62 184.5px,#b8b55f 186.5px,#96ae58 188.5px,#8cab56 191.5px,#9db059 192.5px,#aab35c 195.5px,#87aa55 198.5px,#8eac56 200.5px,#9db059 202.5px,#96ae58 204.5px,#9baf59 205.5px,#bcad62 207.5px,#b2b65d 211.5px,#bcad62 214.5px,#afb55c 215.5px,#bbae61 221.5px,#b7b65e 223.5px,#a3b25a 225.5px,#74a551 226.5px,#398c67 227.5px,#2e7b7f 228.5px,#29707e 232.5px,#2b757e 236.5px)"></div><div style="top:135px;height:1px;background:linear-gradient(90deg,#358673 0.5px,#3d905d 8.5px,#3d905f 14.5px,#3d905f 18.5px,#38896c 21.5px,#3b8e62 27.5px,#409456 29.5px,#3c8e61 31.5px,#44984c 40.5px,#559e49 41.5px,#abb45c 43.5px,#bcad62 44.5px,#b5b65e 45.5px,#72a551 46.5px,#459a49 47.5px,#409456 48.5px,#3d905f 53.5px,#37886e 59.5px,#3c8f60 63.5px,#37886e 67.5px,#3d905f 71.5px,#3a8c66 78.5px,#429651 81.5px,#409455 86.5px,#45994a 90.5px,#76a652 93.5px,#78a652 94.5px,#a8b35b 96.5px,#a0b15a 97.5px,#7fa853 98.5px,#6da44f 103.5px,#60a14c 108.5px,#6fa450 110.5px,#64a24d 112.5px,#8eac56 116.5px,#9baf59 117.5px,#6da44f 119.5px,#7aa752 123.5px,#94ae57 125.5px,#82a954 127.5px,#a5b25b 133.5px,#87aa55 134.5px,#8eac56 136.5px,#b2b65d 137.5px,#bbaf61 138.5px,#84a954 140.5px,#93ad57 143.5px,#7fa853 145.5px,#9baf59 148.5px,#8cab56 151.5px,#a7b25b 153.5px,#a8b35b 156.5px,#86aa55 158.5px,#76a652 162.5px,#7ca753 165.5px,#7ca753 168.5px,#82a954 169.5px,#78a652 170.5px,#82a954 174.5px,#8fac56 182.5px,#9eb059 183.5px,#b9b260 184.5px,#bbaf61 185.5px,#9eb059 187.5px,#9eb059 188.5px,#afb55c 189.5px,#a3b25a 191.5px,#bab061 195.5px,#b0b55d 196.5px,#91ad57 197.5px,#8aab56 199.5px,#9db059 202.5px,#9baf59 205.5px,#bcad62 207.5px,#b4b65d 210.5px,#bcad62 216.5px,#b7b65e 223.5px,#a0b15a 224.5px,#9baf59 225.5px,#7aa752 226.5px,#3b8e62 227.5px,#2f7d7f 228.5px,#29707e 231.5px,#2d787f 235.5px,#2a727e 236.5px)"></div><div style="top:136px;height:1px;background:linear-gradient(90deg,#348575 0.5px,#3a8c66 3.5px,#3a8d65 6.5px,#3f9258 9.5px,#409357 13.5px,#3b8e62 16.5px,#409455 18.5px,#388a6b 20.5px,#3a8c66 27.5px,#44994b 28.5px,#579f4a 29.5px,#45994a 30.5px,#409357 31.5px,#3f9258 36.5px,#43984d 41.5px,#43984d 42.5px,#89ab55 43.5px,#bcad62 44.5px,#b8b55f 45.5px,#7fa853 46.5px,#4e9c47 48.5px,#409456 50.5px,#3b8e62 53.5px,#409455 54.5px,#38896c 59.5px,#3b8d63 63.5px,#388a6b 68.5px,#3d905d 71.5px,#388a6b 78.5px,#429651 82.5px,#419554 84.5px,#3f925a 86.5px,#43984d 90.5px,#62a14c 92.5px,#62a14c 94.5px,#81a854 96.5px,#81a854 99.5px,#64a24d 102.5px,#72a551 104.5px,#579f4a 106.5px,#599f4a 108.5px,#6da44f 110.5px,#6da44f 113.5px,#7fa853 114.5px,#82a954 115.5px,#5ea04b 118.5px,#6ba44f 123.5px,#89ab55 124.5px,#99af58 125.5px,#82a954 126.5px,#7aa752 128.5px,#adb45c 130.5px,#a2b15a 133.5px,#86aa55 134.5px,#91ad57 137.5px,#a3b25a 138.5px,#89ab55 139.5px,#82a954 142.5px,#8aab56 143.5px,#78a652 145.5px,#8aab56 148.5px,#86aa55 150.5px,#98af58 154.5px,#b7b65e 156.5px,#aab35c 157.5px,#8cab56 158.5px,#78a652 162.5px,#89ab55 164.5px,#76a652 166.5px,#76a652 167.5px,#a0b15a 169.5px,#87aa55 171.5px,#8eac56 173.5px,#7ca753 175.5px,#8fac56 177.5px,#84a954 178.5px,#8fac56 182.5px,#a7b25b 184.5px,#94ae57 186.5px,#98af58 188.5px,#bcad62 189.5px,#b8b55f 193.5px,#bcad62 196.5px,#9baf59 198.5px,#8fac56 199.5px,#9eb059 202.5px,#99af58 205.5px,#afb55c 206.5px,#bcad62 207.5px,#b7b65e 212.5px,#bcad62 213.5px,#b8b45f 214.5px,#bcad62 220.5px,#b7b65e 223.5px,#9db059 224.5px,#96ae58 225.5px,#7ca753 226.5px,#3c8e61 227.5px,#2f7d7f 228.5px,#29707e 231.5px,#2b757e 235.5px,#296f7e 236.5px)"></div><div style="top:137px;height:1px;background:linear-gradient(90deg,#38896c 0.5px,#398c67 6.5px,#3f925a 9.5px,#3f925a 13.5px,#3a8c66 16.5px,#3e915b 18.5px,#388a6a 21.5px,#38896c 24.5px,#37886e 26.5px,#3b8d63 27.5px,#4a9b46 28.5px,#64a24d 29.5px,#44984c 30.5px,#3f9258 31.5px,#409357 36.5px,#43974f 42.5px,#5ea04b 43.5px,#8cab56 44.5px,#89ab55 45.5px,#4c9c47 48.5px,#3d905f 51.5px,#3b8d63 55.5px,#398c67 60.5px,#398b68 69.5px,#3d905d 71.5px,#388a6a 78.5px,#419554 83.5px,#409357 87.5px,#479a47 90.5px,#5ea04b 91.5px,#67a34e 92.5px,#5ea04b 95.5px,#89ab55 98.5px,#8aab56 99.5px,#69a34e 101.5px,#67a34e 104.5px,#7ca753 106.5px,#78a652 107.5px,#599f4a 108.5px,#6da44f 110.5px,#74a551 113.5px,#7ca753 115.5px,#6da44f 117.5px,#5ba04b 118.5px,#559e49 120.5px,#5ba04b 121.5px,#81a854 122.5px,#a5b25b 125.5px,#7da853 127.5px,#7ca753 128.5px,#abb45c 130.5px,#81a854 135.5px,#8fac56 138.5px,#89ab55 142.5px,#94ae57 143.5px,#76a652 145.5px,#86aa55 148.5px,#7fa853 151.5px,#98af58 153.5px,#76a652 167.5px,#94ae57 169.5px,#84a954 171.5px,#87aa55 173.5px,#72a551 175.5px,#8fac56 181.5px,#a8b35b 182.5px,#b9b35f 184.5px,#b7b65e 185.5px,#93ad57 187.5px,#99af58 188.5px,#afb55c 189.5px,#afb55c 191.5px,#b9b360 193.5px,#b7b65e 198.5px,#99af58 199.5px,#91ad57 200.5px,#9eb059 202.5px,#98af58 204.5px,#b2b65d 205.5px,#bcad62 207.5px,#afb55c 212.5px,#bbae61 213.5px,#b8b55f 223.5px,#9eb059 224.5px,#99af58 225.5px,#7da853 226.5px,#3c8f60 227.5px,#2e7b7f 228.5px,#29707e 230.5px,#29707e 235.5px,#26687d 236.5px)"></div><div style="top:138px;height:1px;background:linear-gradient(90deg,#3b8e62 0.5px,#398b68 5.5px,#409456 9.5px,#3e915c 13.5px,#37896d 15.5px,#3f925a 23.5px,#368770 26.5px,#4a9b46 28.5px,#60a14c 29.5px,#419552 30.5px,#409456 35.5px,#44994b 37.5px,#43974f 38.5px,#8cab56 39.5px,#74a551 40.5px,#44994b 41.5px,#479a47 45.5px,#5ea04b 46.5px,#5ba04b 47.5px,#45994a 48.5px,#3d905f 50.5px,#38896c 57.5px,#3c8e61 61.5px,#388a6a 69.5px,#3d905f 73.5px,#3b8d63 78.5px,#409456 84.5px,#3f9258 87.5px,#44984c 89.5px,#67a34e 91.5px,#64a24d 93.5px,#579f4a 94.5px,#74a551 96.5px,#78a652 97.5px,#91ad57 98.5px,#93ad57 99.5px,#69a34e 101.5px,#599f4a 103.5px,#5ea04b 104.5px,#93ad57 106.5px,#8eac56 107.5px,#67a34e 108.5px,#76a652 113.5px,#7da853 115.5px,#78a652 116.5px,#81a854 117.5px,#67a34e 118.5px,#579f4a 120.5px,#74a551 121.5px,#a3b25a 122.5px,#b2b65d 125.5px,#81a854 127.5px,#7da853 128.5px,#adb45c 130.5px,#a5b25b 131.5px,#8fac56 132.5px,#89ab55 133.5px,#b2b65d 135.5px,#a7b25b 136.5px,#87aa55 137.5px,#86aa55 141.5px,#9db059 143.5px,#78a652 145.5px,#8cab56 147.5px,#9eb059 148.5px,#7ca753 150.5px,#7aa752 151.5px,#9db059 153.5px,#8aab56 155.5px,#8fac56 161.5px,#7aa752 167.5px,#89ab55 169.5px,#7ca753 171.5px,#76a652 174.5px,#6fa450 175.5px,#8cab56 180.5px,#b4b65d 181.5px,#c0a565 183.5px,#ceab85 184.5px,#cfac87 185.5px,#bea863 186.5px,#b4b65d 187.5px,#a0b15a 188.5px,#96ae58 191.5px,#bbaf61 192.5px,#bab061 193.5px,#8eac56 195.5px,#bcad62 197.5px,#bcad62 198.5px,#adb45c 199.5px,#8eac56 200.5px,#a3b25a 202.5px,#a3b25a 203.5px,#bbae61 205.5px,#b8b55f 208.5px,#adb45c 210.5px,#b0b55d 212.5px,#bcad62 213.5px,#adb45c 215.5px,#bcad62 218.5px,#b8b55f 223.5px,#a0b15a 225.5px,#82a954 226.5px,#3c8f60 227.5px,#2d7a7f 228.5px,#296f7e 229.5px,#2b737e 234.5px,#25657d 236.5px)"></div><div style="top:139px;height:1px;background:linear-gradient(90deg,#3a8c66 0.5px,#38896c 5.5px,#44984c 8.5px,#3d905d 11.5px,#3a8c66 14.5px,#3c8f60 22.5px,#3e915c 27.5px,#429650 29.5px,#3f925a 30.5px,#409357 34.5px,#44984c 42.5px,#5ea04b 44.5px,#599f4a 45.5px,#44994b 46.5px,#3c8e61 52.5px,#3f925a 54.5px,#3a8d65 57.5px,#409456 60.5px,#388a6a 65.5px,#3c8f60 78.5px,#409357 84.5px,#419554 88.5px,#45994a 90.5px,#7da853 93.5px,#7aa752 94.5px,#60a14c 95.5px,#72a551 97.5px,#5ea04b 101.5px,#5ba04b 102.5px,#7ca753 104.5px,#8fac56 106.5px,#8cab56 107.5px,#6fa450 109.5px,#6ba44f 112.5px,#84a954 116.5px,#7fa853 117.5px,#559e49 119.5px,#539d48 120.5px,#8fac56 122.5px,#9eb059 125.5px,#87aa55 126.5px,#7fa853 128.5px,#a7b25b 130.5px,#a5b25b 131.5px,#8fac56 133.5px,#adb45c 135.5px,#99af58 137.5px,#7fa853 140.5px,#89ab55 142.5px,#91ad57 143.5px,#76a652 145.5px,#87aa55 148.5px,#7fa853 149.5px,#93ad57 152.5px,#87aa55 160.5px,#81a854 167.5px,#94ae57 169.5px,#93ad57 172.5px,#76a652 175.5px,#86aa55 180.5px,#abb45c 181.5px,#c4a46f 183.5px,#dbb8a2 184.5px,#e4c5b9 185.5px,#caa87b 186.5px,#b9b260 187.5px,#aab35c 188.5px,#a3b25a 190.5px,#bbae61 192.5px,#b9b360 193.5px,#8fac56 194.5px,#87aa55 195.5px,#8eac56 196.5px,#b7b65e 197.5px,#b9b35f 198.5px,#8cab56 200.5px,#98af58 201.5px,#b0b55d 202.5px,#a5b25b 204.5px,#99af58 205.5px,#9eb059 206.5px,#b4b65d 207.5px,#b5b65e 208.5px,#aab35c 209.5px,#bab160 213.5px,#a7b25b 215.5px,#bcad62 218.5px,#b8b45f 223.5px,#a8b35b 225.5px,#86aa55 226.5px,#3d905d 227.5px,#2e7b7f 228.5px,#2a727e 230.5px,#296f7e 235.5px,#276a7d 236.5px)"></div><div style="top:140px;height:1px;background:linear-gradient(90deg,#38896c 0.5px,#37896d 5.5px,#429651 8.5px,#429651 9.5px,#3c8f60 10.5px,#3a8d65 22.5px,#3f925a 27.5px,#3b8e62 28.5px,#43974f 33.5px,#3e915c 35.5px,#43984d 41.5px,#579f4a 43.5px,#60a14c 44.5px,#5ba04b 45.5px,#459a49 46.5px,#3f925a 48.5px,#3d905d 52.5px,#44984c 54.5px,#3f925a 58.5px,#3f9258 61.5px,#388a6a 65.5px,#398b68 71.5px,#3c8e61 77.5px,#429651 84.5px,#43984d 90.5px,#4c9c47 91.5px,#a2b15a 93.5px,#a2b15a 94.5px,#76a652 95.5px,#67a34e 96.5px,#6da44f 98.5px,#60a14c 102.5px,#89ab55 103.5px,#98af58 104.5px,#7da853 107.5px,#94ae57 109.5px,#8eac56 110.5px,#64a24d 111.5px,#6ba44f 113.5px,#8aab56 114.5px,#93ad57 115.5px,#6fa450 118.5px,#67a34e 120.5px,#84a954 123.5px,#89ab55 125.5px,#7ca753 128.5px,#86aa55 129.5px,#a5b25b 130.5px,#a5b25b 131.5px,#93ad57 133.5px,#a7b25b 137.5px,#a2b15a 138.5px,#7fa853 140.5px,#8cab56 148.5px,#82a954 149.5px,#aab35c 151.5px,#84a954 153.5px,#91ad57 157.5px,#89ab55 163.5px,#a3b25a 170.5px,#b5b65e 172.5px,#8fac56 173.5px,#81a854 175.5px,#a0b15a 177.5px,#82a954 179.5px,#87aa55 180.5px,#abb45c 181.5px,#bcad62 182.5px,#bea863 183.5px,#d9b59d 184.5px,#e4c5b9 185.5px,#c0a565 186.5px,#b2b65d 188.5px,#bcad62 190.5px,#b7b65e 193.5px,#8aab56 194.5px,#87aa55 196.5px,#a2b15a 197.5px,#aab35c 198.5px,#91ad57 199.5px,#8aab56 200.5px,#98af58 201.5px,#b8b45f 202.5px,#b9b35f 203.5px,#93ad57 204.5px,#89ab55 205.5px,#93ad57 206.5px,#afb55c 207.5px,#bcad62 211.5px,#b0b55d 212.5px,#b7b65e 213.5px,#a8b35b 215.5px,#bcad62 218.5px,#b8b45f 223.5px,#abb45c 225.5px,#89ab55 226.5px,#3e915b 227.5px,#308080 228.5px,#2b757e 230.5px,#2a727e 236.5px)"></div><div style="top:141px;height:1px;background:linear-gradient(90deg,#368771 0.5px,#398c67 6.5px,#409357 8.5px,#3c8f60 11.5px,#388a6b 16.5px,#3b8d63 20.5px,#388a6b 24.5px,#409357 27.5px,#429651 30.5px,#459a49 33.5px,#3d905d 35.5px,#45994a 38.5px,#5ea04b 41.5px,#539d48 44.5px,#4e9c47 46.5px,#3e915c 50.5px,#3c8f60 53.5px,#409357 55.5px,#3b8d63 61.5px,#388a6b 64.5px,#38896c 71.5px,#3d905f 78.5px,#45994a 83.5px,#3e915c 86.5px,#4a9b46 91.5px,#93ad57 93.5px,#91ad57 94.5px,#5ea04b 96.5px,#76a652 99.5px,#72a551 102.5px,#84a954 104.5px,#5ba04b 106.5px,#6ba44f 108.5px,#82a954 109.5px,#69a34e 111.5px,#6da44f 113.5px,#7aa752 115.5px,#64a24d 117.5px,#72a551 123.5px,#87aa55 124.5px,#8fac56 125.5px,#7da853 126.5px,#81a854 129.5px,#8eac56 130.5px,#86aa55 133.5px,#81a854 135.5px,#93ad57 141.5px,#7ca753 145.5px,#94ae57 147.5px,#96ae58 148.5px,#87aa55 150.5px,#8fac56 151.5px,#89ab55 153.5px,#a3b25a 157.5px,#87aa55 164.5px,#9eb059 169.5px,#a0b15a 172.5px,#89ab55 175.5px,#aab35c 177.5px,#91ad57 179.5px,#96ae58 180.5px,#b8b45f 182.5px,#b7b75e 183.5px,#bcac62 185.5px,#b0b55d 186.5px,#b0b55d 187.5px,#9eb059 189.5px,#9baf59 190.5px,#bcad62 192.5px,#bab061 193.5px,#9baf59 194.5px,#89ab55 195.5px,#98af58 198.5px,#89ab55 199.5px,#89ab55 200.5px,#96ae58 201.5px,#b4b65d 202.5px,#b2b65d 203.5px,#8fac56 205.5px,#93ad57 206.5px,#aab35c 207.5px,#b0b55d 208.5px,#a8b35b 209.5px,#b0b55d 212.5px,#bbae61 213.5px,#a3b25a 215.5px,#bcad62 218.5px,#b2b65d 224.5px,#adb45c 225.5px,#8aab56 226.5px,#3f925a 227.5px,#30817e 228.5px,#2d787f 230.5px,#2c777f 236.5px)"></div><div style="top:142px;height:1px;background:linear-gradient(90deg,#37896d 0.5px,#3b8d63 12.5px,#348576 15.5px,#3c8f60 19.5px,#3b8d63 25.5px,#44994b 28.5px,#5ea04b 31.5px,#509d48 32.5px,#419554 33.5px,#3d905d 35.5px,#479a47 36.5px,#72a551 38.5px,#7da853 39.5px,#509d48 41.5px,#509d48 42.5px,#67a34e 43.5px,#8aab56 44.5px,#7da853 45.5px,#4e9c47 46.5px,#3f9258 48.5px,#3c8e61 53.5px,#3e915c 55.5px,#38896c 64.5px,#37886e 71.5px,#3d905f 78.5px,#4e9c47 83.5px,#3f925a 85.5px,#4a9b46 91.5px,#84a954 93.5px,#7da853 99.5px,#84a954 101.5px,#599f4a 105.5px,#559e49 108.5px,#69a34e 110.5px,#72a551 115.5px,#599f4a 118.5px,#62a14c 121.5px,#78a652 123.5px,#a0b15a 125.5px,#82a954 126.5px,#7da853 136.5px,#87aa55 139.5px,#9eb059 140.5px,#9eb059 141.5px,#7fa853 144.5px,#84a954 146.5px,#91ad57 148.5px,#82a954 151.5px,#a3b25a 155.5px,#9eb059 159.5px,#87aa55 164.5px,#a0b15a 169.5px,#8aab56 171.5px,#96ae58 173.5px,#a5b25b 174.5px,#a8b35b 176.5px,#b2b65d 177.5px,#a2b15a 180.5px,#a7b25b 182.5px,#98af58 184.5px,#91ad57 186.5px,#a8b35b 187.5px,#8fac56 189.5px,#94ae57 191.5px,#bcad62 192.5px,#b0b55d 195.5px,#a7b25b 196.5px,#8fac56 197.5px,#89ab55 200.5px,#adb45c 202.5px,#afb55c 204.5px,#b8b45f 206.5px,#a8b35b 207.5px,#afb55c 208.5px,#a0b15a 209.5px,#9db059 212.5px,#bcad62 213.5px,#bab160 214.5px,#a7b25b 215.5px,#bab160 217.5px,#b9b35f 223.5px,#afb55c 225.5px,#8aab56 226.5px,#3f925a 227.5px,#308080 228.5px,#2c777f 230.5px,#2b757e 236.5px)"></div><div style="top:143px;height:1px;background:linear-gradient(90deg,#398b68 0.5px,#38896c 6.5px,#3a8d65 9.5px,#388a6b 13.5px,#338378 15.5px,#3c8f60 23.5px,#3a8d65 25.5px,#419552 27.5px,#429651 32.5px,#3d905d 35.5px,#4a9b46 36.5px,#5ba04b 37.5px,#539d48 40.5px,#479a47 41.5px,#4a9b46 42.5px,#76a652 43.5px,#93ad57 44.5px,#7fa853 45.5px,#44994b 46.5px,#3d905f 48.5px,#37886e 72.5px,#3f925a 78.5px,#4a9b46 82.5px,#4e9c47 83.5px,#409455 86.5px,#4c9c47 91.5px,#60a14c 93.5px,#5ba04b 94.5px,#9db059 96.5px,#98af58 97.5px,#72a551 99.5px,#64a24d 100.5px,#62a14c 103.5px,#69a34e 104.5px,#559e49 105.5px,#4c9c47 108.5px,#62a14c 109.5px,#67a34e 112.5px,#69a34e 115.5px,#559e49 118.5px,#60a14c 121.5px,#7ca753 123.5px,#87aa55 130.5px,#78a652 132.5px,#81a854 134.5px,#94ae57 135.5px,#87aa55 137.5px,#84a954 139.5px,#9baf59 140.5px,#9db059 141.5px,#86aa55 143.5px,#82a954 146.5px,#8cab56 148.5px,#7da853 152.5px,#8fac56 154.5px,#b0b55d 156.5px,#8cab56 158.5px,#94ae57 164.5px,#89ab55 166.5px,#99af58 170.5px,#9baf59 176.5px,#b7b75e 178.5px,#bab160 181.5px,#b8b45f 182.5px,#87aa55 184.5px,#82a954 186.5px,#94ae57 187.5px,#98af58 190.5px,#bcad62 192.5px,#b0b55d 194.5px,#a2b15a 195.5px,#a5b25b 198.5px,#89ab55 200.5px,#a2b15a 202.5px,#99af58 204.5px,#aab35c 208.5px,#98af58 209.5px,#98af58 211.5px,#bcad62 213.5px,#b9b360 214.5px,#a7b25b 215.5px,#bcad62 218.5px,#b2b65d 225.5px,#89ab55 226.5px,#3e915b 227.5px,#2f7e7f 228.5px,#2b737e 230.5px,#2b737e 236.5px)"></div><div style="top:144px;height:1px;background:linear-gradient(90deg,#3c8f60 0.5px,#3c8e61 3.5px,#38896c 6.5px,#3d905f 7.5px,#348576 14.5px,#338477 16.5px,#3d905d 23.5px,#398c67 25.5px,#3f925a 27.5px,#3e915b 34.5px,#4c9c47 36.5px,#579f4a 37.5px,#43984d 39.5px,#60a14c 42.5px,#99af58 44.5px,#82a954 45.5px,#429650 46.5px,#3c8f60 49.5px,#3a8d65 55.5px,#3b8d63 63.5px,#37896d 64.5px,#368770 72.5px,#409357 78.5px,#479a47 83.5px,#429651 86.5px,#4a9b46 89.5px,#44994b 90.5px,#64a24d 92.5px,#67a34e 93.5px,#5ba04b 94.5px,#64a24d 95.5px,#abb45c 96.5px,#9db059 97.5px,#7aa752 98.5px,#60a14c 100.5px,#5ba04b 103.5px,#67a34e 104.5px,#4e9c47 107.5px,#72a551 109.5px,#6da44f 110.5px,#5ba04b 111.5px,#67a34e 113.5px,#7fa853 114.5px,#7da853 115.5px,#599f4a 117.5px,#60a14c 121.5px,#78a652 123.5px,#7ca753 126.5px,#a3b25a 130.5px,#7aa752 132.5px,#7ca753 133.5px,#b4b65d 135.5px,#8cab56 137.5px,#86aa55 139.5px,#99af58 140.5px,#9baf59 141.5px,#89ab55 142.5px,#82a954 146.5px,#87aa55 149.5px,#84a954 154.5px,#a5b25b 155.5px,#b8b45f 156.5px,#8cab56 158.5px,#87aa55 160.5px,#9eb059 163.5px,#9db059 164.5px,#87aa55 166.5px,#94ae57 169.5px,#b7b75e 171.5px,#b8b45f 172.5px,#93ad57 174.5px,#9db059 177.5px,#b9b260 178.5px,#bab160 183.5px,#9db059 184.5px,#7fa853 186.5px,#98af58 190.5px,#b7b65e 191.5px,#bcad62 193.5px,#b4b65d 194.5px,#9db059 195.5px,#bab061 197.5px,#bbaf61 198.5px,#96ae58 200.5px,#9db059 202.5px,#87aa55 205.5px,#89ab55 206.5px,#9eb059 207.5px,#a0b15a 209.5px,#b7b75e 210.5px,#bbaf61 214.5px,#a3b25a 215.5px,#afb55c 217.5px,#bcad62 218.5px,#b2b65d 225.5px,#89ab55 226.5px,#3e915c 227.5px,#2f7d7f 228.5px,#2a727e 230.5px,#2a727e 236.5px)"></div><div style="top:145px;height:1px;background:linear-gradient(90deg,#3c8f60 0.5px,#38896c 6.5px,#398b68 13.5px,#31827c 15.5px,#388a6a 21.5px,#3e915c 23.5px,#398b68 25.5px,#3d905d 29.5px,#3d905f 35.5px,#539d48 36.5px,#5ba04b 37.5px,#45994a 38.5px,#559e49 40.5px,#67a34e 41.5px,#509d48 43.5px,#579f4a 44.5px,#509d48 45.5px,#3e915c 47.5px,#3e915b 50.5px,#37896d 63.5px,#368770 72.5px,#429651 82.5px,#429650 88.5px,#509d48 90.5px,#64a24d 91.5px,#67a34e 93.5px,#5ea04b 94.5px,#64a24d 95.5px,#a7b25b 96.5px,#96ae58 97.5px,#6ba44f 98.5px,#599f4a 99.5px,#579f4a 103.5px,#64a24d 104.5px,#4e9c47 106.5px,#7aa752 109.5px,#6da44f 110.5px,#539d48 111.5px,#579f4a 113.5px,#64a24d 114.5px,#5ba04b 118.5px,#7fa853 124.5px,#74a551 128.5px,#7ca753 130.5px,#74a551 133.5px,#9baf59 135.5px,#81a854 137.5px,#87aa55 139.5px,#9baf59 140.5px,#9baf59 141.5px,#89ab55 143.5px,#8fac56 148.5px,#78a652 152.5px,#84a954 154.5px,#a7b25b 156.5px,#87aa55 158.5px,#87aa55 160.5px,#a7b25b 163.5px,#a7b25b 164.5px,#8eac56 165.5px,#81a854 167.5px,#94ae57 172.5px,#7da853 174.5px,#87aa55 177.5px,#b8b55f 179.5px,#a8b35b 182.5px,#82a954 187.5px,#9eb059 191.5px,#b4b65d 192.5px,#b2b65d 193.5px,#98af58 194.5px,#93ad57 195.5px,#b7b75e 197.5px,#b7b75e 198.5px,#96ae58 200.5px,#9db059 202.5px,#86aa55 205.5px,#87aa55 206.5px,#9eb059 208.5px,#94ae57 209.5px,#b4b65d 211.5px,#b8b45f 214.5px,#9eb059 215.5px,#a8b35b 217.5px,#bbaf61 218.5px,#b0b55d 225.5px,#8aab56 226.5px,#3e915b 227.5px,#2f7d7f 228.5px,#29707e 229.5px,#2b737e 236.5px)"></div><div style="top:146px;height:1px;background:linear-gradient(90deg,#3b8e62 0.5px,#388a6b 9.5px,#3d905f 12.5px,#32827b 15.5px,#3c8e61 21.5px,#43984d 23.5px,#398b68 25.5px,#3c8e61 27.5px,#409456 29.5px,#3c8e61 31.5px,#3c8e61 35.5px,#559e49 36.5px,#5ba04b 37.5px,#409455 38.5px,#4c9c47 40.5px,#5ba04b 41.5px,#4c9c47 42.5px,#3d905f 43.5px,#429650 49.5px,#398c67 53.5px,#358672 63.5px,#388a6b 67.5px,#398c67 74.5px,#3d905f 79.5px,#3f9258 84.5px,#409455 89.5px,#4e9c47 90.5px,#72a551 91.5px,#5ea04b 92.5px,#559e49 94.5px,#5ea04b 95.5px,#9eb059 96.5px,#8cab56 97.5px,#599f4a 98.5px,#4c9c47 99.5px,#509d48 103.5px,#5ba04b 104.5px,#4c9c47 105.5px,#5ba04b 107.5px,#78a652 109.5px,#559e49 111.5px,#559e49 115.5px,#69a34e 118.5px,#81a854 119.5px,#89ab55 121.5px,#81a854 125.5px,#72a551 126.5px,#72a551 131.5px,#72a551 133.5px,#99af58 138.5px,#8eac56 143.5px,#a3b25a 146.5px,#7aa752 151.5px,#99af58 157.5px,#91ad57 159.5px,#adb45c 164.5px,#8cab56 165.5px,#78a652 167.5px,#89ab55 169.5px,#7ca753 171.5px,#7aa752 176.5px,#82a954 178.5px,#94ae57 179.5px,#8fac56 180.5px,#7da853 181.5px,#96ae58 184.5px,#7ca753 187.5px,#96ae58 190.5px,#89ab55 195.5px,#a8b35b 197.5px,#a0b15a 199.5px,#99af58 200.5px,#a2b15a 202.5px,#86aa55 204.5px,#82a954 206.5px,#99af58 208.5px,#8aab56 209.5px,#a7b25b 211.5px,#a8b35b 212.5px,#b7b75e 213.5px,#b7b75e 214.5px,#9db059 215.5px,#a8b35b 217.5px,#bcad62 219.5px,#b7b75e 224.5px,#adb45c 225.5px,#89ab55 226.5px,#3f925a 227.5px,#2e7b7f 228.5px,#286d7d 230.5px,#2d787f 235.5px,#2b757e 236.5px)"></div><div style="top:147px;height:1px;background:linear-gradient(90deg,#388a6b 0.5px,#37896d 6.5px,#37896d 9.5px,#398c67 13.5px,#328379 15.5px,#3a8d65 21.5px,#43984d 23.5px,#409357 24.5px,#37886e 25.5px,#3c8f60 30.5px,#3b8d63 35.5px,#599f4a 36.5px,#5ea04b 37.5px,#3f925a 38.5px,#3c8f60 40.5px,#43984d 41.5px,#45994a 42.5px,#3b8d63 48.5px,#419554 49.5px,#398c67 55.5px,#3a8c66 58.5px,#368770 61.5px,#398c67 66.5px,#358673 71.5px,#3c8e61 81.5px,#3e915c 84.5px,#3f9258 89.5px,#4e9c47 90.5px,#76a652 91.5px,#69a34e 92.5px,#45994a 93.5px,#559e49 95.5px,#76a652 96.5px,#60a14c 98.5px,#6ba44f 100.5px,#60a14c 103.5px,#559e49 106.5px,#5ba04b 108.5px,#4c9c47 110.5px,#64a24d 113.5px,#5ba04b 117.5px,#81a854 120.5px,#98af58 122.5px,#84a954 123.5px,#599f4a 124.5px,#62a14c 128.5px,#6fa450 130.5px,#64a24d 133.5px,#72a551 136.5px,#91ad57 137.5px,#a0b15a 138.5px,#87aa55 143.5px,#98af58 144.5px,#b7b75e 145.5px,#b8b55f 146.5px,#a8b35b 147.5px,#8cab56 148.5px,#74a551 150.5px,#84a954 156.5px,#93ad57 158.5px,#89ab55 164.5px,#74a551 167.5px,#78a652 170.5px,#8fac56 172.5px,#78a652 174.5px,#74a551 176.5px,#89ab55 179.5px,#82a954 186.5px,#9eb059 190.5px,#84a954 192.5px,#7da853 195.5px,#a2b15a 201.5px,#7fa853 205.5px,#7da853 206.5px,#94ae57 208.5px,#7da853 209.5px,#8cab56 211.5px,#a8b35b 212.5px,#bcad62 213.5px,#b5b65e 218.5px,#bcad62 220.5px,#b5b65e 224.5px,#aab35c 225.5px,#89ab55 226.5px,#3f9258 227.5px,#2e7b7f 228.5px,#276a7d 230.5px,#2d7a7f 235.5px,#2c777f 236.5px)"></div><div style="top:148px;height:1px;background:linear-gradient(90deg,#368770 0.5px,#3b8d63 4.5px,#358673 8.5px,#38896c 13.5px,#368771 16.5px,#38896c 21.5px,#429651 23.5px,#3e915b 24.5px,#358673 25.5px,#3a8c66 28.5px,#3f9258 31.5px,#398b68 33.5px,#3c8f60 35.5px,#579f4a 36.5px,#5ba04b 37.5px,#409357 38.5px,#398b68 39.5px,#409456 42.5px,#398c67 48.5px,#409357 49.5px,#398b68 55.5px,#3b8e62 57.5px,#368770 60.5px,#38896c 68.5px,#37896d 75.5px,#3a8c66 81.5px,#3c8e61 84.5px,#3c8e61 88.5px,#3f9258 89.5px,#559e49 90.5px,#72a551 91.5px,#7aa752 92.5px,#579f4a 93.5px,#4a9b46 97.5px,#7ca753 101.5px,#6ba44f 103.5px,#559e49 105.5px,#62a14c 107.5px,#4e9c47 108.5px,#459a49 110.5px,#6da44f 112.5px,#72a551 115.5px,#559e49 118.5px,#62a14c 120.5px,#7da853 121.5px,#8cab56 122.5px,#86aa55 123.5px,#4e9c47 124.5px,#509d48 126.5px,#6ba44f 127.5px,#5ea04b 129.5px,#6ba44f 131.5px,#6fa450 136.5px,#93ad57 137.5px,#a3b25a 138.5px,#87aa55 140.5px,#7fa853 143.5px,#aab35c 145.5px,#aab35c 147.5px,#84a954 148.5px,#6ba44f 150.5px,#6fa450 156.5px,#81a854 158.5px,#78a652 163.5px,#7aa752 167.5px,#72a551 169.5px,#78a652 170.5px,#9db059 171.5px,#a8b35b 172.5px,#6fa450 174.5px,#6da44f 175.5px,#91ad57 177.5px,#86aa55 180.5px,#9baf59 182.5px,#81a854 185.5px,#9db059 187.5px,#aab35c 190.5px,#8eac56 191.5px,#6fa450 194.5px,#84a954 196.5px,#7ca753 198.5px,#9baf59 201.5px,#99af58 202.5px,#81a854 204.5px,#7ca753 206.5px,#91ad57 208.5px,#7da853 209.5px,#7ca753 210.5px,#87aa55 211.5px,#a5b25b 212.5px,#bcad62 213.5px,#b9b260 217.5px,#b0b55d 218.5px,#bcad62 220.5px,#b4b65d 224.5px,#a8b35b 225.5px,#89ab55 226.5px,#3f9258 227.5px,#2f7d7f 228.5px,#296f7e 229.5px,#2c777f 236.5px)"></div><div style="top:149px;height:1px;background:linear-gradient(90deg,#37886e 0.5px,#37886e 6.5px,#358673 9.5px,#358673 14.5px,#368771 21.5px,#3f925a 23.5px,#348576 25.5px,#398c67 28.5px,#398c67 33.5px,#3a8d65 38.5px,#368771 43.5px,#3b8d63 45.5px,#388a6b 48.5px,#3d905d 50.5px,#358672 55.5px,#338477 63.5px,#368770 66.5px,#368770 76.5px,#388a6b 79.5px,#398c67 84.5px,#3b8e62 89.5px,#4c9c47 91.5px,#409456 93.5px,#44984c 96.5px,#409455 99.5px,#4e9c47 103.5px,#419552 106.5px,#479a47 108.5px,#45994a 111.5px,#62a14c 114.5px,#60a14c 117.5px,#559e49 120.5px,#6da44f 122.5px,#60a14c 123.5px,#44994b 124.5px,#459a49 126.5px,#509d48 127.5px,#5ea04b 133.5px,#67a34e 136.5px,#62a14c 138.5px,#78a652 141.5px,#76a652 144.5px,#91ad57 145.5px,#96ae58 146.5px,#74a551 148.5px,#62a14c 151.5px,#5ea04b 155.5px,#6fa450 158.5px,#69a34e 161.5px,#84a954 166.5px,#6fa450 169.5px,#8cab56 172.5px,#6da44f 175.5px,#6ba44f 176.5px,#7ca753 179.5px,#8aab56 182.5px,#81a854 183.5px,#7da853 185.5px,#78a652 187.5px,#8fac56 190.5px,#78a652 191.5px,#67a34e 194.5px,#7fa853 196.5px,#82a954 200.5px,#99af58 202.5px,#78a652 206.5px,#93ad57 208.5px,#81a854 209.5px,#7da853 210.5px,#87aa55 211.5px,#b9b260 213.5px,#b8b45f 217.5px,#abb45c 218.5px,#bcad62 219.5px,#b2b65d 224.5px,#a5b25b 225.5px,#87aa55 226.5px,#409357 227.5px,#308080 228.5px,#2a727e 229.5px,#2d787f 236.5px)"></div><div style="top:150px;height:1px;background:linear-gradient(90deg,#37896d 0.5px,#338477 9.5px,#358673 14.5px,#358672 21.5px,#3a8d65 23.5px,#338378 25.5px,#3a8c66 28.5px,#37896d 31.5px,#3b8e62 34.5px,#348576 36.5px,#388a6b 39.5px,#32827b 42.5px,#398b68 46.5px,#398b68 52.5px,#32827b 54.5px,#31827c 63.5px,#38896c 65.5px,#348576 70.5px,#37896d 73.5px,#348575 75.5px,#3b8e62 78.5px,#38896c 84.5px,#3e915c 94.5px,#409456 96.5px,#3e915c 99.5px,#3f9258 104.5px,#3b8d63 105.5px,#459a49 109.5px,#44984c 112.5px,#5ea04b 117.5px,#44994b 123.5px,#45994a 129.5px,#579f4a 135.5px,#4c9c47 137.5px,#6ba44f 141.5px,#6da44f 144.5px,#64a24d 146.5px,#6ba44f 148.5px,#599f4a 150.5px,#5ba04b 156.5px,#60a14c 159.5px,#60a14c 161.5px,#8cab56 164.5px,#6da44f 171.5px,#7aa752 174.5px,#69a34e 175.5px,#64a24d 176.5px,#72a551 177.5px,#67a34e 180.5px,#7ca753 182.5px,#82a954 184.5px,#60a14c 188.5px,#6fa450 190.5px,#5ea04b 192.5px,#5ea04b 194.5px,#7fa853 196.5px,#87aa55 201.5px,#a0b15a 202.5px,#9db059 203.5px,#74a551 206.5px,#98af58 208.5px,#87aa55 209.5px,#8fac56 211.5px,#b9b360 214.5px,#b2b65d 217.5px,#a7b25b 218.5px,#bcad62 219.5px,#adb45c 224.5px,#86aa55 226.5px,#409455 227.5px,#31817d 228.5px,#2b737e 230.5px,#2b737e 235.5px,#2d787f 236.5px)"></div><div style="top:151px;height:1px;background:linear-gradient(90deg,#368770 0.5px,#308080 8.5px,#368771 13.5px,#338477 21.5px,#38896c 23.5px,#31827c 25.5px,#38896c 27.5px,#348575 32.5px,#348576 35.5px,#31827c 43.5px,#388a6a 46.5px,#368771 51.5px,#31817d 54.5px,#2d7a7f 58.5px,#348576 64.5px,#368771 73.5px,#358673 76.5px,#388a6b 79.5px,#358672 84.5px,#3a8c66 92.5px,#3e915c 96.5px,#3c8e61 99.5px,#409357 104.5px,#3c8e61 106.5px,#429651 108.5px,#45994a 116.5px,#4a9b46 120.5px,#429650 129.5px,#479a47 136.5px,#479a47 138.5px,#60a14c 140.5px,#62a14c 144.5px,#5ea04b 146.5px,#62a14c 148.5px,#539d48 150.5px,#60a14c 153.5px,#539d48 155.5px,#599f4a 158.5px,#4a9b46 160.5px,#579f4a 162.5px,#76a652 164.5px,#60a14c 170.5px,#72a551 172.5px,#60a14c 175.5px,#6da44f 178.5px,#5ba04b 180.5px,#7aa752 184.5px,#5ba04b 188.5px,#69a34e 190.5px,#599f4a 193.5px,#64a24d 195.5px,#78a652 196.5px,#7ca753 200.5px,#9eb059 202.5px,#76a652 206.5px,#94ae57 208.5px,#84a954 209.5px,#8cab56 211.5px,#afb55c 213.5px,#b7b75e 214.5px,#98af58 215.5px,#94ae57 218.5px,#b9b360 219.5px,#b9b260 221.5px,#a7b25b 224.5px,#84a954 226.5px,#419554 227.5px,#31817d 228.5px,#2b737e 230.5px,#2b757e 236.5px)"></div><div style="top:152px;height:1px;background:linear-gradient(90deg,#358672 0.5px,#308080 7.5px,#358672 13.5px,#338378 21.5px,#368771 23.5px,#308080 25.5px,#348575 28.5px,#338378 43.5px,#3a8c66 44.5px,#2e7b7f 53.5px,#2f7d7f 56.5px,#2e7b7f 59.5px,#348576 69.5px,#358673 73.5px,#348576 76.5px,#37886e 79.5px,#368771 83.5px,#338477 87.5px,#3a8d65 92.5px,#429651 94.5px,#398b68 97.5px,#409456 104.5px,#3d905f 106.5px,#3f9258 109.5px,#44994b 121.5px,#409456 129.5px,#44994b 136.5px,#4a9b46 139.5px,#60a14c 143.5px,#539d48 145.5px,#5ea04b 148.5px,#559e49 150.5px,#69a34e 153.5px,#579f4a 156.5px,#62a14c 158.5px,#479a47 160.5px,#62a14c 164.5px,#559e49 170.5px,#72a551 172.5px,#599f4a 174.5px,#5ea04b 176.5px,#64a24d 178.5px,#5ea04b 181.5px,#72a551 184.5px,#599f4a 187.5px,#69a34e 190.5px,#5ea04b 191.5px,#5ba04b 194.5px,#78a652 196.5px,#7aa752 199.5px,#96ae58 202.5px,#6fa450 206.5px,#91ad57 208.5px,#7fa853 209.5px,#89ab55 211.5px,#b0b55d 213.5px,#b0b55d 214.5px,#87aa55 215.5px,#84a954 217.5px,#8eac56 218.5px,#b7b75e 219.5px,#bcad62 220.5px,#a2b15a 224.5px,#86aa55 226.5px,#419552 227.5px,#31817d 228.5px,#2b757e 229.5px,#29707e 236.5px)"></div><div style="top:153px;height:1px;background:linear-gradient(90deg,#348576 0.5px,#2e7b7f 7.5px,#338378 14.5px,#32827b 21.5px,#358673 23.5px,#30817e 26.5px,#32827b 32.5px,#31827c 43.5px,#348575 45.5px,#308080 51.5px,#2d7a7f 54.5px,#328379 63.5px,#358673 73.5px,#328379 76.5px,#368771 79.5px,#348575 83.5px,#348576 87.5px,#3b8d63 94.5px,#398b68 98.5px,#3f925a 109.5px,#479a47 120.5px,#3e915c 128.5px,#45994a 135.5px,#459a49 139.5px,#559e49 143.5px,#539d48 146.5px,#599f4a 148.5px,#4c9c47 150.5px,#5ea04b 153.5px,#5ea04b 158.5px,#479a47 160.5px,#5ba04b 166.5px,#509d48 170.5px,#62a14c 172.5px,#509d48 175.5px,#5ea04b 178.5px,#60a14c 183.5px,#6ba44f 184.5px,#67a34e 190.5px,#5ba04b 191.5px,#5ea04b 194.5px,#78a652 196.5px,#6da44f 199.5px,#87aa55 202.5px,#69a34e 205.5px,#67a34e 206.5px,#87aa55 208.5px,#76a652 209.5px,#82a954 211.5px,#abb45c 213.5px,#b0b55d 214.5px,#86aa55 215.5px,#7da853 216.5px,#98af58 218.5px,#b9b35f 219.5px,#bcad62 220.5px,#b0b55d 222.5px,#a7b25b 224.5px,#86aa55 226.5px,#419552 227.5px,#31817d 228.5px,#2b757e 229.5px,#296f7e 236.5px)"></div><div style="top:154px;height:1px;background:linear-gradient(90deg,#328379 0.5px,#2e7b7f 8.5px,#31817d 17.5px,#348576 23.5px,#2f7e7f 26.5px,#32827b 32.5px,#328379 48.5px,#2b757e 53.5px,#31827c 63.5px,#348575 73.5px,#328379 76.5px,#37896d 91.5px,#3a8c66 98.5px,#3d905f 103.5px,#419552 115.5px,#4c9c47 118.5px,#3e915c 128.5px,#43974f 133.5px,#4c9c47 140.5px,#4e9c47 146.5px,#559e49 148.5px,#479a47 150.5px,#559e49 153.5px,#579f4a 155.5px,#60a14c 157.5px,#459a49 160.5px,#4e9c47 165.5px,#559e49 167.5px,#4c9c47 170.5px,#5ea04b 172.5px,#4c9c47 175.5px,#5ea04b 179.5px,#599f4a 183.5px,#64a24d 185.5px,#5ea04b 192.5px,#64a24d 195.5px,#6fa450 196.5px,#69a34e 199.5px,#82a954 202.5px,#6ba44f 204.5px,#64a24d 206.5px,#86aa55 208.5px,#74a551 209.5px,#7fa853 211.5px,#a7b25b 213.5px,#afb55c 214.5px,#8aab56 215.5px,#8fac56 217.5px,#99af58 218.5px,#b8b55f 219.5px,#bcad62 220.5px,#b0b55d 222.5px,#a8b35b 224.5px,#86aa55 226.5px,#419552 227.5px,#32827b 228.5px,#2c777f 229.5px,#29707e 236.5px)"></div><div style="top:155px;height:1px;background:linear-gradient(90deg,#30817e 0.5px,#2d7a7f 9.5px,#308080 17.5px,#328379 23.5px,#2f7d7f 26.5px,#2f7e7f 38.5px,#30817e 43.5px,#32827b 46.5px,#2f7d7f 51.5px,#2c777f 53.5px,#2d7a7f 56.5px,#2d7a7f 61.5px,#31827c 67.5px,#368770 90.5px,#3e915b 103.5px,#409455 115.5px,#4a9b46 118.5px,#3f9258 126.5px,#479a47 139.5px,#509d48 144.5px,#4e9c47 148.5px,#45994a 151.5px,#559e49 157.5px,#459a49 161.5px,#459a49 165.5px,#509d48 167.5px,#479a47 170.5px,#5ba04b 172.5px,#459a49 175.5px,#5ba04b 178.5px,#4e9c47 182.5px,#5ea04b 185.5px,#4e9c47 188.5px,#599f4a 190.5px,#599f4a 193.5px,#6da44f 196.5px,#5ea04b 198.5px,#7da853 202.5px,#6ba44f 204.5px,#64a24d 206.5px,#86aa55 208.5px,#74a551 209.5px,#86aa55 212.5px,#a8b35b 214.5px,#8aab56 215.5px,#96ae58 218.5px,#b2b65d 219.5px,#b9b260 220.5px,#a8b35b 222.5px,#9eb059 225.5px,#86aa55 226.5px,#429651 227.5px,#338477 228.5px,#2e7b7f 231.5px,#2a727e 236.5px)"></div><div style="top:156px;height:1px;background:linear-gradient(90deg,#2f7e7f 0.5px,#2b757e 9.5px,#31817d 16.5px,#2e7b7f 19.5px,#2f7d7f 24.5px,#2f7e7f 38.5px,#328379 46.5px,#2e7b7f 51.5px,#2c777f 53.5px,#30817e 55.5px,#2b737e 60.5px,#31817d 66.5px,#32827b 71.5px,#368770 89.5px,#409455 103.5px,#3e915c 113.5px,#4a9b46 118.5px,#3f925a 125.5px,#4c9c47 141.5px,#509d48 144.5px,#4c9c47 148.5px,#459a49 155.5px,#479a47 160.5px,#45994a 170.5px,#599f4a 172.5px,#44994b 175.5px,#579f4a 178.5px,#479a47 182.5px,#599f4a 185.5px,#4a9b46 188.5px,#6da44f 196.5px,#5ba04b 198.5px,#78a652 202.5px,#6ba44f 204.5px,#67a34e 206.5px,#6fa450 207.5px,#87aa55 208.5px,#76a652 209.5px,#82a954 212.5px,#a7b25b 214.5px,#8aab56 215.5px,#94ae57 218.5px,#b8b45f 220.5px,#a3b25a 222.5px,#a0b15a 225.5px,#86aa55 226.5px,#429650 227.5px,#348575 228.5px,#2f7d7f 230.5px,#2b737e 236.5px)"></div><div style="top:157px;height:1px;background:linear-gradient(90deg,#2f7e7f 0.5px,#2b757e 11.5px,#2f7e7f 16.5px,#2b737e 18.5px,#2f7e7f 23.5px,#31827c 44.5px,#2d7a7f 51.5px,#2b757e 53.5px,#30817e 55.5px,#2c777f 61.5px,#31827c 66.5px,#31827c 71.5px,#398c67 91.5px,#419552 103.5px,#3e915c 109.5px,#3f9258 115.5px,#4a9b46 118.5px,#409357 126.5px,#4c9c47 140.5px,#4a9b46 147.5px,#459a49 156.5px,#479a47 171.5px,#579f4a 172.5px,#43984d 175.5px,#559e49 178.5px,#479a47 183.5px,#579f4a 184.5px,#509d48 189.5px,#5ba04b 190.5px,#6da44f 196.5px,#599f4a 198.5px,#67a34e 201.5px,#74a551 202.5px,#69a34e 204.5px,#69a34e 206.5px,#8cab56 208.5px,#7da853 209.5px,#84a954 212.5px,#a7b25b 214.5px,#8aab56 215.5px,#98af58 218.5px,#b8b45f 220.5px,#a5b25b 221.5px,#a0b15a 225.5px,#87aa55 226.5px,#429650 227.5px,#348576 228.5px,#2d7a7f 230.5px,#2a727e 236.5px)"></div></div><svg width="357" height="510" viewBox="0 0 357 510"><clipPath id="ca"><rect x="40.7" y="1.8" width="236.5" height="78.2"/></clipPath>
<clipPath id="cb"><rect x="40.7" y="80.0" width="236.5" height="78.5"/></clipPath>
<path d="M40.70,14.50 C40.88,14.40 41.17,14.57 41.80,13.90 C42.43,13.23 43.53,11.35 44.50,10.50 C45.47,9.65 46.68,8.85 47.60,8.80 C48.52,8.75 49.28,9.57 50.00,10.20 C50.72,10.83 50.97,10.73 51.90,12.60 C52.83,14.47 54.55,18.47 55.60,21.40 C56.65,24.33 57.43,27.88 58.20,30.20 C58.97,32.52 59.37,35.50 60.20,35.30 C61.03,35.10 62.23,30.58 63.20,29.00 C64.17,27.42 65.17,26.55 66.00,25.80 C66.83,25.05 67.20,24.60 68.20,24.50 C69.20,24.40 70.53,24.03 72.00,25.20 C73.47,26.37 75.32,28.98 77.00,31.50 C78.68,34.02 80.62,37.35 82.10,40.30 C83.58,43.25 84.72,47.22 85.90,49.20 C87.08,51.18 88.15,52.20 89.20,52.20 C90.25,52.20 90.95,50.67 92.20,49.20 C93.45,47.73 95.43,44.03 96.70,43.40 C97.97,42.77 98.75,44.23 99.80,45.40 C100.85,46.57 101.97,50.07 103.00,50.40 C104.03,50.73 104.95,48.45 106.00,47.40 C107.05,46.35 108.12,44.02 109.30,44.10 C110.48,44.18 111.53,46.63 113.10,47.90 C114.67,49.17 117.47,50.60 118.70,51.70 C119.93,52.80 119.78,53.28 120.50,54.50 C121.22,55.72 122.03,57.87 123.00,59.00 C123.97,60.13 125.12,61.68 126.30,61.30 C127.48,60.92 128.83,58.02 130.10,56.70 C131.37,55.38 132.65,53.40 133.90,53.40 C135.15,53.40 136.13,55.38 137.60,56.70 C139.07,58.02 141.02,61.00 142.70,61.30 C144.38,61.60 146.02,59.38 147.70,58.50 C149.38,57.62 151.42,56.85 152.80,56.00 C154.18,55.15 154.87,53.57 156.00,53.40 C157.13,53.23 158.45,55.50 159.60,55.00 C160.75,54.50 161.93,51.80 162.90,50.40 C163.87,49.00 164.43,47.23 165.40,46.60 C166.37,45.97 167.53,46.25 168.70,46.60 C169.87,46.95 171.18,48.70 172.40,48.70 C173.62,48.70 174.87,47.92 176.00,46.60 C177.13,45.28 178.12,42.60 179.20,40.80 C180.28,39.00 181.45,36.85 182.50,35.80 C183.55,34.75 184.48,34.37 185.50,34.50 C186.52,34.63 187.55,35.83 188.60,36.60 C189.65,37.37 190.42,39.20 191.80,39.10 C193.18,39.00 195.50,36.02 196.90,36.00 C198.30,35.98 198.93,37.72 200.20,39.00 C201.47,40.28 203.03,42.17 204.50,43.70 C205.97,45.23 207.70,47.20 209.00,48.20 C210.30,49.20 211.18,50.27 212.30,49.70 C213.42,49.13 214.58,46.25 215.70,44.80 C216.82,43.35 217.70,41.93 219.00,41.00 C220.30,40.07 222.18,39.23 223.50,39.20 C224.82,39.17 225.77,39.30 226.90,40.80 C228.03,42.30 229.25,45.85 230.30,48.20 C231.35,50.55 232.38,53.52 233.20,54.90 C234.02,56.28 234.38,57.13 235.20,56.50 C236.02,55.87 237.05,52.60 238.10,51.10 C239.15,49.60 240.38,47.80 241.50,47.50 C242.62,47.20 243.57,48.55 244.80,49.30 C246.03,50.05 247.58,52.00 248.90,52.00 C250.22,52.00 251.33,50.32 252.70,49.30 C254.07,48.28 255.62,46.83 257.10,45.90 C258.58,44.97 260.28,44.43 261.60,43.70 C262.92,42.97 264.07,42.43 265.00,41.50 C265.93,40.57 266.83,38.67 267.20,38.10" fill="none" stroke="#000" stroke-width="1.7" stroke-linejoin="round" clip-path="url(#ca)"/>
<line x1="40.7" y1="130.8" x2="277.2" y2="130.8" stroke="#9a9a9a" stroke-width="1.1" stroke-dasharray="3.9,1.7"/>
<g clip-path="url(#cb)" fill="none" stroke-linejoin="round">
<path d="M40.70,130.40 C43.92,130.37 54.15,130.18 60.00,130.20 C65.85,130.22 69.13,130.33 75.80,130.50 C82.47,130.67 92.63,131.00 100.00,131.20 C107.37,131.40 112.47,131.57 120.00,131.70 C127.53,131.83 138.05,131.77 145.20,132.00 C152.35,132.23 158.60,132.68 162.90,133.10 C167.20,133.52 168.48,133.98 171.00,134.50 C173.52,135.02 175.55,135.70 178.00,136.20 C180.45,136.70 183.37,137.05 185.70,137.50 C188.03,137.95 189.62,138.35 192.00,138.90 C194.38,139.45 196.43,140.05 200.00,140.80 C203.57,141.55 208.92,142.48 213.40,143.40 C217.88,144.32 222.42,145.25 226.90,146.30 C231.38,147.35 236.20,148.57 240.30,149.70 C244.40,150.83 248.13,151.98 251.50,153.10 C254.87,154.22 258.07,155.55 260.50,156.40 C262.93,157.25 263.32,157.90 266.10,158.20 C268.88,158.50 275.35,158.20 277.20,158.20" stroke="#149a14" stroke-width="1.6"/>
<path d="M40.70,158.20 C41.42,158.00 43.35,157.43 45.00,157.00 C46.65,156.57 48.62,155.67 50.60,155.60 C52.58,155.53 54.80,156.85 56.90,156.60 C59.00,156.35 61.35,154.70 63.20,154.10 C65.05,153.50 66.32,153.42 68.00,153.00 C69.68,152.58 71.37,151.67 73.30,151.60 C75.23,151.53 77.08,152.60 79.60,152.60 C82.12,152.60 85.25,152.07 88.40,151.60 C91.55,151.13 94.72,150.30 98.50,149.80 C102.28,149.30 107.32,148.63 111.10,148.60 C114.88,148.57 118.05,149.60 121.20,149.60 C124.35,149.60 126.83,148.90 130.00,148.60 C133.17,148.30 136.83,148.13 140.20,147.80 C143.57,147.47 146.85,146.97 150.20,146.60 C153.55,146.23 157.77,145.95 160.30,145.60 C162.83,145.25 163.72,144.88 165.40,144.50 C167.08,144.12 168.30,144.12 170.40,143.30 C172.50,142.48 175.48,140.68 178.00,139.60 C180.52,138.52 183.17,137.62 185.50,136.80 C187.83,135.98 190.17,135.28 192.00,134.70 C193.83,134.12 195.17,133.45 196.50,133.30 C197.83,133.15 198.48,133.65 200.00,133.80 C201.52,133.95 203.73,134.22 205.60,134.20 C207.47,134.18 209.33,134.20 211.20,133.70 C213.07,133.20 214.93,131.90 216.80,131.20 C218.67,130.50 220.72,129.83 222.40,129.50 C224.08,129.17 225.58,129.07 226.90,129.20 C228.22,129.33 229.18,130.02 230.30,130.30 C231.42,130.58 232.30,131.12 233.60,130.90 C234.90,130.68 236.60,129.78 238.10,129.00 C239.60,128.22 240.92,126.78 242.60,126.20 C244.28,125.62 246.33,126.07 248.20,125.50 C250.07,124.93 251.75,123.70 253.80,122.80 C255.85,121.90 258.27,120.92 260.50,120.10 C262.73,119.28 265.33,118.75 267.20,117.90 C269.07,117.05 270.38,115.67 271.70,115.00 C273.02,114.33 274.18,114.02 275.10,113.90 C276.02,113.78 276.85,114.23 277.20,114.30" stroke="#000" stroke-width="1.6"/>
<path d="M40.70,158.70 C47.25,158.33 65.45,157.47 80.00,156.50 C94.55,155.53 118.82,153.72 128.00,152.90 C137.18,152.08 131.40,152.12 135.10,151.60 C138.80,151.08 146.00,150.30 150.20,149.80 C154.40,149.30 157.35,149.15 160.30,148.60 C163.25,148.05 165.37,147.57 167.90,146.50 C170.43,145.43 172.98,143.53 175.50,142.20 C178.02,140.87 180.48,139.90 183.00,138.50 C185.52,137.10 188.50,135.22 190.60,133.80 C192.70,132.38 194.03,131.20 195.60,130.00 C197.17,128.80 198.33,127.57 200.00,126.60 C201.67,125.63 203.73,124.97 205.60,124.20 C207.47,123.43 209.15,122.93 211.20,122.00 C213.25,121.07 215.28,119.95 217.90,118.60 C220.52,117.25 223.90,115.43 226.90,113.90 C229.90,112.37 233.72,110.63 235.90,109.40 C238.08,108.17 238.38,107.73 240.00,106.50 C241.62,105.27 243.73,103.50 245.60,102.00 C247.47,100.50 249.63,98.75 251.20,97.50 C252.77,96.25 253.45,95.88 255.00,94.50 C256.55,93.12 258.83,91.20 260.50,89.20 C262.17,87.20 263.88,84.03 265.00,82.50 C266.12,80.97 266.83,80.42 267.20,80.00" stroke="#0a0aff" stroke-width="1.5"/>
</g>
<rect x="40.5" y="1.5" width="237.0" height="79.0" fill="none" stroke="#000" stroke-opacity="0.55" stroke-width="1"/>
<rect x="40.5" y="80.5" width="237.0" height="78.0" fill="none" stroke="#000" stroke-opacity="0.55" stroke-width="1"/>
<rect x="40.5" y="158.5" width="237.0" height="158.0" fill="none" stroke="#000" stroke-opacity="0.55" stroke-width="1"/>
<rect x="40.5" y="316.5" width="237.0" height="157.0" fill="none" stroke="#000" stroke-opacity="0.55" stroke-width="1"/>
<line x1="37.9" y1="14.40" x2="40.7" y2="14.40" stroke="#000" stroke-opacity="0.55" stroke-width="1"/>
<text x="34.8" y="18.50" class="tl" text-anchor="end">0.8</text>
<line x1="37.9" y1="40.95" x2="40.7" y2="40.95" stroke="#000" stroke-opacity="0.55" stroke-width="1"/>
<text x="34.8" y="45.05" class="tl" text-anchor="end">0.6</text>
<line x1="37.9" y1="67.50" x2="40.7" y2="67.50" stroke="#000" stroke-opacity="0.55" stroke-width="1"/>
<text x="34.8" y="71.60" class="tl" text-anchor="end">0.4</text>
<line x1="37.9" y1="89.20" x2="40.7" y2="89.20" stroke="#000" stroke-opacity="0.55" stroke-width="1"/>
<text x="34.8" y="93.30" class="tl" text-anchor="end">2.5</text>
<line x1="37.9" y1="103.00" x2="40.7" y2="103.00" stroke="#000" stroke-opacity="0.55" stroke-width="1"/>
<text x="34.8" y="107.10" class="tl" text-anchor="end">2.0</text>
<line x1="37.9" y1="116.80" x2="40.7" y2="116.80" stroke="#000" stroke-opacity="0.55" stroke-width="1"/>
<text x="34.8" y="120.90" class="tl" text-anchor="end">1.5</text>
<line x1="37.9" y1="130.60" x2="40.7" y2="130.60" stroke="#000" stroke-opacity="0.55" stroke-width="1"/>
<text x="34.8" y="134.70" class="tl" text-anchor="end">1.0</text>
<line x1="37.9" y1="144.40" x2="40.7" y2="144.40" stroke="#000" stroke-opacity="0.55" stroke-width="1"/>
<text x="34.8" y="148.50" class="tl" text-anchor="end">0.5</text>
<line x1="37.9" y1="312.60" x2="40.7" y2="312.60" stroke="#000" stroke-opacity="0.55" stroke-width="1"/>
<text x="34.8" y="316.70" class="tl" text-anchor="end">2</text>
<line x1="37.9" y1="266.54" x2="40.7" y2="266.54" stroke="#000" stroke-opacity="0.55" stroke-width="1"/>
<text x="34.8" y="270.64" class="tl" text-anchor="end">4</text>
<line x1="37.9" y1="220.48" x2="40.7" y2="220.48" stroke="#000" stroke-opacity="0.55" stroke-width="1"/>
<text x="34.8" y="224.58" class="tl" text-anchor="end">8</text>
<line x1="37.9" y1="174.43" x2="40.7" y2="174.43" stroke="#000" stroke-opacity="0.55" stroke-width="1"/>
<text x="34.8" y="178.53" class="tl" text-anchor="end">16</text>
<line x1="39.1" y1="285.66" x2="40.7" y2="285.66" stroke="#000" stroke-opacity="0.55" stroke-width="1"/>
<line x1="39.1" y1="251.72" x2="40.7" y2="251.72" stroke="#000" stroke-opacity="0.55" stroke-width="1"/>
<line x1="39.1" y1="239.60" x2="40.7" y2="239.60" stroke="#000" stroke-opacity="0.55" stroke-width="1"/>
<line x1="39.1" y1="229.36" x2="40.7" y2="229.36" stroke="#000" stroke-opacity="0.55" stroke-width="1"/>
<line x1="39.1" y1="212.66" x2="40.7" y2="212.66" stroke="#000" stroke-opacity="0.55" stroke-width="1"/>
<line x1="39.1" y1="205.66" x2="40.7" y2="205.66" stroke="#000" stroke-opacity="0.55" stroke-width="1"/>
<line x1="37.9" y1="469.70" x2="40.7" y2="469.70" stroke="#000" stroke-opacity="0.55" stroke-width="1"/>
<text x="34.8" y="473.80" class="tl" text-anchor="end">2</text>
<line x1="37.9" y1="423.70" x2="40.7" y2="423.70" stroke="#000" stroke-opacity="0.55" stroke-width="1"/>
<text x="34.8" y="427.80" class="tl" text-anchor="end">4</text>
<line x1="37.9" y1="377.71" x2="40.7" y2="377.71" stroke="#000" stroke-opacity="0.55" stroke-width="1"/>
<text x="34.8" y="381.81" class="tl" text-anchor="end">8</text>
<line x1="37.9" y1="331.71" x2="40.7" y2="331.71" stroke="#000" stroke-opacity="0.55" stroke-width="1"/>
<text x="34.8" y="335.81" class="tl" text-anchor="end">16</text>
<line x1="39.1" y1="442.79" x2="40.7" y2="442.79" stroke="#000" stroke-opacity="0.55" stroke-width="1"/>
<line x1="39.1" y1="408.89" x2="40.7" y2="408.89" stroke="#000" stroke-opacity="0.55" stroke-width="1"/>
<line x1="39.1" y1="396.80" x2="40.7" y2="396.80" stroke="#000" stroke-opacity="0.55" stroke-width="1"/>
<line x1="39.1" y1="386.57" x2="40.7" y2="386.57" stroke="#000" stroke-opacity="0.55" stroke-width="1"/>
<line x1="39.1" y1="369.89" x2="40.7" y2="369.89" stroke="#000" stroke-opacity="0.55" stroke-width="1"/>
<line x1="39.1" y1="362.90" x2="40.7" y2="362.90" stroke="#000" stroke-opacity="0.55" stroke-width="1"/>
<line x1="93.25" y1="473.3" x2="93.25" y2="476.3" stroke="#000" stroke-opacity="0.55" stroke-width="1"/>
<text x="93.25" y="487.6" class="tl" text-anchor="middle">75000</text>
<line x1="154.40" y1="473.3" x2="154.40" y2="476.3" stroke="#000" stroke-opacity="0.55" stroke-width="1"/>
<text x="154.40" y="487.6" class="tl" text-anchor="middle">80000</text>
<line x1="215.55" y1="473.3" x2="215.55" y2="476.3" stroke="#000" stroke-opacity="0.55" stroke-width="1"/>
<text x="215.55" y="487.6" class="tl" text-anchor="middle">85000</text>
<line x1="276.70" y1="473.3" x2="276.70" y2="476.3" stroke="#000" stroke-opacity="0.55" stroke-width="1"/>
<text x="276.70" y="487.6" class="tl" text-anchor="middle">90000</text>
<text x="254" y="16.3" class="pl">(a)</text>
<text x="43.2" y="93.6" class="pl">(b)</text>
<text x="254" y="182.3" class="pl" style="fill:#fff;stroke:#fff;stroke-width:0.15px">(c)</text>
<text x="253" y="339.5" class="pl" style="fill:#fff;stroke:#fff;stroke-width:0.15px">(d)</text>
<text transform="translate(10.3,62.4) rotate(-90)" class="ml" style="font-size:12.5px;letter-spacing:0.2px"><tspan style="font-weight:bold">ℓ</tspan><tspan class="sub" dy="1.8" style="font-size:9px">accr</tspan><tspan dy="-1.8">/</tspan><tspan style="font-weight:bold">ℓ</tspan><tspan class="sub" dy="1.8" style="font-size:9px">c</tspan></text>
<text transform="translate(10.0,154.6) rotate(-90)" class="ml" style="font-size:10.6px;letter-spacing:1.05px">M(t)/M<tspan class="sub" dy="2.2" style="font-size:9px;letter-spacing:0.75px;font-style:normal">disk, 0</tspan></text>
<text transform="translate(11.8,252.6) rotate(-90)" class="ml" style="font-size:12px;letter-spacing:1.5px">r<tspan dx="1.4" style="font-style:normal">[</tspan>r<tspan class="sub" dy="2.3" style="font-size:9px;font-style:normal">g</tspan><tspan dy="-2.3" style="font-style:normal">]</tspan></text>
<text transform="translate(11.8,409.8) rotate(-90)" class="ml" style="font-size:12px;letter-spacing:1.5px">r<tspan dx="1.4" style="font-style:normal">[</tspan>r<tspan class="sub" dy="2.3" style="font-size:9px;font-style:normal">g</tspan><tspan dy="-2.3" style="font-style:normal">]</tspan></text>
<text x="139.4" y="503.8" class="ml" style="font-size:12px;letter-spacing:1.75px">t<tspan style="font-style:normal">[</tspan>r<tspan class="sub" dy="2.3" style="font-size:9px;font-style:normal">g</tspan><tspan dy="-2.3">/c</tspan><tspan style="font-style:normal">]</tspan></text>
<line x1="280.2" y1="96.6" x2="297.3" y2="96.6" stroke="#000" stroke-width="1.6"/>
<line x1="280.2" y1="123.1" x2="297.3" y2="123.1" stroke="#0a0aff" stroke-width="1.6"/>
<line x1="280.2" y1="144.6" x2="297.3" y2="144.6" stroke="#149a14" stroke-width="1.6"/>
<text transform="translate(309.6,101.3) scale(0.9,1)" class="lg" style="font-style:normal;font-size:18.5px;stroke-width:0.2px">∫</text>
<text x="316.9" y="101.2" class="lg" style="font-size:13px">dM</text>
<text x="335.8" y="103.9" class="lg" style="font-style:normal;font-size:9.4px;letter-spacing:0.85px">tear</text>
<text transform="translate(309.6,127.0) scale(0.9,1)" class="lg" style="font-style:normal;font-size:18.5px;stroke-width:0.2px">∫</text>
<text x="316.9" y="127.9" class="lg" style="font-size:13px">dM</text>
<text x="336.4" y="130.4" class="lg" style="font-style:normal;font-size:9.4px;letter-spacing:0.2px">BH</text>
<text x="307.3" y="149.0" class="lg" style="font-size:12px">M</text>
<text x="319.3" y="151.7" class="lg" style="font-style:normal;font-size:9.4px;letter-spacing:0.7px">disk</text>
<linearGradient id="gc" x1="0" y1="1" x2="0" y2="0">
<stop offset="0.000" stop-color="#313695"/>
<stop offset="0.031" stop-color="#374a9f"/>
<stop offset="0.062" stop-color="#3e5ea8"/>
<stop offset="0.094" stop-color="#4471b2"/>
<stop offset="0.125" stop-color="#5183bb"/>
<stop offset="0.156" stop-color="#6095c4"/>
<stop offset="0.188" stop-color="#6ea6ce"/>
<stop offset="0.219" stop-color="#7fb6d6"/>
<stop offset="0.250" stop-color="#90c3dd"/>
<stop offset="0.281" stop-color="#a1d1e5"/>
<stop offset="0.312" stop-color="#b2ddeb"/>
<stop offset="0.344" stop-color="#c3e5f0"/>
<stop offset="0.375" stop-color="#d4edf4"/>
<stop offset="0.406" stop-color="#e2f4f4"/>
<stop offset="0.438" stop-color="#ecf8e2"/>
<stop offset="0.469" stop-color="#f6fbd0"/>
<stop offset="0.500" stop-color="#fffebe"/>
<stop offset="0.531" stop-color="#fff5af"/>
<stop offset="0.562" stop-color="#feeba1"/>
<stop offset="0.594" stop-color="#fee192"/>
<stop offset="0.625" stop-color="#fed283"/>
<stop offset="0.656" stop-color="#fdc374"/>
<stop offset="0.688" stop-color="#fdb366"/>
<stop offset="0.719" stop-color="#fba05b"/>
<stop offset="0.750" stop-color="#f88c51"/>
<stop offset="0.781" stop-color="#f57748"/>
<stop offset="0.812" stop-color="#ef633f"/>
<stop offset="0.844" stop-color="#e65036"/>
<stop offset="0.875" stop-color="#dd3d2d"/>
<stop offset="0.906" stop-color="#d22b27"/>
<stop offset="0.938" stop-color="#c21c27"/>
<stop offset="0.969" stop-color="#b30d26"/>
<stop offset="1.000" stop-color="#a50026"/>
</linearGradient>
<rect x="279.2" y="166.00" width="9.6" height="142.70" fill="url(#gc)"/>
<path d="M279.2,166.30 L284.0,158.50 L288.8,166.30 Z" fill="#a50026"/>
<path d="M279.2,308.40 L284.0,316.00 L288.8,308.40 Z" fill="#313695"/>
<path d="M279.2,166.00 L284.0,158.50 L288.8,166.00 L288.8,308.70 L284.0,316.00 L279.2,308.70 Z" fill="none" stroke="#888" stroke-width="0.6"/>
<linearGradient id="gd" x1="0" y1="1" x2="0" y2="0">
<stop offset="0.000" stop-color="#000000"/>
<stop offset="0.031" stop-color="#050274"/>
<stop offset="0.062" stop-color="#0b1575"/>
<stop offset="0.094" stop-color="#102777"/>
<stop offset="0.125" stop-color="#153978"/>
<stop offset="0.156" stop-color="#1b497a"/>
<stop offset="0.188" stop-color="#20597b"/>
<stop offset="0.219" stop-color="#25677d"/>
<stop offset="0.250" stop-color="#2b737e"/>
<stop offset="0.281" stop-color="#308080"/>
<stop offset="0.312" stop-color="#348576"/>
<stop offset="0.344" stop-color="#38896c"/>
<stop offset="0.375" stop-color="#3b8e62"/>
<stop offset="0.406" stop-color="#3f9258"/>
<stop offset="0.438" stop-color="#43974f"/>
<stop offset="0.469" stop-color="#4c9c47"/>
<stop offset="0.500" stop-color="#5ea04b"/>
<stop offset="0.531" stop-color="#6fa450"/>
<stop offset="0.562" stop-color="#7fa853"/>
<stop offset="0.594" stop-color="#8cab56"/>
<stop offset="0.625" stop-color="#99af58"/>
<stop offset="0.656" stop-color="#a7b25b"/>
<stop offset="0.688" stop-color="#b4b65d"/>
<stop offset="0.719" stop-color="#b9b260"/>
<stop offset="0.750" stop-color="#bdab62"/>
<stop offset="0.781" stop-color="#c0a465"/>
<stop offset="0.812" stop-color="#c8a779"/>
<stop offset="0.844" stop-color="#d1ae8c"/>
<stop offset="0.875" stop-color="#dab7a0"/>
<stop offset="0.906" stop-color="#e3c3b6"/>
<stop offset="0.938" stop-color="#ecd3ce"/>
<stop offset="0.969" stop-color="#f5e7e6"/>
<stop offset="1.000" stop-color="#fdfbfb"/>
</linearGradient>
<rect x="279.2" y="324.00" width="9.6" height="142.40" fill="url(#gd)"/>
<path d="M279.2,324.30 L284.0,316.30 L288.8,324.30 Z" fill="#fdfbfb"/>
<path d="M279.2,466.10 L284.0,473.40 L288.8,466.10 Z" fill="#000000"/>
<path d="M279.2,324.00 L284.0,316.30 L288.8,324.00 L288.8,466.40 L284.0,473.40 L279.2,466.40 Z" fill="none" stroke="#888" stroke-width="0.6"/>
<line x1="288.8" y1="308.70" x2="291.6" y2="308.70" stroke="#444" stroke-width="0.9"/>
<text x="294.4" y="311.90" class="cb">0</text>
<circle cx="303.70" cy="306.10" r="0.95" fill="none" stroke="#555" stroke-width="0.55"/>
<line x1="288.8" y1="288.31" x2="291.6" y2="288.31" stroke="#444" stroke-width="0.9"/>
<text x="294.4" y="291.51" class="cb">10</text>
<circle cx="309.00" cy="285.71" r="0.95" fill="none" stroke="#555" stroke-width="0.55"/>
<line x1="288.8" y1="267.93" x2="291.6" y2="267.93" stroke="#444" stroke-width="0.9"/>
<text x="294.4" y="271.13" class="cb">20</text>
<circle cx="309.00" cy="265.33" r="0.95" fill="none" stroke="#555" stroke-width="0.55"/>
<line x1="288.8" y1="247.54" x2="291.6" y2="247.54" stroke="#444" stroke-width="0.9"/>
<text x="294.4" y="250.74" class="cb">30</text>
<circle cx="309.00" cy="244.94" r="0.95" fill="none" stroke="#555" stroke-width="0.55"/>
<line x1="288.8" y1="227.16" x2="291.6" y2="227.16" stroke="#444" stroke-width="0.9"/>
<text x="294.4" y="230.36" class="cb">40</text>
<circle cx="309.00" cy="224.56" r="0.95" fill="none" stroke="#555" stroke-width="0.55"/>
<line x1="288.8" y1="206.77" x2="291.6" y2="206.77" stroke="#444" stroke-width="0.9"/>
<text x="294.4" y="209.97" class="cb">50</text>
<circle cx="309.00" cy="204.17" r="0.95" fill="none" stroke="#555" stroke-width="0.55"/>
<line x1="288.8" y1="186.39" x2="291.6" y2="186.39" stroke="#444" stroke-width="0.9"/>
<text x="294.4" y="189.59" class="cb">60</text>
<circle cx="309.00" cy="183.79" r="0.95" fill="none" stroke="#555" stroke-width="0.55"/>
<line x1="288.8" y1="466.40" x2="291.6" y2="466.40" stroke="#444" stroke-width="0.9"/>
<text x="294.6" y="470.80" class="cb">10</text>
<text x="305.9" y="467.70" class="cb" style="font-size:8px">−</text>
<text x="311.9" y="467.70" class="cb" style="font-size:8px">5</text>
<line x1="288.8" y1="430.80" x2="291.6" y2="430.80" stroke="#444" stroke-width="0.9"/>
<text x="294.6" y="435.20" class="cb">10</text>
<text x="305.9" y="432.10" class="cb" style="font-size:8px">−</text>
<text x="311.9" y="432.10" class="cb" style="font-size:8px">4</text>
<line x1="288.8" y1="395.20" x2="291.6" y2="395.20" stroke="#444" stroke-width="0.9"/>
<text x="294.6" y="399.60" class="cb">10</text>
<text x="305.9" y="396.50" class="cb" style="font-size:8px">−</text>
<text x="311.9" y="396.50" class="cb" style="font-size:8px">3</text>
<line x1="288.8" y1="359.60" x2="291.6" y2="359.60" stroke="#444" stroke-width="0.9"/>
<text x="294.6" y="364.00" class="cb">10</text>
<text x="305.9" y="360.90" class="cb" style="font-size:8px">−</text>
<text x="311.9" y="360.90" class="cb" style="font-size:8px">2</text>
<line x1="288.8" y1="324.00" x2="291.6" y2="324.00" stroke="#444" stroke-width="0.9"/>
<text x="294.6" y="328.40" class="cb">10</text>
<text x="305.9" y="325.30" class="cb" style="font-size:8px">−</text>
<text x="311.9" y="325.30" class="cb" style="font-size:8px">1</text>
<text transform="translate(323.6,238) rotate(-90)" class="cl" text-anchor="middle">Tilt</text>
<text transform="translate(328.6,396) rotate(-90)" class="cl" text-anchor="middle" style="font-size:12.6px">Dissipation</text></svg></div></body></html>
